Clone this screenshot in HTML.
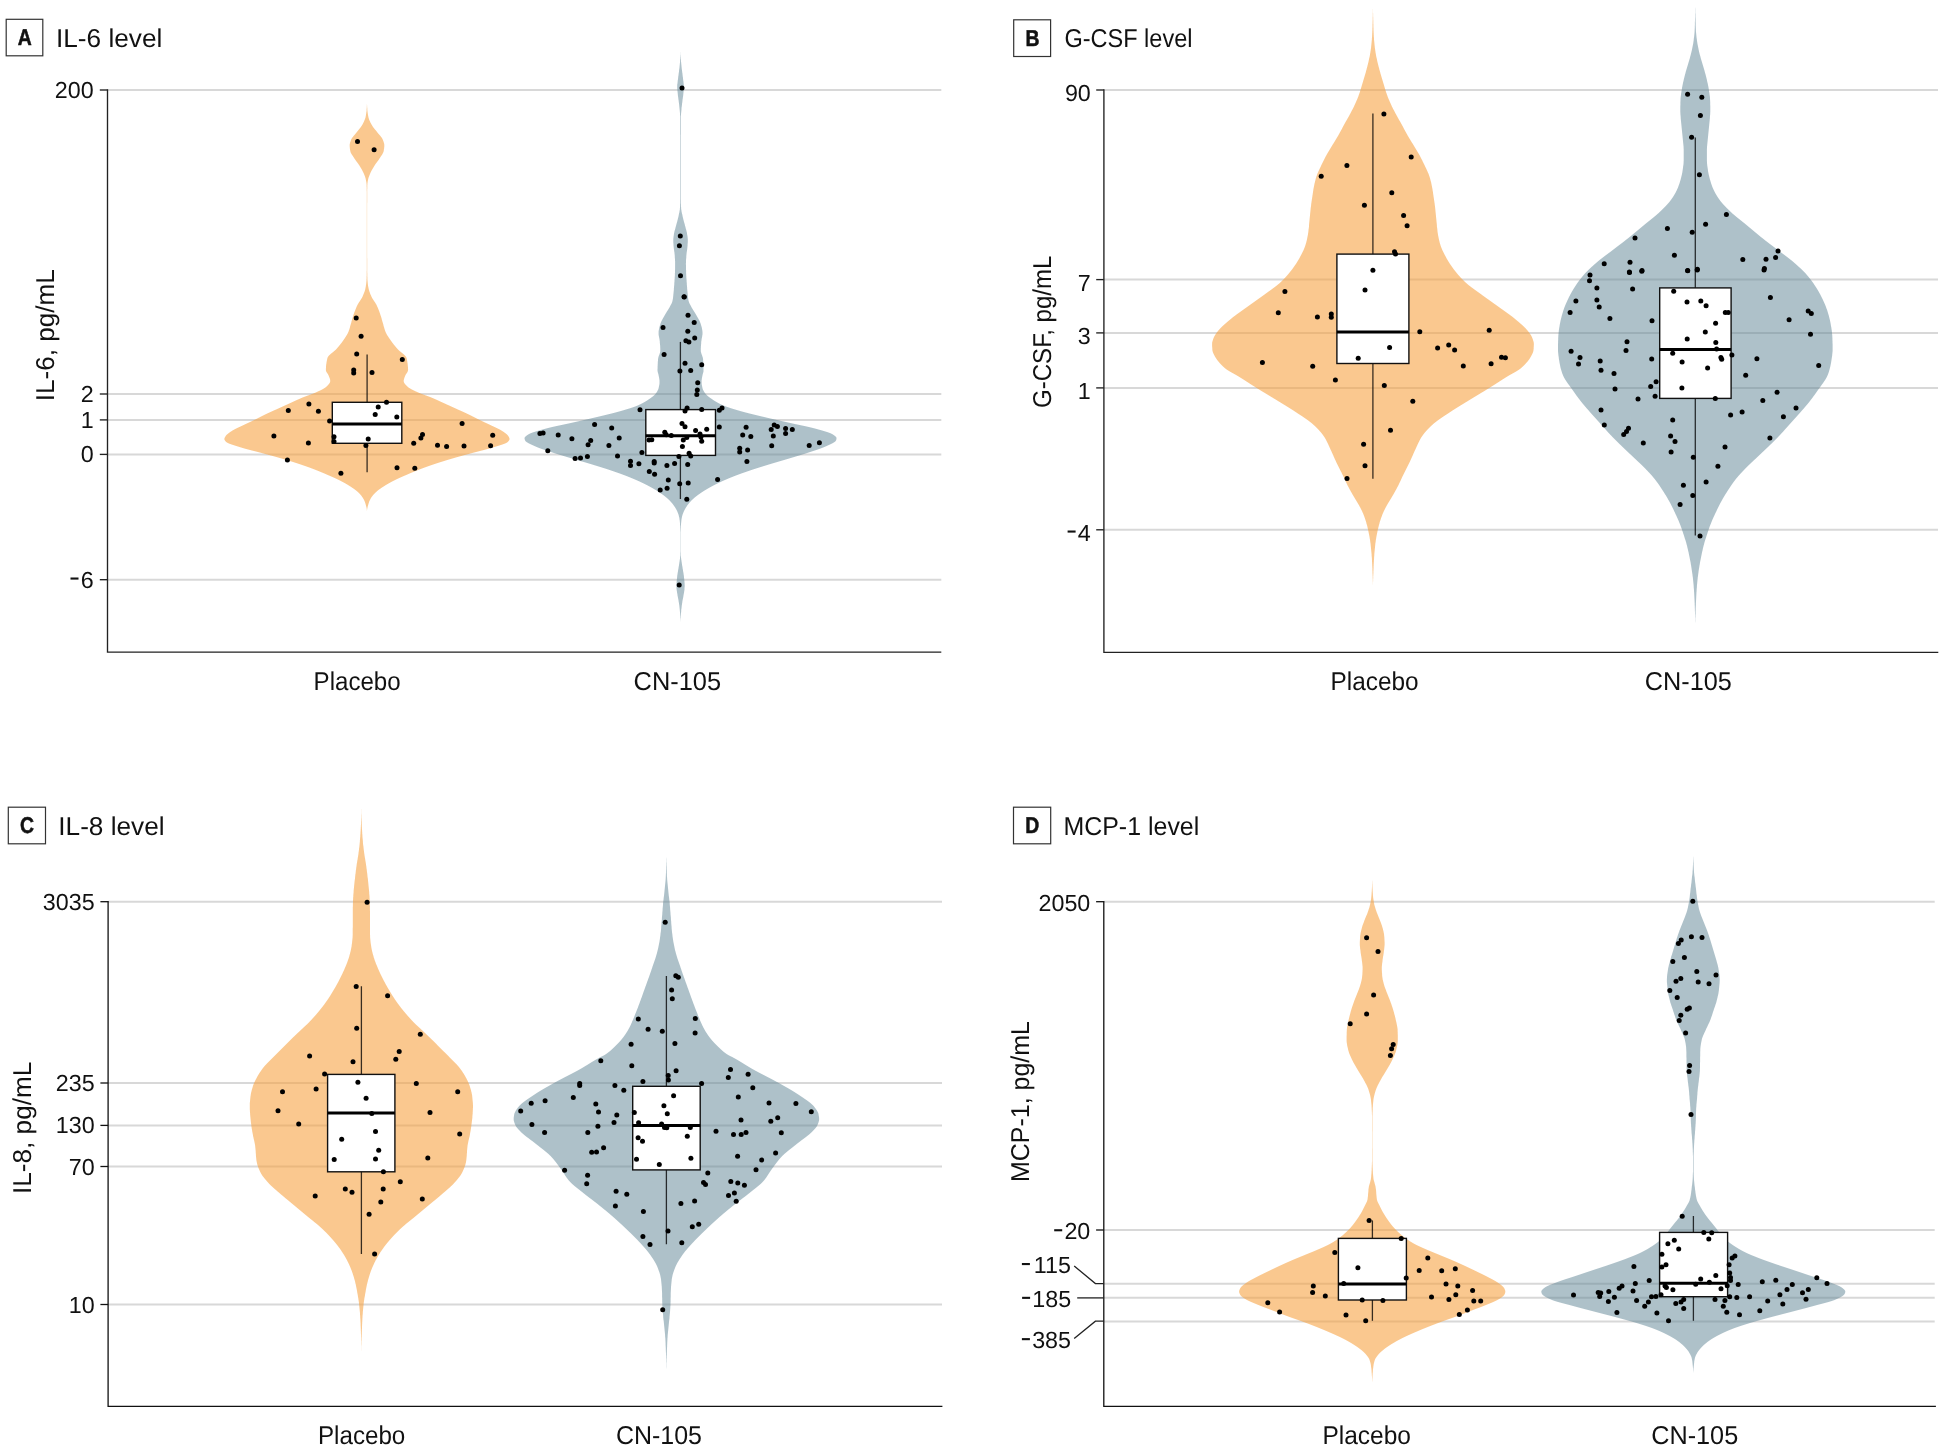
<!DOCTYPE html>
<html><head><meta charset="utf-8"><title>Figure</title>
<style>html,body{margin:0;padding:0;background:#fff}svg{display:block;will-change:transform}text{font-family:"Liberation Sans",sans-serif;fill:#111;text-rendering:geometricPrecision}</style></head><body>
<svg width="1944" height="1450" viewBox="0 0 1944 1450">
<rect width="1944" height="1450" fill="#fff"/>
<g id="panelA">
<line x1="107.5" y1="90" x2="941.3" y2="90" stroke="#d8d8d8" stroke-width="2"/>
<line x1="107.5" y1="394" x2="941.3" y2="394" stroke="#d8d8d8" stroke-width="2"/>
<line x1="107.5" y1="419.9" x2="941.3" y2="419.9" stroke="#d8d8d8" stroke-width="2"/>
<line x1="107.5" y1="454.4" x2="941.3" y2="454.4" stroke="#d8d8d8" stroke-width="2"/>
<line x1="107.5" y1="579.7" x2="941.3" y2="579.7" stroke="#d8d8d8" stroke-width="2"/>
<path d="M367.0,101.4 367.0,102.4 367.0,103.4 367.0,104.4 367.1,105.4 367.1,106.4 367.2,107.4 367.3,108.4 367.3,109.4 367.4,110.4 367.5,111.4 367.6,112.4 367.8,113.4 367.9,114.4 368.1,115.4 368.3,116.4 368.5,117.4 368.8,118.4 369.1,119.4 369.5,120.4 370.0,121.4 370.4,122.4 371.0,123.4 371.5,124.4 372.1,125.4 372.7,126.4 373.4,127.4 374.2,128.4 375.0,129.4 375.9,130.4 376.7,131.4 377.4,132.4 378.2,133.4 379.1,134.4 380.0,135.4 380.8,136.4 381.6,137.4 382.2,138.4 382.7,139.4 383.1,140.4 383.5,141.4 383.8,142.4 384.1,143.4 384.3,144.4 384.3,145.4 384.3,146.4 384.2,147.4 384.1,148.4 383.9,149.4 383.8,150.4 383.6,151.4 383.2,152.4 382.7,153.4 382.2,154.4 381.5,155.4 380.8,156.4 380.2,157.4 379.5,158.4 378.9,159.4 378.2,160.4 377.4,161.4 376.7,162.4 375.9,163.4 375.2,164.4 374.6,165.4 374.0,166.4 373.4,167.4 372.8,168.4 372.2,169.4 371.6,170.4 371.1,171.4 370.6,172.4 370.2,173.4 369.8,174.4 369.4,175.4 369.0,176.4 368.6,177.4 368.3,178.4 368.1,179.4 367.9,180.4 367.7,181.4 367.6,182.4 367.4,183.4 367.4,184.4 367.3,185.4 367.3,186.4 367.3,187.4 367.3,188.4 367.2,189.4 367.2,190.4 367.2,191.4 367.2,192.4 367.2,193.4 367.2,194.4 367.2,195.4 367.2,196.4 367.2,197.4 367.2,198.4 367.2,199.4 367.2,200.4 367.2,201.4 367.2,202.4 367.1,203.4 367.1,204.4 367.1,205.4 367.1,206.4 367.1,207.4 367.1,208.4 367.1,209.4 367.1,210.4 367.1,211.4 367.1,212.4 367.1,213.4 367.1,214.4 367.1,215.4 367.1,216.4 367.1,217.4 367.1,218.4 367.1,219.4 367.1,220.4 367.1,221.4 367.1,222.4 367.1,223.4 367.1,224.4 367.1,225.4 367.1,226.4 367.1,227.4 367.1,228.4 367.1,229.4 367.1,230.4 367.1,231.4 367.1,232.4 367.1,233.4 367.1,234.4 367.1,235.4 367.1,236.4 367.1,237.4 367.1,238.4 367.1,239.4 367.1,240.4 367.1,241.4 367.1,242.4 367.1,243.4 367.1,244.4 367.1,245.4 367.1,246.4 367.1,247.4 367.1,248.4 367.1,249.4 367.1,250.4 367.1,251.4 367.1,252.4 367.1,253.4 367.1,254.4 367.1,255.4 367.1,256.4 367.1,257.4 367.2,258.4 367.2,259.4 367.2,260.4 367.2,261.4 367.2,262.4 367.2,263.4 367.2,264.4 367.2,265.4 367.2,266.4 367.2,267.4 367.2,268.4 367.2,269.4 367.2,270.4 367.2,271.4 367.2,272.4 367.3,273.4 367.3,274.4 367.3,275.4 367.3,276.4 367.4,277.4 367.4,278.4 367.4,279.4 367.5,280.4 367.6,281.4 367.7,282.4 367.8,283.4 367.9,284.4 368.0,285.4 368.2,286.4 368.4,287.4 368.6,288.4 368.8,289.4 369.1,290.4 369.4,291.4 369.8,292.4 370.1,293.4 370.5,294.4 371.0,295.4 371.4,296.4 371.9,297.4 372.4,298.4 373.1,299.4 373.7,300.4 374.4,301.4 375.1,302.4 375.7,303.4 376.3,304.4 376.8,305.4 377.2,306.4 377.7,307.4 378.1,308.4 378.5,309.4 378.9,310.4 379.3,311.4 379.6,312.4 380.0,313.4 380.3,314.4 380.6,315.4 381.0,316.4 381.3,317.4 381.6,318.4 381.8,319.4 382.1,320.4 382.4,321.4 382.7,322.4 383.0,323.4 383.3,324.4 383.5,325.4 383.8,326.4 384.1,327.4 384.4,328.4 384.7,329.4 385.0,330.4 385.4,331.4 385.8,332.4 386.3,333.4 386.8,334.4 387.4,335.4 388.1,336.4 388.7,337.4 389.4,338.4 390.1,339.4 390.8,340.4 391.5,341.4 392.2,342.4 393.0,343.4 393.7,344.4 394.6,345.4 395.4,346.4 396.2,347.4 397.1,348.4 398.0,349.4 399.0,350.4 400.2,351.4 401.5,352.4 402.7,353.4 403.9,354.4 404.9,355.4 405.8,356.4 406.4,357.4 406.7,358.4 406.9,359.4 407.1,360.4 407.3,361.4 407.4,362.4 407.6,363.4 407.7,364.4 407.8,365.4 407.9,366.4 408.0,367.4 408.0,368.4 408.1,369.4 408.0,370.4 407.7,371.4 407.2,372.4 406.5,373.4 405.8,374.4 405.3,375.4 404.9,376.4 404.5,377.4 404.2,378.4 403.9,379.4 403.7,380.4 403.7,381.4 404.0,382.4 404.6,383.4 405.4,384.4 406.4,385.4 407.4,386.4 408.5,387.4 410.1,388.4 411.9,389.4 413.9,390.4 416.0,391.4 418.2,392.4 420.6,393.4 423.2,394.4 426.0,395.4 428.8,396.4 431.3,397.4 433.7,398.4 436.0,399.4 438.1,400.4 440.3,401.4 442.5,402.4 444.7,403.4 446.9,404.4 449.1,405.4 451.3,406.4 453.5,407.4 455.7,408.4 457.9,409.4 460.1,410.4 462.4,411.4 464.6,412.4 466.7,413.4 468.8,414.4 470.9,415.4 472.8,416.4 474.8,417.4 476.7,418.4 478.7,419.4 480.8,420.4 482.9,421.4 485.0,422.4 487.1,423.4 489.3,424.4 491.3,425.4 493.5,426.4 495.6,427.4 497.7,428.4 499.7,429.4 501.4,430.4 503.0,431.4 504.4,432.4 505.8,433.4 507.0,434.4 507.9,435.4 508.6,436.4 509.1,437.4 509.5,438.4 509.5,439.4 509.0,440.4 508.2,441.4 507.1,442.4 505.1,443.4 502.4,444.4 499.3,445.4 496.1,446.4 492.9,447.4 489.5,448.4 485.8,449.4 481.9,450.4 478.0,451.4 474.1,452.4 470.4,453.4 466.7,454.4 463.0,455.4 459.4,456.4 455.8,457.4 452.4,458.4 449.0,459.4 445.7,460.4 442.5,461.4 439.3,462.4 436.2,463.4 433.2,464.4 430.3,465.4 427.5,466.4 424.7,467.4 422.0,468.4 419.4,469.4 416.8,470.4 414.4,471.4 412.0,472.4 409.6,473.4 407.3,474.4 405.0,475.4 402.7,476.4 400.4,477.4 398.2,478.4 396.1,479.4 394.1,480.4 392.1,481.4 390.3,482.4 388.5,483.4 386.8,484.4 385.1,485.4 383.6,486.4 382.0,487.4 380.6,488.4 379.1,489.4 377.8,490.4 376.7,491.4 375.6,492.4 374.6,493.4 373.6,494.4 372.8,495.4 372.0,496.4 371.3,497.4 370.7,498.4 370.2,499.4 369.7,500.4 369.2,501.4 368.9,502.4 368.6,503.4 368.3,504.4 368.0,505.4 367.7,506.4 367.5,507.4 367.3,508.4 367.1,509.4 367.0,510.4 367.0,511.2 367.0,511.2 366.9,510.4 366.8,509.4 366.7,508.4 366.5,507.4 366.2,506.4 366.0,505.4 365.7,504.4 365.4,503.4 365.1,502.4 364.7,501.4 364.3,500.4 363.8,499.4 363.2,498.4 362.6,497.4 361.9,496.4 361.2,495.4 360.3,494.4 359.4,493.4 358.4,492.4 357.3,491.4 356.1,490.4 354.8,489.4 353.4,488.4 351.9,487.4 350.4,486.4 348.8,485.4 347.2,484.4 345.5,483.4 343.7,482.4 341.8,481.4 339.9,480.4 337.9,479.4 335.8,478.4 333.6,477.4 331.3,476.4 329.0,475.4 326.7,474.4 324.4,473.4 322.0,472.4 319.6,471.4 317.1,470.4 314.6,469.4 312.0,468.4 309.3,467.4 306.5,466.4 303.6,465.4 300.7,464.4 297.7,463.4 294.6,462.4 291.5,461.4 288.2,460.4 284.9,459.4 281.6,458.4 278.1,457.4 274.6,456.4 270.9,455.4 267.2,454.4 263.5,453.4 259.8,452.4 256.0,451.4 252.0,450.4 248.1,449.4 244.4,448.4 241.1,447.4 237.9,446.4 234.7,445.4 231.6,444.4 228.9,443.4 226.9,442.4 225.7,441.4 224.9,440.4 224.4,439.4 224.4,438.4 224.8,437.4 225.4,436.4 226.0,435.4 227.0,434.4 228.2,433.4 229.5,432.4 231.0,431.4 232.5,430.4 234.3,429.4 236.2,428.4 238.3,427.4 240.5,426.4 242.6,425.4 244.7,424.4 246.8,423.4 249.0,422.4 251.1,421.4 253.2,420.4 255.3,419.4 257.2,418.4 259.2,417.4 261.1,416.4 263.1,415.4 265.1,414.4 267.2,413.4 269.4,412.4 271.6,411.4 273.8,410.4 276.1,409.4 278.3,408.4 280.5,407.4 282.7,406.4 284.9,405.4 287.1,404.4 289.3,403.4 291.5,402.4 293.6,401.4 295.8,400.4 298.0,399.4 300.3,398.4 302.6,397.4 305.2,396.4 307.9,395.4 310.7,394.4 313.4,393.4 315.8,392.4 317.9,391.4 320.1,390.4 322.1,389.4 323.9,388.4 325.4,387.4 326.6,386.4 327.6,385.4 328.5,384.4 329.3,383.4 329.9,382.4 330.2,381.4 330.2,380.4 330.1,379.4 329.8,378.4 329.4,377.4 329.0,376.4 328.6,375.4 328.1,374.4 327.5,373.4 326.8,372.4 326.2,371.4 325.9,370.4 325.9,369.4 325.9,368.4 326.0,367.4 326.0,366.4 326.1,365.4 326.2,364.4 326.4,363.4 326.5,362.4 326.7,361.4 326.9,360.4 327.1,359.4 327.3,358.4 327.6,357.4 328.2,356.4 329.0,355.4 330.1,354.4 331.2,353.4 332.5,352.4 333.7,351.4 334.9,350.4 336.0,349.4 336.9,348.4 337.7,347.4 338.6,346.4 339.4,345.4 340.2,344.4 341.0,343.4 341.8,342.4 342.5,341.4 343.2,340.4 343.9,339.4 344.6,338.4 345.2,337.4 345.9,336.4 346.5,335.4 347.1,334.4 347.7,333.4 348.1,332.4 348.6,331.4 348.9,330.4 349.3,329.4 349.6,328.4 349.9,327.4 350.1,326.4 350.4,325.4 350.7,324.4 351.0,323.4 351.3,322.4 351.5,321.4 351.8,320.4 352.1,319.4 352.4,318.4 352.7,317.4 353.0,316.4 353.3,315.4 353.6,314.4 354.0,313.4 354.3,312.4 354.7,311.4 355.1,310.4 355.5,309.4 355.9,308.4 356.3,307.4 356.7,306.4 357.2,305.4 357.7,304.4 358.3,303.4 358.9,302.4 359.6,301.4 360.2,300.4 360.9,299.4 361.5,298.4 362.1,297.4 362.6,296.4 363.0,295.4 363.4,294.4 363.8,293.4 364.2,292.4 364.6,291.4 364.9,290.4 365.2,289.4 365.4,288.4 365.6,287.4 365.8,286.4 365.9,285.4 366.1,284.4 366.2,283.4 366.3,282.4 366.4,281.4 366.5,280.4 366.5,279.4 366.6,278.4 366.6,277.4 366.6,276.4 366.7,275.4 366.7,274.4 366.7,273.4 366.7,272.4 366.7,271.4 366.8,270.4 366.8,269.4 366.8,268.4 366.8,267.4 366.8,266.4 366.8,265.4 366.8,264.4 366.8,263.4 366.8,262.4 366.8,261.4 366.8,260.4 366.8,259.4 366.8,258.4 366.8,257.4 366.8,256.4 366.8,255.4 366.8,254.4 366.8,253.4 366.8,252.4 366.8,251.4 366.8,250.4 366.8,249.4 366.8,248.4 366.8,247.4 366.8,246.4 366.8,245.4 366.8,244.4 366.8,243.4 366.8,242.4 366.8,241.4 366.8,240.4 366.8,239.4 366.8,238.4 366.8,237.4 366.8,236.4 366.8,235.4 366.8,234.4 366.8,233.4 366.8,232.4 366.8,231.4 366.8,230.4 366.8,229.4 366.8,228.4 366.8,227.4 366.8,226.4 366.8,225.4 366.8,224.4 366.8,223.4 366.8,222.4 366.8,221.4 366.8,220.4 366.8,219.4 366.8,218.4 366.8,217.4 366.8,216.4 366.8,215.4 366.8,214.4 366.8,213.4 366.8,212.4 366.8,211.4 366.8,210.4 366.8,209.4 366.8,208.4 366.8,207.4 366.8,206.4 366.8,205.4 366.8,204.4 366.8,203.4 366.8,202.4 366.8,201.4 366.8,200.4 366.8,199.4 366.8,198.4 366.8,197.4 366.8,196.4 366.8,195.4 366.8,194.4 366.8,193.4 366.8,192.4 366.8,191.4 366.7,190.4 366.7,189.4 366.7,188.4 366.7,187.4 366.6,186.4 366.6,185.4 366.6,184.4 366.5,183.4 366.4,182.4 366.2,181.4 366.0,180.4 365.8,179.4 365.6,178.4 365.3,177.4 365.0,176.4 364.6,175.4 364.2,174.4 363.8,173.4 363.3,172.4 362.8,171.4 362.3,170.4 361.8,169.4 361.2,168.4 360.6,167.4 360.0,166.4 359.4,165.4 358.7,164.4 358.0,163.4 357.3,162.4 356.5,161.4 355.8,160.4 355.1,159.4 354.4,158.4 353.8,157.4 353.1,156.4 352.5,155.4 351.8,154.4 351.2,153.4 350.7,152.4 350.4,151.4 350.2,150.4 350.0,149.4 349.9,148.4 349.8,147.4 349.7,146.4 349.7,145.4 349.7,144.4 349.9,143.4 350.1,142.4 350.5,141.4 350.8,140.4 351.2,139.4 351.7,138.4 352.4,137.4 353.2,136.4 354.0,135.4 354.9,134.4 355.7,133.4 356.5,132.4 357.3,131.4 358.1,130.4 358.9,129.4 359.7,128.4 360.5,127.4 361.2,126.4 361.9,125.4 362.5,124.4 363.0,123.4 363.5,122.4 364.0,121.4 364.4,120.4 364.8,119.4 365.2,118.4 365.5,117.4 365.7,116.4 365.9,115.4 366.0,114.4 366.2,113.4 366.3,112.4 366.5,111.4 366.6,110.4 366.6,109.4 366.7,108.4 366.8,107.4 366.8,106.4 366.9,105.4 366.9,104.4 367.0,103.4 367.0,102.4 367.0,101.4Z" fill="#F6A03E" fill-opacity="0.58"/>
<path d="M680.5,51.2 680.6,52.2 680.6,53.2 680.6,54.2 680.7,55.2 680.7,56.2 680.8,57.2 680.8,58.2 680.9,59.2 681.0,60.2 681.0,61.2 681.1,62.2 681.2,63.2 681.3,64.2 681.4,65.2 681.5,66.2 681.6,67.2 681.7,68.2 681.8,69.2 682.0,70.2 682.1,71.2 682.2,72.2 682.4,73.2 682.5,74.2 682.6,75.2 682.7,76.2 682.9,77.2 683.0,78.2 683.1,79.2 683.2,80.2 683.4,81.2 683.5,82.2 683.6,83.2 683.7,84.2 683.8,85.2 683.9,86.2 683.9,87.2 683.8,88.2 683.8,89.2 683.7,90.2 683.6,91.2 683.5,92.2 683.4,93.2 683.3,94.2 683.2,95.2 683.1,96.2 682.9,97.2 682.8,98.2 682.6,99.2 682.5,100.2 682.4,101.2 682.3,102.2 682.1,103.2 682.0,104.2 681.9,105.2 681.8,106.2 681.6,107.2 681.5,108.2 681.5,109.2 681.4,110.2 681.3,111.2 681.2,112.2 681.1,113.2 681.0,114.2 681.0,115.2 680.9,116.2 680.9,117.2 680.9,118.2 680.9,119.2 680.9,120.2 680.9,121.2 680.9,122.2 680.9,123.2 680.9,124.2 680.9,125.2 680.9,126.2 680.9,127.2 680.9,128.2 680.9,129.2 680.9,130.2 680.9,131.2 680.9,132.2 680.9,133.2 680.9,134.2 680.8,135.2 680.8,136.2 680.8,137.2 680.8,138.2 680.8,139.2 680.8,140.2 680.8,141.2 680.8,142.2 680.8,143.2 680.8,144.2 680.8,145.2 680.8,146.2 680.8,147.2 680.8,148.2 680.8,149.2 680.8,150.2 680.8,151.2 680.8,152.2 680.8,153.2 680.8,154.2 680.8,155.2 680.8,156.2 680.8,157.2 680.8,158.2 680.8,159.2 680.8,160.2 680.8,161.2 680.8,162.2 680.8,163.2 680.8,164.2 680.8,165.2 680.8,166.2 680.8,167.2 680.8,168.2 680.8,169.2 680.8,170.2 680.8,171.2 680.8,172.2 680.8,173.2 680.8,174.2 680.8,175.2 680.8,176.2 680.8,177.2 680.8,178.2 680.8,179.2 680.8,180.2 680.8,181.2 680.8,182.2 680.8,183.2 680.8,184.2 680.8,185.2 680.8,186.2 680.8,187.2 680.8,188.2 680.8,189.2 680.8,190.2 680.8,191.2 680.8,192.2 680.8,193.2 680.8,194.2 680.8,195.2 680.8,196.2 680.8,197.2 680.8,198.2 680.8,199.2 680.9,200.2 680.9,201.2 680.9,202.2 680.9,203.2 681.0,204.2 681.0,205.2 681.0,206.2 681.1,207.2 681.1,208.2 681.2,209.2 681.4,210.2 681.5,211.2 681.7,212.2 681.9,213.2 682.2,214.2 682.4,215.2 682.6,216.2 682.8,217.2 683.1,218.2 683.3,219.2 683.6,220.2 683.8,221.2 684.1,222.2 684.4,223.2 684.7,224.2 684.9,225.2 685.2,226.2 685.5,227.2 685.7,228.2 686.0,229.2 686.3,230.2 686.5,231.2 686.8,232.2 687.0,233.2 687.1,234.2 687.3,235.2 687.5,236.2 687.6,237.2 687.7,238.2 687.8,239.2 687.8,240.2 687.8,241.2 687.8,242.2 687.7,243.2 687.6,244.2 687.6,245.2 687.5,246.2 687.4,247.2 687.3,248.2 687.2,249.2 687.0,250.2 686.9,251.2 686.7,252.2 686.6,253.2 686.5,254.2 686.4,255.2 686.3,256.2 686.3,257.2 686.2,258.2 686.1,259.2 686.0,260.2 686.0,261.2 686.0,262.2 685.9,263.2 685.9,264.2 686.0,265.2 686.0,266.2 686.0,267.2 686.0,268.2 686.0,269.2 686.1,270.2 686.1,271.2 686.1,272.2 686.1,273.2 686.2,274.2 686.2,275.2 686.3,276.2 686.3,277.2 686.4,278.2 686.5,279.2 686.6,280.2 686.6,281.2 686.7,282.2 686.8,283.2 686.8,284.2 686.9,285.2 687.0,286.2 687.1,287.2 687.1,288.2 687.2,289.2 687.3,290.2 687.4,291.2 687.5,292.2 687.6,293.2 687.7,294.2 687.8,295.2 687.9,296.2 688.0,297.2 688.1,298.2 688.3,299.2 688.4,300.2 688.7,301.2 689.0,302.2 689.4,303.2 689.9,304.2 690.5,305.2 691.0,306.2 691.5,307.2 692.1,308.2 692.7,309.2 693.3,310.2 693.9,311.2 694.6,312.2 695.2,313.2 695.8,314.2 696.4,315.2 696.9,316.2 697.5,317.2 698.1,318.2 698.6,319.2 699.2,320.2 699.7,321.2 700.1,322.2 700.5,323.2 700.8,324.2 701.1,325.2 701.4,326.2 701.7,327.2 701.9,328.2 702.1,329.2 702.3,330.2 702.4,331.2 702.5,332.2 702.5,333.2 702.5,334.2 702.3,335.2 702.2,336.2 702.0,337.2 701.8,338.2 701.6,339.2 701.5,340.2 701.3,341.2 701.2,342.2 701.2,343.2 701.1,344.2 701.0,345.2 700.9,346.2 700.9,347.2 700.8,348.2 700.8,349.2 700.8,350.2 700.8,351.2 701.0,352.2 701.3,353.2 701.6,354.2 702.0,355.2 702.3,356.2 702.7,357.2 702.9,358.2 703.1,359.2 703.1,360.2 703.2,361.2 703.3,362.2 703.3,363.2 703.4,364.2 703.4,365.2 703.5,366.2 703.5,367.2 703.5,368.2 703.5,369.2 703.5,370.2 703.5,371.2 703.3,372.2 703.0,373.2 702.7,374.2 702.5,375.2 702.3,376.2 702.1,377.2 701.9,378.2 701.8,379.2 701.6,380.2 701.6,381.2 701.6,382.2 701.6,383.2 701.7,384.2 701.9,385.2 702.1,386.2 702.3,387.2 702.5,388.2 702.8,389.2 703.3,390.2 703.8,391.2 704.4,392.2 705.1,393.2 705.9,394.2 706.9,395.2 708.0,396.2 709.3,397.2 710.7,398.2 712.2,399.2 713.6,400.2 715.2,401.2 716.9,402.2 718.7,403.2 720.6,404.2 722.8,405.2 725.2,406.2 728.0,407.2 731.0,408.2 734.2,409.2 737.6,410.2 741.0,411.2 744.7,412.2 748.5,413.2 752.6,414.2 756.7,415.2 760.9,416.2 765.1,417.2 769.3,418.2 773.7,419.2 778.1,420.2 782.5,421.2 787.0,422.2 791.4,423.2 796.0,424.2 800.8,425.2 805.5,426.2 809.9,427.2 814.0,428.2 817.6,429.2 821.2,430.2 824.6,431.2 827.8,432.2 830.5,433.2 832.5,434.2 834.0,435.2 835.3,436.2 836.3,437.2 836.5,438.2 836.4,439.2 836.1,440.2 835.5,441.2 834.2,442.2 832.5,443.2 830.5,444.2 828.3,445.2 826.1,446.2 823.8,447.2 821.2,448.2 818.4,449.2 815.5,450.2 812.4,451.2 809.4,452.2 806.4,453.2 803.2,454.2 799.9,455.2 796.6,456.2 793.3,457.2 789.9,458.2 786.6,459.2 783.2,460.2 779.8,461.2 776.4,462.2 773.0,463.2 769.7,464.2 766.4,465.2 763.2,466.2 760.0,467.2 756.8,468.2 753.7,469.2 750.7,470.2 747.8,471.2 744.9,472.2 742.0,473.2 739.3,474.2 736.6,475.2 734.0,476.2 731.5,477.2 729.0,478.2 726.7,479.2 724.4,480.2 722.1,481.2 720.0,482.2 717.9,483.2 715.9,484.2 713.9,485.2 712.0,486.2 710.2,487.2 708.4,488.2 706.7,489.2 705.0,490.2 703.4,491.2 701.9,492.2 700.4,493.2 699.0,494.2 697.6,495.2 696.3,496.2 695.0,497.2 693.9,498.2 692.8,499.2 691.7,500.2 690.8,501.2 689.8,502.2 689.0,503.2 688.2,504.2 687.4,505.2 686.8,506.2 686.1,507.2 685.5,508.2 684.9,509.2 684.4,510.2 683.9,511.2 683.5,512.2 683.1,513.2 682.7,514.2 682.4,515.2 682.1,516.2 681.9,517.2 681.7,518.2 681.5,519.2 681.4,520.2 681.3,521.2 681.2,522.2 681.1,523.2 681.0,524.2 681.0,525.2 680.9,526.2 680.9,527.2 680.8,528.2 680.8,529.2 680.8,530.2 680.7,531.2 680.7,532.2 680.7,533.2 680.7,534.2 680.7,535.2 680.7,536.2 680.7,537.2 680.7,538.2 680.7,539.2 680.7,540.2 680.7,541.2 680.7,542.2 680.7,543.2 680.7,544.2 680.7,545.2 680.7,546.2 680.7,547.2 680.7,548.2 680.7,549.2 680.7,550.2 680.7,551.2 680.7,552.2 680.8,553.2 680.8,554.2 680.8,555.2 680.9,556.2 681.0,557.2 681.1,558.2 681.2,559.2 681.4,560.2 681.5,561.2 681.7,562.2 681.8,563.2 682.0,564.2 682.1,565.2 682.3,566.2 682.5,567.2 682.6,568.2 682.8,569.2 683.0,570.2 683.1,571.2 683.3,572.2 683.5,573.2 683.6,574.2 683.8,575.2 683.9,576.2 684.0,577.2 684.1,578.2 684.2,579.2 684.3,580.2 684.4,581.2 684.5,582.2 684.6,583.2 684.6,584.2 684.7,585.2 684.7,586.2 684.6,587.2 684.5,588.2 684.5,589.2 684.4,590.2 684.2,591.2 684.1,592.2 683.9,593.2 683.7,594.2 683.5,595.2 683.4,596.2 683.2,597.2 683.0,598.2 682.8,599.2 682.6,600.2 682.4,601.2 682.3,602.2 682.1,603.2 682.0,604.2 681.8,605.2 681.7,606.2 681.6,607.2 681.5,608.2 681.3,609.2 681.2,610.2 681.2,611.2 681.1,612.2 681.0,613.2 680.9,614.2 680.9,615.2 680.8,616.2 680.8,617.2 680.7,618.2 680.6,619.2 680.6,620.2 680.6,621.2 680.5,621.4 680.5,621.4 680.5,621.2 680.5,620.2 680.4,619.2 680.4,618.2 680.3,617.2 680.3,616.2 680.2,615.2 680.1,614.2 680.1,613.2 680.0,612.2 679.9,611.2 679.8,610.2 679.7,609.2 679.6,608.2 679.5,607.2 679.4,606.2 679.3,605.2 679.1,604.2 679.0,603.2 678.8,602.2 678.6,601.2 678.5,600.2 678.3,599.2 678.1,598.2 677.9,597.2 677.7,596.2 677.5,595.2 677.4,594.2 677.2,593.2 677.0,592.2 676.9,591.2 676.7,590.2 676.6,589.2 676.5,588.2 676.5,587.2 676.4,586.2 676.4,585.2 676.5,584.2 676.5,583.2 676.6,582.2 676.7,581.2 676.8,580.2 676.9,579.2 677.0,578.2 677.1,577.2 677.2,576.2 677.3,575.2 677.5,574.2 677.6,573.2 677.8,572.2 678.0,571.2 678.1,570.2 678.3,569.2 678.5,568.2 678.6,567.2 678.8,566.2 679.0,565.2 679.1,564.2 679.3,563.2 679.4,562.2 679.6,561.2 679.7,560.2 679.9,559.2 680.0,558.2 680.1,557.2 680.2,556.2 680.3,555.2 680.3,554.2 680.3,553.2 680.3,552.2 680.4,551.2 680.4,550.2 680.4,549.2 680.4,548.2 680.4,547.2 680.4,546.2 680.4,545.2 680.4,544.2 680.4,543.2 680.4,542.2 680.4,541.2 680.4,540.2 680.4,539.2 680.4,538.2 680.4,537.2 680.4,536.2 680.4,535.2 680.4,534.2 680.4,533.2 680.4,532.2 680.3,531.2 680.3,530.2 680.3,529.2 680.2,528.2 680.2,527.2 680.2,526.2 680.1,525.2 680.0,524.2 680.0,523.2 679.9,522.2 679.8,521.2 679.7,520.2 679.5,519.2 679.4,518.2 679.2,517.2 678.9,516.2 678.7,515.2 678.4,514.2 678.0,513.2 677.6,512.2 677.2,511.2 676.7,510.2 676.2,509.2 675.6,508.2 675.0,507.2 674.3,506.2 673.6,505.2 672.9,504.2 672.1,503.2 671.2,502.2 670.3,501.2 669.4,500.2 668.3,499.2 667.2,498.2 666.0,497.2 664.8,496.2 663.5,495.2 662.1,494.2 660.6,493.2 659.2,492.2 657.6,491.2 656.1,490.2 654.4,489.2 652.7,488.2 650.9,487.2 649.1,486.2 647.2,485.2 645.2,484.2 643.2,483.2 641.1,482.2 639.0,481.2 636.7,480.2 634.4,479.2 632.0,478.2 629.6,477.2 627.1,476.2 624.5,475.2 621.8,474.2 619.1,473.2 616.2,472.2 613.3,471.2 610.4,470.2 607.4,469.2 604.3,468.2 601.1,467.2 597.9,466.2 594.6,465.2 591.4,464.2 588.1,463.2 584.7,462.2 581.3,461.2 577.9,460.2 574.5,459.2 571.2,458.2 567.8,457.2 564.5,456.2 561.2,455.2 557.9,454.2 554.7,453.2 551.7,452.2 548.6,451.2 545.6,450.2 542.7,449.2 539.8,448.2 537.3,447.2 535.0,446.2 532.8,445.2 530.6,444.2 528.6,443.2 526.9,442.2 525.6,441.2 525.0,440.2 524.7,439.2 524.5,438.2 524.8,437.2 525.8,436.2 527.1,435.2 528.6,434.2 530.6,433.2 533.3,432.2 536.5,431.2 539.9,430.2 543.5,429.2 547.1,428.2 551.2,427.2 555.6,426.2 560.3,425.2 565.0,424.2 569.7,423.2 574.1,422.2 578.6,421.2 583.0,420.2 587.4,419.2 591.7,418.2 596.0,417.2 600.2,416.2 604.4,415.2 608.5,414.2 612.6,413.2 616.4,412.2 620.0,411.2 623.5,410.2 626.8,409.2 630.1,408.2 633.1,407.2 635.9,406.2 638.3,405.2 640.4,404.2 642.4,403.2 644.2,402.2 645.9,401.2 647.5,400.2 648.9,399.2 650.4,398.2 651.7,397.2 653.1,396.2 654.2,395.2 655.2,394.2 656.0,393.2 656.7,392.2 657.3,391.2 657.8,390.2 658.3,389.2 658.6,388.2 658.8,387.2 659.0,386.2 659.2,385.2 659.4,384.2 659.5,383.2 659.5,382.2 659.5,381.2 659.5,380.2 659.3,379.2 659.2,378.2 659.0,377.2 658.8,376.2 658.6,375.2 658.4,374.2 658.1,373.2 657.8,372.2 657.6,371.2 657.5,370.2 657.5,369.2 657.6,368.2 657.6,367.2 657.6,366.2 657.7,365.2 657.7,364.2 657.8,363.2 657.8,362.2 657.9,361.2 658.0,360.2 658.0,359.2 658.2,358.2 658.4,357.2 658.7,356.2 659.1,355.2 659.5,354.2 659.8,353.2 660.1,352.2 660.3,351.2 660.3,350.2 660.3,349.2 660.3,348.2 660.2,347.2 660.2,346.2 660.1,345.2 660.0,344.2 659.9,343.2 659.8,342.2 659.8,341.2 659.6,340.2 659.5,339.2 659.3,338.2 659.1,337.2 658.9,336.2 658.7,335.2 658.6,334.2 658.6,333.2 658.6,332.2 658.6,331.2 658.8,330.2 659.0,329.2 659.2,328.2 659.4,327.2 659.7,326.2 660.0,325.2 660.3,324.2 660.6,323.2 661.0,322.2 661.4,321.2 661.9,320.2 662.5,319.2 663.0,318.2 663.6,317.2 664.2,316.2 664.7,315.2 665.3,314.2 665.9,313.2 666.5,312.2 667.1,311.2 667.8,310.2 668.4,309.2 669.0,308.2 669.6,307.2 670.1,306.2 670.6,305.2 671.2,304.2 671.7,303.2 672.1,302.2 672.4,301.2 672.6,300.2 672.8,299.2 673.0,298.2 673.1,297.2 673.2,296.2 673.3,295.2 673.4,294.2 673.5,293.2 673.6,292.2 673.7,291.2 673.8,290.2 673.9,289.2 673.9,288.2 674.0,287.2 674.1,286.2 674.2,285.2 674.3,284.2 674.3,283.2 674.4,282.2 674.5,281.2 674.5,280.2 674.6,279.2 674.7,278.2 674.7,277.2 674.8,276.2 674.9,275.2 674.9,274.2 674.9,273.2 675.0,272.2 675.0,271.2 675.0,270.2 675.1,269.2 675.1,268.2 675.1,267.2 675.1,266.2 675.1,265.2 675.1,264.2 675.1,263.2 675.1,262.2 675.1,261.2 675.0,260.2 675.0,259.2 674.9,258.2 674.8,257.2 674.8,256.2 674.7,255.2 674.6,254.2 674.5,253.2 674.4,252.2 674.2,251.2 674.1,250.2 673.9,249.2 673.8,248.2 673.7,247.2 673.6,246.2 673.5,245.2 673.5,244.2 673.4,243.2 673.3,242.2 673.3,241.2 673.3,240.2 673.3,239.2 673.4,238.2 673.5,237.2 673.6,236.2 673.8,235.2 673.9,234.2 674.1,233.2 674.3,232.2 674.5,231.2 674.8,230.2 675.1,229.2 675.4,228.2 675.6,227.2 675.9,226.2 676.2,225.2 676.4,224.2 676.7,223.2 677.0,222.2 677.3,221.2 677.5,220.2 677.8,219.2 678.0,218.2 678.3,217.2 678.5,216.2 678.7,215.2 678.9,214.2 679.1,213.2 679.4,212.2 679.5,211.2 679.7,210.2 679.9,209.2 679.9,208.2 680.0,207.2 680.1,206.2 680.1,205.2 680.1,204.2 680.2,203.2 680.2,202.2 680.2,201.2 680.2,200.2 680.2,199.2 680.2,198.2 680.2,197.2 680.2,196.2 680.2,195.2 680.2,194.2 680.2,193.2 680.2,192.2 680.2,191.2 680.2,190.2 680.2,189.2 680.2,188.2 680.2,187.2 680.2,186.2 680.2,185.2 680.2,184.2 680.2,183.2 680.2,182.2 680.2,181.2 680.2,180.2 680.2,179.2 680.2,178.2 680.2,177.2 680.2,176.2 680.2,175.2 680.2,174.2 680.2,173.2 680.2,172.2 680.2,171.2 680.2,170.2 680.2,169.2 680.2,168.2 680.2,167.2 680.2,166.2 680.2,165.2 680.2,164.2 680.2,163.2 680.2,162.2 680.2,161.2 680.2,160.2 680.2,159.2 680.2,158.2 680.2,157.2 680.2,156.2 680.2,155.2 680.2,154.2 680.2,153.2 680.2,152.2 680.2,151.2 680.2,150.2 680.2,149.2 680.2,148.2 680.2,147.2 680.2,146.2 680.2,145.2 680.2,144.2 680.2,143.2 680.2,142.2 680.2,141.2 680.2,140.2 680.2,139.2 680.2,138.2 680.2,137.2 680.2,136.2 680.2,135.2 680.2,134.2 680.2,133.2 680.2,132.2 680.2,131.2 680.2,130.2 680.2,129.2 680.2,128.2 680.2,127.2 680.2,126.2 680.2,125.2 680.2,124.2 680.2,123.2 680.2,122.2 680.2,121.2 680.2,120.2 680.2,119.2 680.2,118.2 680.2,117.2 680.2,116.2 680.1,115.2 680.0,114.2 680.0,113.2 679.9,112.2 679.8,111.2 679.7,110.2 679.6,109.2 679.5,108.2 679.4,107.2 679.3,106.2 679.2,105.2 679.1,104.2 679.0,103.2 678.8,102.2 678.7,101.2 678.6,100.2 678.4,99.2 678.3,98.2 678.2,97.2 678.0,96.2 677.9,95.2 677.8,94.2 677.7,93.2 677.6,92.2 677.5,91.2 677.4,90.2 677.3,89.2 677.2,88.2 677.2,87.2 677.2,86.2 677.2,85.2 677.3,84.2 677.5,83.2 677.6,82.2 677.7,81.2 677.8,80.2 678.0,79.2 678.1,78.2 678.2,77.2 678.3,76.2 678.5,75.2 678.6,74.2 678.7,73.2 678.9,72.2 679.0,71.2 679.1,70.2 679.2,69.2 679.4,68.2 679.5,67.2 679.6,66.2 679.7,65.2 679.8,64.2 679.9,63.2 680.0,62.2 680.1,61.2 680.1,60.2 680.2,59.2 680.3,58.2 680.3,57.2 680.4,56.2 680.4,55.2 680.5,54.2 680.5,53.2 680.5,52.2 680.5,51.2Z" fill="#5D8393" fill-opacity="0.5"/>
<line x1="367.1" y1="354.4" x2="367.1" y2="472.3" stroke="#000" stroke-opacity="0.78" stroke-width="1.3"/>
<rect x="332.3" y="402.3" width="69.5" height="41.0" fill="#fff" stroke="#111" stroke-width="1.4"/>
<line x1="332.3" y1="423.9" x2="401.8" y2="423.9" stroke="#000" stroke-width="3"/>
<line x1="680.4" y1="341.9" x2="680.4" y2="499" stroke="#000" stroke-opacity="0.78" stroke-width="1.3"/>
<rect x="645.8" y="409.6" width="69.7" height="45.8" fill="#fff" stroke="#111" stroke-width="1.4"/>
<line x1="645.8" y1="435.7" x2="715.5" y2="435.7" stroke="#000" stroke-width="3"/>
<g fill="#000"><circle cx="357.5" cy="141.5" r="2.5"/><circle cx="374.1" cy="149.8" r="2.5"/><circle cx="356.2" cy="318.0" r="2.5"/><circle cx="361.1" cy="336.3" r="2.5"/><circle cx="356.7" cy="354.1" r="2.5"/><circle cx="402.3" cy="359.5" r="2.5"/><circle cx="353.7" cy="369.9" r="2.5"/><circle cx="353.7" cy="373.1" r="2.5"/><circle cx="372.0" cy="372.4" r="2.5"/><circle cx="308.9" cy="404.0" r="2.5"/><circle cx="288.3" cy="410.5" r="2.5"/><circle cx="318.4" cy="411.2" r="2.5"/><circle cx="329.6" cy="420.9" r="2.5"/><circle cx="386.5" cy="402.3" r="2.5"/><circle cx="378.2" cy="407.0" r="2.5"/><circle cx="375.2" cy="414.4" r="2.5"/><circle cx="396.8" cy="416.9" r="2.5"/><circle cx="462.1" cy="423.6" r="2.5"/><circle cx="273.9" cy="435.9" r="2.5"/><circle cx="308.4" cy="443.1" r="2.5"/><circle cx="334.0" cy="436.8" r="2.5"/><circle cx="334.0" cy="441.5" r="2.5"/><circle cx="368.2" cy="438.9" r="2.5"/><circle cx="365.9" cy="445.4" r="2.5"/><circle cx="422.5" cy="434.5" r="2.5"/><circle cx="420.9" cy="438.0" r="2.5"/><circle cx="413.7" cy="443.3" r="2.5"/><circle cx="437.5" cy="445.2" r="2.5"/><circle cx="446.6" cy="446.6" r="2.5"/><circle cx="464.0" cy="445.9" r="2.5"/><circle cx="492.7" cy="435.3" r="2.5"/><circle cx="490.6" cy="445.7" r="2.5"/><circle cx="287.4" cy="460.0" r="2.5"/><circle cx="340.9" cy="473.3" r="2.5"/><circle cx="397.0" cy="467.7" r="2.5"/><circle cx="414.8" cy="468.2" r="2.5"/></g>
<g fill="#000"><circle cx="682.0" cy="88.0" r="2.5"/><circle cx="680.3" cy="235.9" r="2.5"/><circle cx="679.4" cy="245.8" r="2.5"/><circle cx="680.5" cy="275.8" r="2.5"/><circle cx="684.2" cy="297.0" r="2.5"/><circle cx="684.1" cy="296.7" r="2.5"/><circle cx="688.0" cy="315.2" r="2.5"/><circle cx="694.2" cy="322.6" r="2.5"/><circle cx="663.0" cy="327.5" r="2.5"/><circle cx="687.8" cy="331.2" r="2.5"/><circle cx="694.7" cy="338.0" r="2.5"/><circle cx="685.9" cy="340.7" r="2.5"/><circle cx="688.9" cy="342.1" r="2.5"/><circle cx="664.1" cy="354.6" r="2.5"/><circle cx="685.0" cy="363.2" r="2.5"/><circle cx="701.7" cy="364.8" r="2.5"/><circle cx="679.9" cy="370.9" r="2.5"/><circle cx="690.7" cy="370.6" r="2.5"/><circle cx="697.7" cy="382.7" r="2.5"/><circle cx="697.3" cy="389.9" r="2.5"/><circle cx="696.8" cy="394.5" r="2.5"/><circle cx="687.1" cy="407.9" r="2.5"/><circle cx="685.0" cy="411.0" r="2.5"/><circle cx="701.7" cy="409.6" r="2.5"/><circle cx="640.0" cy="409.8" r="2.5"/><circle cx="722.0" cy="408.1" r="2.5"/><circle cx="719.3" cy="410.2" r="2.5"/><circle cx="594.6" cy="424.6" r="2.5"/><circle cx="611.7" cy="427.9" r="2.5"/><circle cx="719.3" cy="427.1" r="2.5"/><circle cx="746.1" cy="427.2" r="2.5"/><circle cx="774.2" cy="424.9" r="2.5"/><circle cx="777.4" cy="426.4" r="2.5"/><circle cx="771.2" cy="429.5" r="2.5"/><circle cx="785.6" cy="428.6" r="2.5"/><circle cx="792.3" cy="429.5" r="2.5"/><circle cx="785.6" cy="433.4" r="2.5"/><circle cx="773.3" cy="436.0" r="2.5"/><circle cx="742.7" cy="435.0" r="2.5"/><circle cx="750.8" cy="436.6" r="2.5"/><circle cx="539.9" cy="433.6" r="2.5"/><circle cx="543.1" cy="433.0" r="2.5"/><circle cx="558.2" cy="435.0" r="2.5"/><circle cx="571.9" cy="438.8" r="2.5"/><circle cx="590.7" cy="440.4" r="2.5"/><circle cx="588.1" cy="444.8" r="2.5"/><circle cx="608.9" cy="445.5" r="2.5"/><circle cx="619.2" cy="438.0" r="2.5"/><circle cx="682.0" cy="423.5" r="2.5"/><circle cx="685.0" cy="426.7" r="2.5"/><circle cx="706.7" cy="429.2" r="2.5"/><circle cx="695.6" cy="430.4" r="2.5"/><circle cx="664.8" cy="432.2" r="2.5"/><circle cx="666.2" cy="434.8" r="2.5"/><circle cx="671.3" cy="435.5" r="2.5"/><circle cx="700.0" cy="433.9" r="2.5"/><circle cx="700.9" cy="437.1" r="2.5"/><circle cx="686.8" cy="437.4" r="2.5"/><circle cx="683.3" cy="440.1" r="2.5"/><circle cx="701.7" cy="441.3" r="2.5"/><circle cx="649.0" cy="440.1" r="2.5"/><circle cx="651.8" cy="439.7" r="2.5"/><circle cx="682.4" cy="446.6" r="2.5"/><circle cx="689.1" cy="453.3" r="2.5"/><circle cx="690.7" cy="455.9" r="2.5"/><circle cx="678.9" cy="456.4" r="2.5"/><circle cx="641.9" cy="452.4" r="2.5"/><circle cx="547.8" cy="450.8" r="2.5"/><circle cx="575.1" cy="458.5" r="2.5"/><circle cx="580.5" cy="458.0" r="2.5"/><circle cx="587.4" cy="456.4" r="2.5"/><circle cx="617.5" cy="456.1" r="2.5"/><circle cx="630.5" cy="461.2" r="2.5"/><circle cx="630.5" cy="465.6" r="2.5"/><circle cx="638.9" cy="463.8" r="2.5"/><circle cx="654.2" cy="461.5" r="2.5"/><circle cx="654.2" cy="462.9" r="2.5"/><circle cx="666.9" cy="465.4" r="2.5"/><circle cx="674.6" cy="463.5" r="2.5"/><circle cx="687.7" cy="464.5" r="2.5"/><circle cx="649.3" cy="471.6" r="2.5"/><circle cx="654.6" cy="474.2" r="2.5"/><circle cx="668.3" cy="480.0" r="2.5"/><circle cx="679.7" cy="483.7" r="2.5"/><circle cx="688.2" cy="483.0" r="2.5"/><circle cx="717.6" cy="479.5" r="2.5"/><circle cx="667.1" cy="488.3" r="2.5"/><circle cx="660.2" cy="489.9" r="2.5"/><circle cx="686.8" cy="499.3" r="2.5"/><circle cx="739.7" cy="448.3" r="2.5"/><circle cx="739.7" cy="451.9" r="2.5"/><circle cx="747.6" cy="450.1" r="2.5"/><circle cx="746.9" cy="461.4" r="2.5"/><circle cx="771.7" cy="445.7" r="2.5"/><circle cx="809.2" cy="445.5" r="2.5"/><circle cx="819.4" cy="442.7" r="2.5"/><circle cx="679.2" cy="585.0" r="2.5"/></g>
<path d="M107.5,89.3 V652.1 H941.3" fill="none" stroke="#222" stroke-width="1.35"/>
<line x1="99.8" y1="90" x2="107.5" y2="90" stroke="#222" stroke-width="1.35"/>
<text x="93.7" y="98.0" font-size="23.3" text-anchor="end" font-weight="normal" >200</text>
<line x1="99.8" y1="394" x2="107.5" y2="394" stroke="#222" stroke-width="1.35"/>
<text x="93.7" y="402.0" font-size="23.3" text-anchor="end" font-weight="normal" >2</text>
<line x1="99.8" y1="419.9" x2="107.5" y2="419.9" stroke="#222" stroke-width="1.35"/>
<text x="93.7" y="427.9" font-size="23.3" text-anchor="end" font-weight="normal" >1</text>
<line x1="99.8" y1="454.4" x2="107.5" y2="454.4" stroke="#222" stroke-width="1.35"/>
<text x="93.7" y="462.4" font-size="23.3" text-anchor="end" font-weight="normal" >0</text>
<line x1="99.8" y1="579.7" x2="107.5" y2="579.7" stroke="#222" stroke-width="1.35"/>
<text x="93.7" y="587.7" font-size="23.3" text-anchor="end" font-weight="normal" >6</text><rect x="70.5" y="577.5" width="8" height="2.1" fill="#111"/>
<rect x="6.2" y="19.3" width="36.6" height="36.5" fill="#fff" stroke="#333" stroke-width="1.2"/>
<text x="24.7" y="45.3" font-size="22.8" text-anchor="middle" font-weight="bold" textLength="14.0" lengthAdjust="spacingAndGlyphs" stroke="#111" stroke-width="0.55">A</text>
<text x="56.0" y="46.6" font-size="25.8" text-anchor="start" font-weight="normal" textLength="106.3" lengthAdjust="spacingAndGlyphs" >IL-6 level</text>
<text x="54.3" y="401.2" font-size="25.8" text-anchor="start" font-weight="normal" textLength="132" lengthAdjust="spacingAndGlyphs" transform="rotate(-90 54.3 401.2)" >IL-6, pg/mL</text>
<text x="313.6" y="690.1" font-size="25.8" text-anchor="start" font-weight="normal" textLength="87" lengthAdjust="spacingAndGlyphs" >Placebo</text>
<text x="633.6" y="690.1" font-size="25.8" text-anchor="start" font-weight="normal" textLength="87.5" lengthAdjust="spacingAndGlyphs" >CN-105</text>
</g>
<g id="panelB">
<line x1="1103.9" y1="90" x2="1938" y2="90" stroke="#d8d8d8" stroke-width="2"/>
<line x1="1103.9" y1="279.6" x2="1938" y2="279.6" stroke="#d8d8d8" stroke-width="2"/>
<line x1="1103.9" y1="332.9" x2="1938" y2="332.9" stroke="#d8d8d8" stroke-width="2"/>
<line x1="1103.9" y1="387.9" x2="1938" y2="387.9" stroke="#d8d8d8" stroke-width="2"/>
<line x1="1103.9" y1="529.8" x2="1938" y2="529.8" stroke="#d8d8d8" stroke-width="2"/>
<path d="M1373.0,8.3 1373.0,9.3 1373.0,10.3 1373.0,11.3 1373.0,12.3 1373.1,13.3 1373.1,14.3 1373.1,15.3 1373.1,16.3 1373.2,17.3 1373.2,18.3 1373.2,19.3 1373.3,20.3 1373.3,21.3 1373.3,22.3 1373.3,23.3 1373.4,24.3 1373.4,25.3 1373.4,26.3 1373.4,27.3 1373.5,28.3 1373.5,29.3 1373.5,30.3 1373.6,31.3 1373.6,32.3 1373.7,33.3 1373.7,34.3 1373.8,35.3 1373.8,36.3 1373.9,37.3 1374.0,38.3 1374.0,39.3 1374.1,40.3 1374.2,41.3 1374.3,42.3 1374.4,43.3 1374.5,44.3 1374.6,45.3 1374.7,46.3 1374.8,47.3 1374.9,48.3 1375.1,49.3 1375.2,50.3 1375.4,51.3 1375.5,52.3 1375.7,53.3 1375.9,54.3 1376.0,55.3 1376.2,56.3 1376.4,57.3 1376.7,58.3 1376.9,59.3 1377.1,60.3 1377.3,61.3 1377.5,62.3 1377.8,63.3 1378.0,64.3 1378.3,65.3 1378.5,66.3 1378.8,67.3 1379.1,68.3 1379.3,69.3 1379.6,70.3 1379.9,71.3 1380.2,72.3 1380.4,73.3 1380.7,74.3 1381.0,75.3 1381.3,76.3 1381.6,77.3 1381.9,78.3 1382.2,79.3 1382.5,80.3 1382.8,81.3 1383.1,82.3 1383.4,83.3 1383.7,84.3 1384.0,85.3 1384.3,86.3 1384.6,87.3 1384.9,88.3 1385.2,89.3 1385.5,90.3 1385.8,91.3 1386.1,92.3 1386.5,93.3 1386.8,94.3 1387.2,95.3 1387.5,96.3 1387.9,97.3 1388.3,98.3 1388.7,99.3 1389.2,100.3 1389.6,101.3 1390.0,102.3 1390.5,103.3 1390.9,104.3 1391.4,105.3 1391.8,106.3 1392.3,107.3 1392.8,108.3 1393.3,109.3 1393.9,110.3 1394.4,111.3 1394.9,112.3 1395.4,113.3 1396.0,114.3 1396.5,115.3 1397.1,116.3 1397.6,117.3 1398.2,118.3 1398.7,119.3 1399.3,120.3 1399.9,121.3 1400.5,122.3 1401.0,123.3 1401.6,124.3 1402.1,125.3 1402.7,126.3 1403.2,127.3 1403.7,128.3 1404.2,129.3 1404.8,130.3 1405.3,131.3 1405.9,132.3 1406.4,133.3 1407.0,134.3 1407.5,135.3 1408.1,136.3 1408.7,137.3 1409.3,138.3 1409.9,139.3 1410.5,140.3 1411.1,141.3 1411.7,142.3 1412.4,143.3 1413.0,144.3 1413.6,145.3 1414.2,146.3 1414.8,147.3 1415.4,148.3 1416.0,149.3 1416.6,150.3 1417.2,151.3 1417.8,152.3 1418.4,153.3 1419.0,154.3 1419.6,155.3 1420.1,156.3 1420.6,157.3 1421.1,158.3 1421.6,159.3 1422.2,160.3 1422.6,161.3 1423.1,162.3 1423.6,163.3 1424.1,164.3 1424.6,165.3 1425.0,166.3 1425.5,167.3 1426.0,168.3 1426.5,169.3 1426.9,170.3 1427.4,171.3 1427.8,172.3 1428.3,173.3 1428.7,174.3 1429.0,175.3 1429.4,176.3 1429.7,177.3 1430.0,178.3 1430.3,179.3 1430.5,180.3 1430.8,181.3 1431.1,182.3 1431.3,183.3 1431.5,184.3 1431.7,185.3 1431.9,186.3 1432.1,187.3 1432.3,188.3 1432.5,189.3 1432.6,190.3 1432.8,191.3 1433.0,192.3 1433.1,193.3 1433.2,194.3 1433.4,195.3 1433.5,196.3 1433.7,197.3 1433.8,198.3 1434.0,199.3 1434.1,200.3 1434.3,201.3 1434.4,202.3 1434.6,203.3 1434.7,204.3 1434.8,205.3 1435.0,206.3 1435.1,207.3 1435.2,208.3 1435.3,209.3 1435.4,210.3 1435.5,211.3 1435.6,212.3 1435.7,213.3 1435.8,214.3 1435.9,215.3 1436.0,216.3 1436.1,217.3 1436.2,218.3 1436.3,219.3 1436.4,220.3 1436.5,221.3 1436.6,222.3 1436.7,223.3 1436.8,224.3 1436.9,225.3 1436.9,226.3 1437.0,227.3 1437.2,228.3 1437.3,229.3 1437.4,230.3 1437.5,231.3 1437.6,232.3 1437.8,233.3 1437.9,234.3 1438.1,235.3 1438.3,236.3 1438.5,237.3 1438.7,238.3 1438.9,239.3 1439.1,240.3 1439.4,241.3 1439.6,242.3 1439.9,243.3 1440.2,244.3 1440.5,245.3 1440.8,246.3 1441.2,247.3 1441.6,248.3 1442.0,249.3 1442.4,250.3 1442.9,251.3 1443.4,252.3 1443.9,253.3 1444.4,254.3 1444.9,255.3 1445.5,256.3 1446.0,257.3 1446.5,258.3 1447.1,259.3 1447.7,260.3 1448.3,261.3 1448.9,262.3 1449.5,263.3 1450.2,264.3 1450.9,265.3 1451.6,266.3 1452.3,267.3 1453.0,268.3 1453.7,269.3 1454.5,270.3 1455.3,271.3 1456.1,272.3 1456.9,273.3 1457.7,274.3 1458.6,275.3 1459.5,276.3 1460.4,277.3 1461.3,278.3 1462.3,279.3 1463.3,280.3 1464.3,281.3 1465.3,282.3 1466.5,283.3 1467.6,284.3 1468.8,285.3 1470.1,286.3 1471.4,287.3 1472.8,288.3 1474.1,289.3 1475.5,290.3 1476.9,291.3 1478.3,292.3 1479.7,293.3 1481.1,294.3 1482.4,295.3 1483.8,296.3 1485.2,297.3 1486.6,298.3 1488.0,299.3 1489.4,300.3 1490.8,301.3 1492.2,302.3 1493.6,303.3 1495.0,304.3 1496.4,305.3 1497.8,306.3 1499.2,307.3 1500.6,308.3 1502.0,309.3 1503.4,310.3 1504.8,311.3 1506.2,312.3 1507.6,313.3 1509.0,314.3 1510.3,315.3 1511.7,316.3 1513.0,317.3 1514.2,318.3 1515.4,319.3 1516.6,320.3 1517.8,321.3 1519.0,322.3 1520.1,323.3 1521.3,324.3 1522.4,325.3 1523.5,326.3 1524.5,327.3 1525.5,328.3 1526.4,329.3 1527.3,330.3 1528.1,331.3 1528.9,332.3 1529.6,333.3 1530.3,334.3 1531.0,335.3 1531.5,336.3 1532.0,337.3 1532.4,338.3 1532.8,339.3 1533.1,340.3 1533.4,341.3 1533.7,342.3 1533.8,343.3 1533.9,344.3 1533.8,345.3 1533.8,346.3 1533.7,347.3 1533.7,348.3 1533.6,349.3 1533.5,350.3 1533.3,351.3 1533.0,352.3 1532.6,353.3 1532.1,354.3 1531.6,355.3 1531.1,356.3 1530.5,357.3 1529.9,358.3 1529.3,359.3 1528.5,360.3 1527.8,361.3 1526.9,362.3 1526.0,363.3 1525.1,364.3 1524.1,365.3 1523.1,366.3 1522.0,367.3 1520.9,368.3 1519.6,369.3 1518.1,370.3 1516.5,371.3 1514.8,372.3 1513.0,373.3 1511.2,374.3 1509.4,375.3 1507.7,376.3 1506.1,377.3 1504.5,378.3 1502.9,379.3 1501.4,380.3 1499.8,381.3 1498.3,382.3 1496.7,383.3 1495.2,384.3 1493.6,385.3 1492.0,386.3 1490.4,387.3 1488.8,388.3 1487.2,389.3 1485.6,390.3 1484.0,391.3 1482.3,392.3 1480.6,393.3 1479.0,394.3 1477.3,395.3 1475.7,396.3 1474.0,397.3 1472.4,398.3 1470.7,399.3 1469.1,400.3 1467.5,401.3 1465.8,402.3 1464.2,403.3 1462.6,404.3 1460.9,405.3 1459.3,406.3 1457.7,407.3 1456.1,408.3 1454.5,409.3 1452.9,410.3 1451.4,411.3 1449.9,412.3 1448.4,413.3 1446.9,414.3 1445.3,415.3 1443.8,416.3 1442.3,417.3 1440.9,418.3 1439.4,419.3 1438.0,420.3 1436.7,421.3 1435.4,422.3 1434.1,423.3 1433.0,424.3 1431.9,425.3 1430.8,426.3 1429.8,427.3 1428.8,428.3 1427.8,429.3 1426.9,430.3 1426.0,431.3 1425.1,432.3 1424.3,433.3 1423.5,434.3 1422.8,435.3 1422.1,436.3 1421.4,437.3 1420.8,438.3 1420.2,439.3 1419.7,440.3 1419.2,441.3 1418.7,442.3 1418.2,443.3 1417.7,444.3 1417.3,445.3 1416.8,446.3 1416.4,447.3 1415.9,448.3 1415.5,449.3 1415.0,450.3 1414.5,451.3 1414.1,452.3 1413.6,453.3 1413.2,454.3 1412.8,455.3 1412.3,456.3 1411.9,457.3 1411.4,458.3 1411.0,459.3 1410.5,460.3 1410.1,461.3 1409.6,462.3 1409.1,463.3 1408.6,464.3 1408.1,465.3 1407.6,466.3 1407.1,467.3 1406.6,468.3 1406.1,469.3 1405.6,470.3 1405.1,471.3 1404.6,472.3 1404.1,473.3 1403.6,474.3 1403.1,475.3 1402.6,476.3 1402.1,477.3 1401.7,478.3 1401.2,479.3 1400.8,480.3 1400.3,481.3 1399.8,482.3 1399.3,483.3 1398.9,484.3 1398.4,485.3 1397.9,486.3 1397.3,487.3 1396.8,488.3 1396.3,489.3 1395.7,490.3 1395.2,491.3 1394.6,492.3 1394.1,493.3 1393.5,494.3 1392.9,495.3 1392.3,496.3 1391.7,497.3 1391.2,498.3 1390.5,499.3 1389.9,500.3 1389.3,501.3 1388.7,502.3 1388.1,503.3 1387.5,504.3 1386.9,505.3 1386.4,506.3 1385.8,507.3 1385.3,508.3 1384.8,509.3 1384.3,510.3 1383.8,511.3 1383.4,512.3 1382.9,513.3 1382.5,514.3 1382.1,515.3 1381.8,516.3 1381.4,517.3 1381.0,518.3 1380.7,519.3 1380.4,520.3 1380.0,521.3 1379.7,522.3 1379.5,523.3 1379.2,524.3 1378.9,525.3 1378.7,526.3 1378.4,527.3 1378.2,528.3 1377.9,529.3 1377.7,530.3 1377.5,531.3 1377.3,532.3 1377.1,533.3 1376.9,534.3 1376.7,535.3 1376.5,536.3 1376.3,537.3 1376.2,538.3 1376.0,539.3 1375.8,540.3 1375.7,541.3 1375.6,542.3 1375.4,543.3 1375.3,544.3 1375.2,545.3 1375.1,546.3 1375.0,547.3 1374.9,548.3 1374.8,549.3 1374.7,550.3 1374.6,551.3 1374.5,552.3 1374.4,553.3 1374.3,554.3 1374.3,555.3 1374.2,556.3 1374.1,557.3 1374.1,558.3 1374.0,559.3 1373.9,560.3 1373.9,561.3 1373.8,562.3 1373.8,563.3 1373.7,564.3 1373.7,565.3 1373.6,566.3 1373.6,567.3 1373.6,568.3 1373.5,569.3 1373.5,570.3 1373.4,571.3 1373.4,572.3 1373.4,573.3 1373.3,574.3 1373.3,575.3 1373.2,576.3 1373.2,577.3 1373.2,578.3 1373.1,579.3 1373.1,580.3 1373.1,581.3 1373.0,582.3 1373.0,583.3 1373.0,584.3 1373.0,584.8 1373.0,584.8 1372.9,584.3 1372.9,583.3 1372.9,582.3 1372.8,581.3 1372.8,580.3 1372.8,579.3 1372.7,578.3 1372.7,577.3 1372.7,576.3 1372.6,575.3 1372.6,574.3 1372.5,573.3 1372.5,572.3 1372.5,571.3 1372.4,570.3 1372.4,569.3 1372.4,568.3 1372.3,567.3 1372.3,566.3 1372.2,565.3 1372.2,564.3 1372.1,563.3 1372.1,562.3 1372.0,561.3 1372.0,560.3 1371.9,559.3 1371.9,558.3 1371.8,557.3 1371.7,556.3 1371.6,555.3 1371.6,554.3 1371.5,553.3 1371.4,552.3 1371.3,551.3 1371.2,550.3 1371.1,549.3 1371.0,548.3 1370.9,547.3 1370.8,546.3 1370.7,545.3 1370.6,544.3 1370.5,543.3 1370.3,542.3 1370.2,541.3 1370.1,540.3 1369.9,539.3 1369.7,538.3 1369.6,537.3 1369.4,536.3 1369.2,535.3 1369.0,534.3 1368.8,533.3 1368.6,532.3 1368.4,531.3 1368.2,530.3 1368.0,529.3 1367.7,528.3 1367.5,527.3 1367.3,526.3 1367.0,525.3 1366.7,524.3 1366.4,523.3 1366.2,522.3 1365.9,521.3 1365.5,520.3 1365.2,519.3 1364.9,518.3 1364.5,517.3 1364.2,516.3 1363.8,515.3 1363.4,514.3 1363.0,513.3 1362.5,512.3 1362.1,511.3 1361.6,510.3 1361.1,509.3 1360.6,508.3 1360.1,507.3 1359.5,506.3 1359.0,505.3 1358.4,504.3 1357.8,503.3 1357.2,502.3 1356.6,501.3 1356.0,500.3 1355.4,499.3 1354.8,498.3 1354.2,497.3 1353.6,496.3 1353.0,495.3 1352.4,494.3 1351.9,493.3 1351.3,492.3 1350.7,491.3 1350.2,490.3 1349.6,489.3 1349.1,488.3 1348.6,487.3 1348.0,486.3 1347.5,485.3 1347.0,484.3 1346.6,483.3 1346.1,482.3 1345.6,481.3 1345.1,480.3 1344.7,479.3 1344.2,478.3 1343.8,477.3 1343.3,476.3 1342.8,475.3 1342.3,474.3 1341.8,473.3 1341.4,472.3 1340.8,471.3 1340.3,470.3 1339.8,469.3 1339.3,468.3 1338.8,467.3 1338.3,466.3 1337.8,465.3 1337.3,464.3 1336.8,463.3 1336.3,462.3 1335.9,461.3 1335.4,460.3 1334.9,459.3 1334.5,458.3 1334.0,457.3 1333.6,456.3 1333.2,455.3 1332.7,454.3 1332.3,453.3 1331.8,452.3 1331.4,451.3 1330.9,450.3 1330.4,449.3 1330.0,448.3 1329.5,447.3 1329.1,446.3 1328.6,445.3 1328.2,444.3 1327.7,443.3 1327.2,442.3 1326.7,441.3 1326.2,440.3 1325.7,439.3 1325.1,438.3 1324.5,437.3 1323.8,436.3 1323.1,435.3 1322.4,434.3 1321.6,433.3 1320.8,432.3 1319.9,431.3 1319.0,430.3 1318.1,429.3 1317.1,428.3 1316.1,427.3 1315.1,426.3 1314.0,425.3 1312.9,424.3 1311.8,423.3 1310.5,422.3 1309.2,421.3 1307.9,420.3 1306.5,419.3 1305.0,418.3 1303.6,417.3 1302.1,416.3 1300.6,415.3 1299.0,414.3 1297.5,413.3 1296.0,412.3 1294.5,411.3 1293.0,410.3 1291.4,409.3 1289.8,408.3 1288.2,407.3 1286.6,406.3 1285.0,405.3 1283.3,404.3 1281.7,403.3 1280.1,402.3 1278.4,401.3 1276.8,400.3 1275.2,399.3 1273.5,398.3 1271.9,397.3 1270.2,396.3 1268.6,395.3 1266.9,394.3 1265.3,393.3 1263.6,392.3 1261.9,391.3 1260.3,390.3 1258.7,389.3 1257.1,388.3 1255.5,387.3 1253.9,386.3 1252.3,385.3 1250.7,384.3 1249.2,383.3 1247.7,382.3 1246.1,381.3 1244.6,380.3 1243.0,379.3 1241.4,378.3 1239.8,377.3 1238.2,376.3 1236.5,375.3 1234.7,374.3 1232.9,373.3 1231.1,372.3 1229.4,371.3 1227.8,370.3 1226.3,369.3 1225.0,368.3 1223.9,367.3 1222.8,366.3 1221.8,365.3 1220.8,364.3 1219.9,363.3 1219.0,362.3 1218.2,361.3 1217.4,360.3 1216.7,359.3 1216.0,358.3 1215.4,357.3 1214.8,356.3 1214.3,355.3 1213.8,354.3 1213.3,353.3 1212.9,352.3 1212.6,351.3 1212.4,350.3 1212.3,349.3 1212.3,348.3 1212.2,347.3 1212.1,346.3 1212.1,345.3 1212.1,344.3 1212.1,343.3 1212.2,342.3 1212.5,341.3 1212.8,340.3 1213.1,339.3 1213.5,338.3 1213.9,337.3 1214.4,336.3 1215.0,335.3 1215.6,334.3 1216.3,333.3 1217.0,332.3 1217.8,331.3 1218.6,330.3 1219.5,329.3 1220.4,328.3 1221.4,327.3 1222.4,326.3 1223.5,325.3 1224.6,324.3 1225.8,323.3 1226.9,322.3 1228.1,321.3 1229.3,320.3 1230.5,319.3 1231.7,318.3 1232.9,317.3 1234.2,316.3 1235.6,315.3 1236.9,314.3 1238.3,313.3 1239.7,312.3 1241.1,311.3 1242.5,310.3 1243.9,309.3 1245.3,308.3 1246.7,307.3 1248.1,306.3 1249.5,305.3 1250.9,304.3 1252.3,303.3 1253.7,302.3 1255.1,301.3 1256.5,300.3 1257.9,299.3 1259.3,298.3 1260.7,297.3 1262.1,296.3 1263.5,295.3 1264.9,294.3 1266.2,293.3 1267.6,292.3 1269.0,291.3 1270.4,290.3 1271.8,289.3 1273.1,288.3 1274.5,287.3 1275.8,286.3 1277.1,285.3 1278.3,284.3 1279.5,283.3 1280.6,282.3 1281.6,281.3 1282.6,280.3 1283.6,279.3 1284.6,278.3 1285.5,277.3 1286.4,276.3 1287.3,275.3 1288.2,274.3 1289.0,273.3 1289.8,272.3 1290.6,271.3 1291.4,270.3 1292.2,269.3 1292.9,268.3 1293.6,267.3 1294.3,266.3 1295.0,265.3 1295.7,264.3 1296.4,263.3 1297.0,262.3 1297.6,261.3 1298.2,260.3 1298.8,259.3 1299.4,258.3 1299.9,257.3 1300.4,256.3 1301.0,255.3 1301.5,254.3 1302.0,253.3 1302.5,252.3 1303.0,251.3 1303.5,250.3 1303.9,249.3 1304.3,248.3 1304.7,247.3 1305.1,246.3 1305.4,245.3 1305.7,244.3 1306.0,243.3 1306.3,242.3 1306.5,241.3 1306.8,240.3 1307.0,239.3 1307.2,238.3 1307.4,237.3 1307.6,236.3 1307.8,235.3 1308.0,234.3 1308.1,233.3 1308.3,232.3 1308.4,231.3 1308.5,230.3 1308.6,229.3 1308.8,228.3 1308.9,227.3 1309.0,226.3 1309.0,225.3 1309.1,224.3 1309.2,223.3 1309.3,222.3 1309.4,221.3 1309.5,220.3 1309.6,219.3 1309.7,218.3 1309.8,217.3 1309.9,216.3 1310.0,215.3 1310.1,214.3 1310.2,213.3 1310.3,212.3 1310.4,211.3 1310.5,210.3 1310.6,209.3 1310.7,208.3 1310.8,207.3 1311.0,206.3 1311.1,205.3 1311.2,204.3 1311.3,203.3 1311.5,202.3 1311.6,201.3 1311.8,200.3 1311.9,199.3 1312.1,198.3 1312.2,197.3 1312.4,196.3 1312.5,195.3 1312.7,194.3 1312.8,193.3 1313.0,192.3 1313.1,191.3 1313.3,190.3 1313.4,189.3 1313.6,188.3 1313.8,187.3 1314.0,186.3 1314.2,185.3 1314.4,184.3 1314.6,183.3 1314.9,182.3 1315.1,181.3 1315.4,180.3 1315.6,179.3 1315.9,178.3 1316.2,177.3 1316.5,176.3 1316.9,175.3 1317.2,174.3 1317.6,173.3 1318.1,172.3 1318.5,171.3 1319.0,170.3 1319.4,169.3 1319.9,168.3 1320.4,167.3 1320.9,166.3 1321.3,165.3 1321.8,164.3 1322.3,163.3 1322.8,162.3 1323.3,161.3 1323.8,160.3 1324.3,159.3 1324.8,158.3 1325.3,157.3 1325.8,156.3 1326.4,155.3 1326.9,154.3 1327.5,153.3 1328.1,152.3 1328.7,151.3 1329.3,150.3 1329.9,149.3 1330.5,148.3 1331.1,147.3 1331.7,146.3 1332.3,145.3 1332.9,144.3 1333.6,143.3 1334.2,142.3 1334.8,141.3 1335.4,140.3 1336.0,139.3 1336.6,138.3 1337.2,137.3 1337.8,136.3 1338.4,135.3 1338.9,134.3 1339.5,133.3 1340.0,132.3 1340.6,131.3 1341.1,130.3 1341.7,129.3 1342.2,128.3 1342.7,127.3 1343.2,126.3 1343.8,125.3 1344.3,124.3 1344.9,123.3 1345.4,122.3 1346.0,121.3 1346.6,120.3 1347.2,119.3 1347.7,118.3 1348.3,117.3 1348.9,116.3 1349.4,115.3 1349.9,114.3 1350.5,113.3 1351.0,112.3 1351.5,111.3 1352.0,110.3 1352.6,109.3 1353.1,108.3 1353.6,107.3 1354.1,106.3 1354.5,105.3 1355.0,104.3 1355.4,103.3 1355.9,102.3 1356.3,101.3 1356.7,100.3 1357.2,99.3 1357.6,98.3 1358.0,97.3 1358.4,96.3 1358.7,95.3 1359.1,94.3 1359.4,93.3 1359.8,92.3 1360.1,91.3 1360.4,90.3 1360.7,89.3 1361.0,88.3 1361.3,87.3 1361.6,86.3 1361.9,85.3 1362.2,84.3 1362.5,83.3 1362.8,82.3 1363.1,81.3 1363.4,80.3 1363.7,79.3 1364.0,78.3 1364.3,77.3 1364.6,76.3 1364.9,75.3 1365.2,74.3 1365.5,73.3 1365.8,72.3 1366.0,71.3 1366.3,70.3 1366.6,69.3 1366.8,68.3 1367.1,67.3 1367.4,66.3 1367.6,65.3 1367.9,64.3 1368.1,63.3 1368.4,62.3 1368.6,61.3 1368.8,60.3 1369.0,59.3 1369.2,58.3 1369.5,57.3 1369.7,56.3 1369.9,55.3 1370.0,54.3 1370.2,53.3 1370.4,52.3 1370.5,51.3 1370.7,50.3 1370.8,49.3 1371.0,48.3 1371.1,47.3 1371.2,46.3 1371.3,45.3 1371.4,44.3 1371.5,43.3 1371.6,42.3 1371.7,41.3 1371.8,40.3 1371.9,39.3 1371.9,38.3 1372.0,37.3 1372.1,36.3 1372.1,35.3 1372.2,34.3 1372.2,33.3 1372.3,32.3 1372.3,31.3 1372.4,30.3 1372.4,29.3 1372.4,28.3 1372.5,27.3 1372.5,26.3 1372.5,25.3 1372.5,24.3 1372.6,23.3 1372.6,22.3 1372.6,21.3 1372.7,20.3 1372.7,19.3 1372.7,18.3 1372.7,17.3 1372.8,16.3 1372.8,15.3 1372.8,14.3 1372.8,13.3 1372.9,12.3 1372.9,11.3 1372.9,10.3 1372.9,9.3 1373.0,8.3Z" fill="#F6A03E" fill-opacity="0.58"/>
<path d="M1695.3,5.0 1695.3,6.0 1695.3,7.0 1695.3,8.0 1695.4,9.0 1695.4,10.0 1695.4,11.0 1695.4,12.0 1695.4,13.0 1695.5,14.0 1695.5,15.0 1695.5,16.0 1695.5,17.0 1695.5,18.0 1695.6,19.0 1695.6,20.0 1695.6,21.0 1695.6,22.0 1695.7,23.0 1695.7,24.0 1695.7,25.0 1695.7,26.0 1695.8,27.0 1695.8,28.0 1695.9,29.0 1695.9,30.0 1695.9,31.0 1696.0,32.0 1696.1,33.0 1696.2,34.0 1696.3,35.0 1696.4,36.0 1696.5,37.0 1696.6,38.0 1696.8,39.0 1696.9,40.0 1697.0,41.0 1697.2,42.0 1697.3,43.0 1697.5,44.0 1697.7,45.0 1697.9,46.0 1698.1,47.0 1698.3,48.0 1698.5,49.0 1698.7,50.0 1698.9,51.0 1699.1,52.0 1699.4,53.0 1699.6,54.0 1699.9,55.0 1700.2,56.0 1700.5,57.0 1700.7,58.0 1701.0,59.0 1701.3,60.0 1701.6,61.0 1701.9,62.0 1702.2,63.0 1702.5,64.0 1702.8,65.0 1703.1,66.0 1703.4,67.0 1703.7,68.0 1704.0,69.0 1704.3,70.0 1704.6,71.0 1704.8,72.0 1705.1,73.0 1705.4,74.0 1705.7,75.0 1705.9,76.0 1706.2,77.0 1706.4,78.0 1706.7,79.0 1706.9,80.0 1707.1,81.0 1707.3,82.0 1707.6,83.0 1707.8,84.0 1708.0,85.0 1708.2,86.0 1708.4,87.0 1708.6,88.0 1708.7,89.0 1708.9,90.0 1709.0,91.0 1709.2,92.0 1709.4,93.0 1709.5,94.0 1709.6,95.0 1709.8,96.0 1709.9,97.0 1710.0,98.0 1710.0,99.0 1710.1,100.0 1710.1,101.0 1710.2,102.0 1710.2,103.0 1710.2,104.0 1710.2,105.0 1710.3,106.0 1710.3,107.0 1710.3,108.0 1710.3,109.0 1710.3,110.0 1710.3,111.0 1710.3,112.0 1710.2,113.0 1710.2,114.0 1710.1,115.0 1710.0,116.0 1709.9,117.0 1709.9,118.0 1709.8,119.0 1709.7,120.0 1709.6,121.0 1709.5,122.0 1709.4,123.0 1709.3,124.0 1709.2,125.0 1709.1,126.0 1709.0,127.0 1708.9,128.0 1708.8,129.0 1708.7,130.0 1708.6,131.0 1708.5,132.0 1708.4,133.0 1708.3,134.0 1708.2,135.0 1708.1,136.0 1708.0,137.0 1707.9,138.0 1707.8,139.0 1707.7,140.0 1707.6,141.0 1707.5,142.0 1707.4,143.0 1707.3,144.0 1707.2,145.0 1707.1,146.0 1707.0,147.0 1707.0,148.0 1706.9,149.0 1706.9,150.0 1706.9,151.0 1706.9,152.0 1706.9,153.0 1706.9,154.0 1706.9,155.0 1706.9,156.0 1706.9,157.0 1706.9,158.0 1706.9,159.0 1706.9,160.0 1706.9,161.0 1707.0,162.0 1707.0,163.0 1707.1,164.0 1707.2,165.0 1707.3,166.0 1707.5,167.0 1707.6,168.0 1707.8,169.0 1707.9,170.0 1708.0,171.0 1708.2,172.0 1708.4,173.0 1708.6,174.0 1708.8,175.0 1709.1,176.0 1709.3,177.0 1709.6,178.0 1709.8,179.0 1710.1,180.0 1710.4,181.0 1710.7,182.0 1711.0,183.0 1711.3,184.0 1711.7,185.0 1712.0,186.0 1712.4,187.0 1712.8,188.0 1713.3,189.0 1713.7,190.0 1714.2,191.0 1714.7,192.0 1715.2,193.0 1715.8,194.0 1716.4,195.0 1717.0,196.0 1717.6,197.0 1718.3,198.0 1719.0,199.0 1719.7,200.0 1720.4,201.0 1721.2,202.0 1722.1,203.0 1722.9,204.0 1723.9,205.0 1724.8,206.0 1725.8,207.0 1726.7,208.0 1727.8,209.0 1728.8,210.0 1729.8,211.0 1730.9,212.0 1731.9,213.0 1733.0,214.0 1734.2,215.0 1735.4,216.0 1736.6,217.0 1737.8,218.0 1739.1,219.0 1740.3,220.0 1741.6,221.0 1742.8,222.0 1744.1,223.0 1745.3,224.0 1746.5,225.0 1747.7,226.0 1748.9,227.0 1750.1,228.0 1751.3,229.0 1752.5,230.0 1753.7,231.0 1754.9,232.0 1756.1,233.0 1757.3,234.0 1758.5,235.0 1759.7,236.0 1760.9,237.0 1762.2,238.0 1763.5,239.0 1764.7,240.0 1766.0,241.0 1767.3,242.0 1768.6,243.0 1769.9,244.0 1771.2,245.0 1772.6,246.0 1773.9,247.0 1775.2,248.0 1776.5,249.0 1777.8,250.0 1779.1,251.0 1780.4,252.0 1781.8,253.0 1783.1,254.0 1784.5,255.0 1785.8,256.0 1787.1,257.0 1788.4,258.0 1789.7,259.0 1791.0,260.0 1792.2,261.0 1793.4,262.0 1794.5,263.0 1795.7,264.0 1796.8,265.0 1797.9,266.0 1799.0,267.0 1800.1,268.0 1801.2,269.0 1802.2,270.0 1803.2,271.0 1804.2,272.0 1805.2,273.0 1806.1,274.0 1806.9,275.0 1807.8,276.0 1808.6,277.0 1809.4,278.0 1810.2,279.0 1811.0,280.0 1811.7,281.0 1812.5,282.0 1813.2,283.0 1813.9,284.0 1814.5,285.0 1815.2,286.0 1815.8,287.0 1816.5,288.0 1817.1,289.0 1817.7,290.0 1818.3,291.0 1818.9,292.0 1819.4,293.0 1820.0,294.0 1820.5,295.0 1821.0,296.0 1821.5,297.0 1822.0,298.0 1822.5,299.0 1823.0,300.0 1823.4,301.0 1823.9,302.0 1824.3,303.0 1824.8,304.0 1825.2,305.0 1825.6,306.0 1826.0,307.0 1826.3,308.0 1826.7,309.0 1827.1,310.0 1827.4,311.0 1827.7,312.0 1828.0,313.0 1828.3,314.0 1828.6,315.0 1828.9,316.0 1829.1,317.0 1829.4,318.0 1829.6,319.0 1829.9,320.0 1830.1,321.0 1830.3,322.0 1830.5,323.0 1830.7,324.0 1830.8,325.0 1831.0,326.0 1831.2,327.0 1831.4,328.0 1831.5,329.0 1831.7,330.0 1831.8,331.0 1831.9,332.0 1832.0,333.0 1832.1,334.0 1832.2,335.0 1832.3,336.0 1832.3,337.0 1832.4,338.0 1832.4,339.0 1832.4,340.0 1832.5,341.0 1832.5,342.0 1832.5,343.0 1832.6,344.0 1832.6,345.0 1832.6,346.0 1832.6,347.0 1832.6,348.0 1832.6,349.0 1832.6,350.0 1832.6,351.0 1832.5,352.0 1832.4,353.0 1832.3,354.0 1832.2,355.0 1832.1,356.0 1831.9,357.0 1831.8,358.0 1831.6,359.0 1831.5,360.0 1831.3,361.0 1831.2,362.0 1831.0,363.0 1830.8,364.0 1830.6,365.0 1830.4,366.0 1830.2,367.0 1829.9,368.0 1829.7,369.0 1829.4,370.0 1829.1,371.0 1828.8,372.0 1828.5,373.0 1828.1,374.0 1827.7,375.0 1827.3,376.0 1826.8,377.0 1826.3,378.0 1825.7,379.0 1825.1,380.0 1824.4,381.0 1823.7,382.0 1823.1,383.0 1822.3,384.0 1821.6,385.0 1820.9,386.0 1820.2,387.0 1819.4,388.0 1818.7,389.0 1818.0,390.0 1817.3,391.0 1816.6,392.0 1815.9,393.0 1815.2,394.0 1814.5,395.0 1813.7,396.0 1813.0,397.0 1812.3,398.0 1811.5,399.0 1810.7,400.0 1810.0,401.0 1809.2,402.0 1808.4,403.0 1807.6,404.0 1806.7,405.0 1805.9,406.0 1805.0,407.0 1804.2,408.0 1803.3,409.0 1802.4,410.0 1801.5,411.0 1800.7,412.0 1799.8,413.0 1798.9,414.0 1798.0,415.0 1797.1,416.0 1796.2,417.0 1795.3,418.0 1794.4,419.0 1793.5,420.0 1792.6,421.0 1791.7,422.0 1790.8,423.0 1789.9,424.0 1789.0,425.0 1788.1,426.0 1787.2,427.0 1786.3,428.0 1785.4,429.0 1784.5,430.0 1783.7,431.0 1782.8,432.0 1781.8,433.0 1780.9,434.0 1780.0,435.0 1779.0,436.0 1778.1,437.0 1777.1,438.0 1776.1,439.0 1775.1,440.0 1774.1,441.0 1773.1,442.0 1772.1,443.0 1771.1,444.0 1770.0,445.0 1769.0,446.0 1768.0,447.0 1766.9,448.0 1765.9,449.0 1764.8,450.0 1763.8,451.0 1762.7,452.0 1761.6,453.0 1760.6,454.0 1759.5,455.0 1758.5,456.0 1757.4,457.0 1756.4,458.0 1755.3,459.0 1754.2,460.0 1753.1,461.0 1752.1,462.0 1751.0,463.0 1750.0,464.0 1748.9,465.0 1747.9,466.0 1746.9,467.0 1745.9,468.0 1744.9,469.0 1744.0,470.0 1743.0,471.0 1742.1,472.0 1741.1,473.0 1740.2,474.0 1739.3,475.0 1738.4,476.0 1737.6,477.0 1736.7,478.0 1735.9,479.0 1735.1,480.0 1734.4,481.0 1733.6,482.0 1732.9,483.0 1732.2,484.0 1731.5,485.0 1730.8,486.0 1730.2,487.0 1729.5,488.0 1728.8,489.0 1728.2,490.0 1727.5,491.0 1726.9,492.0 1726.3,493.0 1725.6,494.0 1725.0,495.0 1724.4,496.0 1723.8,497.0 1723.2,498.0 1722.6,499.0 1722.1,500.0 1721.5,501.0 1721.0,502.0 1720.4,503.0 1719.9,504.0 1719.4,505.0 1718.9,506.0 1718.4,507.0 1717.9,508.0 1717.4,509.0 1716.9,510.0 1716.5,511.0 1716.0,512.0 1715.5,513.0 1715.0,514.0 1714.6,515.0 1714.1,516.0 1713.6,517.0 1713.2,518.0 1712.7,519.0 1712.3,520.0 1711.9,521.0 1711.5,522.0 1711.1,523.0 1710.7,524.0 1710.3,525.0 1709.9,526.0 1709.5,527.0 1709.2,528.0 1708.8,529.0 1708.5,530.0 1708.2,531.0 1707.8,532.0 1707.5,533.0 1707.2,534.0 1706.8,535.0 1706.5,536.0 1706.2,537.0 1705.9,538.0 1705.5,539.0 1705.2,540.0 1704.9,541.0 1704.6,542.0 1704.3,543.0 1704.1,544.0 1703.8,545.0 1703.5,546.0 1703.3,547.0 1703.0,548.0 1702.8,549.0 1702.6,550.0 1702.4,551.0 1702.1,552.0 1701.9,553.0 1701.7,554.0 1701.5,555.0 1701.3,556.0 1701.1,557.0 1700.9,558.0 1700.7,559.0 1700.5,560.0 1700.3,561.0 1700.1,562.0 1699.9,563.0 1699.8,564.0 1699.6,565.0 1699.4,566.0 1699.3,567.0 1699.1,568.0 1698.9,569.0 1698.8,570.0 1698.6,571.0 1698.5,572.0 1698.4,573.0 1698.2,574.0 1698.1,575.0 1698.0,576.0 1697.8,577.0 1697.7,578.0 1697.6,579.0 1697.5,580.0 1697.4,581.0 1697.3,582.0 1697.2,583.0 1697.1,584.0 1697.0,585.0 1696.9,586.0 1696.9,587.0 1696.8,588.0 1696.7,589.0 1696.6,590.0 1696.6,591.0 1696.5,592.0 1696.4,593.0 1696.4,594.0 1696.3,595.0 1696.3,596.0 1696.2,597.0 1696.2,598.0 1696.1,599.0 1696.1,600.0 1696.0,601.0 1696.0,602.0 1695.9,603.0 1695.9,604.0 1695.9,605.0 1695.8,606.0 1695.8,607.0 1695.7,608.0 1695.7,609.0 1695.7,610.0 1695.6,611.0 1695.6,612.0 1695.6,613.0 1695.6,614.0 1695.5,615.0 1695.5,616.0 1695.5,617.0 1695.4,618.0 1695.4,619.0 1695.4,620.0 1695.4,621.0 1695.3,622.0 1695.3,623.0 1695.3,624.0 1695.3,624.8 1695.3,624.8 1695.3,624.0 1695.3,623.0 1695.2,622.0 1695.2,621.0 1695.2,620.0 1695.2,619.0 1695.2,618.0 1695.1,617.0 1695.1,616.0 1695.1,615.0 1695.0,614.0 1695.0,613.0 1695.0,612.0 1694.9,611.0 1694.9,610.0 1694.9,609.0 1694.8,608.0 1694.8,607.0 1694.8,606.0 1694.7,605.0 1694.7,604.0 1694.7,603.0 1694.6,602.0 1694.6,601.0 1694.5,600.0 1694.5,599.0 1694.4,598.0 1694.4,597.0 1694.3,596.0 1694.3,595.0 1694.2,594.0 1694.2,593.0 1694.1,592.0 1694.0,591.0 1694.0,590.0 1693.9,589.0 1693.8,588.0 1693.7,587.0 1693.7,586.0 1693.6,585.0 1693.5,584.0 1693.4,583.0 1693.3,582.0 1693.2,581.0 1693.1,580.0 1693.0,579.0 1692.9,578.0 1692.8,577.0 1692.6,576.0 1692.5,575.0 1692.4,574.0 1692.2,573.0 1692.1,572.0 1691.9,571.0 1691.8,570.0 1691.6,569.0 1691.5,568.0 1691.3,567.0 1691.2,566.0 1691.0,565.0 1690.8,564.0 1690.7,563.0 1690.5,562.0 1690.3,561.0 1690.1,560.0 1689.9,559.0 1689.7,558.0 1689.5,557.0 1689.3,556.0 1689.1,555.0 1688.9,554.0 1688.7,553.0 1688.5,552.0 1688.2,551.0 1688.0,550.0 1687.8,549.0 1687.5,548.0 1687.3,547.0 1687.1,546.0 1686.8,545.0 1686.5,544.0 1686.3,543.0 1686.0,542.0 1685.7,541.0 1685.4,540.0 1685.0,539.0 1684.7,538.0 1684.4,537.0 1684.1,536.0 1683.8,535.0 1683.4,534.0 1683.1,533.0 1682.8,532.0 1682.4,531.0 1682.1,530.0 1681.8,529.0 1681.4,528.0 1681.0,527.0 1680.7,526.0 1680.3,525.0 1679.9,524.0 1679.5,523.0 1679.1,522.0 1678.7,521.0 1678.3,520.0 1677.8,519.0 1677.4,518.0 1676.9,517.0 1676.5,516.0 1676.0,515.0 1675.5,514.0 1675.1,513.0 1674.6,512.0 1674.1,511.0 1673.7,510.0 1673.2,509.0 1672.7,508.0 1672.2,507.0 1671.7,506.0 1671.2,505.0 1670.7,504.0 1670.2,503.0 1669.6,502.0 1669.1,501.0 1668.5,500.0 1667.9,499.0 1667.4,498.0 1666.8,497.0 1666.2,496.0 1665.6,495.0 1664.9,494.0 1664.3,493.0 1663.7,492.0 1663.0,491.0 1662.4,490.0 1661.7,489.0 1661.1,488.0 1660.4,487.0 1659.8,486.0 1659.1,485.0 1658.4,484.0 1657.7,483.0 1656.9,482.0 1656.2,481.0 1655.4,480.0 1654.7,479.0 1653.8,478.0 1653.0,477.0 1652.2,476.0 1651.3,475.0 1650.4,474.0 1649.5,473.0 1648.5,472.0 1647.6,471.0 1646.6,470.0 1645.7,469.0 1644.7,468.0 1643.7,467.0 1642.7,466.0 1641.7,465.0 1640.6,464.0 1639.6,463.0 1638.5,462.0 1637.4,461.0 1636.4,460.0 1635.3,459.0 1634.2,458.0 1633.2,457.0 1632.1,456.0 1631.1,455.0 1630.0,454.0 1628.9,453.0 1627.9,452.0 1626.8,451.0 1625.8,450.0 1624.7,449.0 1623.7,448.0 1622.6,447.0 1621.6,446.0 1620.6,445.0 1619.5,444.0 1618.5,443.0 1617.5,442.0 1616.5,441.0 1615.5,440.0 1614.5,439.0 1613.5,438.0 1612.5,437.0 1611.6,436.0 1610.6,435.0 1609.7,434.0 1608.7,433.0 1607.8,432.0 1606.9,431.0 1606.0,430.0 1605.2,429.0 1604.3,428.0 1603.4,427.0 1602.5,426.0 1601.6,425.0 1600.7,424.0 1599.8,423.0 1598.9,422.0 1598.0,421.0 1597.1,420.0 1596.2,419.0 1595.3,418.0 1594.4,417.0 1593.5,416.0 1592.6,415.0 1591.7,414.0 1590.8,413.0 1589.9,412.0 1589.1,411.0 1588.2,410.0 1587.3,409.0 1586.4,408.0 1585.6,407.0 1584.7,406.0 1583.9,405.0 1583.0,404.0 1582.2,403.0 1581.4,402.0 1580.6,401.0 1579.9,400.0 1579.1,399.0 1578.3,398.0 1577.6,397.0 1576.8,396.0 1576.1,395.0 1575.4,394.0 1574.7,393.0 1574.0,392.0 1573.3,391.0 1572.6,390.0 1571.9,389.0 1571.2,388.0 1570.4,387.0 1569.7,386.0 1569.0,385.0 1568.2,384.0 1567.5,383.0 1566.8,382.0 1566.2,381.0 1565.5,380.0 1564.9,379.0 1564.3,378.0 1563.8,377.0 1563.3,376.0 1562.9,375.0 1562.5,374.0 1562.1,373.0 1561.8,372.0 1561.5,371.0 1561.2,370.0 1560.9,369.0 1560.6,368.0 1560.4,367.0 1560.2,366.0 1560.0,365.0 1559.8,364.0 1559.6,363.0 1559.4,362.0 1559.3,361.0 1559.1,360.0 1558.9,359.0 1558.8,358.0 1558.7,357.0 1558.5,356.0 1558.4,355.0 1558.3,354.0 1558.2,353.0 1558.1,352.0 1558.0,351.0 1558.0,350.0 1558.0,349.0 1558.0,348.0 1558.0,347.0 1558.0,346.0 1558.0,345.0 1558.0,344.0 1558.1,343.0 1558.1,342.0 1558.1,341.0 1558.2,340.0 1558.2,339.0 1558.2,338.0 1558.3,337.0 1558.3,336.0 1558.4,335.0 1558.5,334.0 1558.6,333.0 1558.7,332.0 1558.8,331.0 1558.9,330.0 1559.1,329.0 1559.2,328.0 1559.4,327.0 1559.6,326.0 1559.7,325.0 1559.9,324.0 1560.1,323.0 1560.3,322.0 1560.5,321.0 1560.7,320.0 1561.0,319.0 1561.2,318.0 1561.5,317.0 1561.7,316.0 1562.0,315.0 1562.3,314.0 1562.6,313.0 1562.9,312.0 1563.2,311.0 1563.5,310.0 1563.9,309.0 1564.2,308.0 1564.6,307.0 1565.0,306.0 1565.4,305.0 1565.8,304.0 1566.3,303.0 1566.7,302.0 1567.2,301.0 1567.6,300.0 1568.1,299.0 1568.6,298.0 1569.0,297.0 1569.6,296.0 1570.1,295.0 1570.6,294.0 1571.2,293.0 1571.7,292.0 1572.3,291.0 1572.9,290.0 1573.5,289.0 1574.1,288.0 1574.8,287.0 1575.4,286.0 1576.1,285.0 1576.7,284.0 1577.4,283.0 1578.1,282.0 1578.9,281.0 1579.6,280.0 1580.4,279.0 1581.2,278.0 1582.0,277.0 1582.8,276.0 1583.7,275.0 1584.5,274.0 1585.4,273.0 1586.4,272.0 1587.4,271.0 1588.4,270.0 1589.4,269.0 1590.5,268.0 1591.5,267.0 1592.7,266.0 1593.8,265.0 1594.9,264.0 1596.1,263.0 1597.2,262.0 1598.4,261.0 1599.6,260.0 1600.9,259.0 1602.2,258.0 1603.5,257.0 1604.8,256.0 1606.1,255.0 1607.5,254.0 1608.8,253.0 1610.2,252.0 1611.5,251.0 1612.8,250.0 1614.1,249.0 1615.4,248.0 1616.7,247.0 1618.0,246.0 1619.3,245.0 1620.7,244.0 1622.0,243.0 1623.3,242.0 1624.6,241.0 1625.8,240.0 1627.1,239.0 1628.4,238.0 1629.6,237.0 1630.9,236.0 1632.1,235.0 1633.3,234.0 1634.5,233.0 1635.7,232.0 1636.9,231.0 1638.1,230.0 1639.3,229.0 1640.5,228.0 1641.7,227.0 1642.9,226.0 1644.1,225.0 1645.3,224.0 1646.5,223.0 1647.8,222.0 1649.0,221.0 1650.3,220.0 1651.5,219.0 1652.8,218.0 1654.0,217.0 1655.2,216.0 1656.4,215.0 1657.5,214.0 1658.7,213.0 1659.7,212.0 1660.8,211.0 1661.8,210.0 1662.8,209.0 1663.8,208.0 1664.8,207.0 1665.8,206.0 1666.7,205.0 1667.6,204.0 1668.5,203.0 1669.4,202.0 1670.1,201.0 1670.9,200.0 1671.6,199.0 1672.3,198.0 1673.0,197.0 1673.6,196.0 1674.2,195.0 1674.8,194.0 1675.4,193.0 1675.9,192.0 1676.4,191.0 1676.9,190.0 1677.3,189.0 1677.8,188.0 1678.2,187.0 1678.5,186.0 1678.9,185.0 1679.3,184.0 1679.6,183.0 1679.9,182.0 1680.2,181.0 1680.5,180.0 1680.8,179.0 1681.0,178.0 1681.3,177.0 1681.5,176.0 1681.8,175.0 1682.0,174.0 1682.2,173.0 1682.4,172.0 1682.5,171.0 1682.7,170.0 1682.8,169.0 1683.0,168.0 1683.1,167.0 1683.2,166.0 1683.4,165.0 1683.5,164.0 1683.6,163.0 1683.6,162.0 1683.7,161.0 1683.7,160.0 1683.7,159.0 1683.7,158.0 1683.7,157.0 1683.7,156.0 1683.7,155.0 1683.7,154.0 1683.7,153.0 1683.7,152.0 1683.7,151.0 1683.7,150.0 1683.7,149.0 1683.6,148.0 1683.6,147.0 1683.5,146.0 1683.4,145.0 1683.3,144.0 1683.2,143.0 1683.1,142.0 1683.0,141.0 1682.9,140.0 1682.8,139.0 1682.7,138.0 1682.6,137.0 1682.5,136.0 1682.4,135.0 1682.3,134.0 1682.2,133.0 1682.1,132.0 1682.0,131.0 1681.9,130.0 1681.8,129.0 1681.7,128.0 1681.6,127.0 1681.5,126.0 1681.4,125.0 1681.3,124.0 1681.2,123.0 1681.1,122.0 1681.0,121.0 1680.9,120.0 1680.8,119.0 1680.7,118.0 1680.7,117.0 1680.6,116.0 1680.5,115.0 1680.4,114.0 1680.4,113.0 1680.3,112.0 1680.3,111.0 1680.3,110.0 1680.3,109.0 1680.3,108.0 1680.3,107.0 1680.3,106.0 1680.4,105.0 1680.4,104.0 1680.4,103.0 1680.4,102.0 1680.5,101.0 1680.5,100.0 1680.5,99.0 1680.6,98.0 1680.7,97.0 1680.8,96.0 1681.0,95.0 1681.1,94.0 1681.2,93.0 1681.4,92.0 1681.5,91.0 1681.7,90.0 1681.9,89.0 1682.0,88.0 1682.2,87.0 1682.4,86.0 1682.6,85.0 1682.8,84.0 1683.0,83.0 1683.2,82.0 1683.5,81.0 1683.7,80.0 1683.9,79.0 1684.2,78.0 1684.4,77.0 1684.7,76.0 1684.9,75.0 1685.2,74.0 1685.5,73.0 1685.7,72.0 1686.0,71.0 1686.3,70.0 1686.6,69.0 1686.9,68.0 1687.2,67.0 1687.5,66.0 1687.8,65.0 1688.1,64.0 1688.4,63.0 1688.7,62.0 1689.0,61.0 1689.3,60.0 1689.6,59.0 1689.9,58.0 1690.1,57.0 1690.4,56.0 1690.7,55.0 1690.9,54.0 1691.2,53.0 1691.4,52.0 1691.7,51.0 1691.9,50.0 1692.1,49.0 1692.3,48.0 1692.5,47.0 1692.7,46.0 1692.9,45.0 1693.1,44.0 1693.3,43.0 1693.4,42.0 1693.6,41.0 1693.7,40.0 1693.8,39.0 1693.9,38.0 1694.1,37.0 1694.2,36.0 1694.3,35.0 1694.4,34.0 1694.5,33.0 1694.6,32.0 1694.6,31.0 1694.7,30.0 1694.7,29.0 1694.8,28.0 1694.8,27.0 1694.8,26.0 1694.9,25.0 1694.9,24.0 1694.9,23.0 1694.9,22.0 1695.0,21.0 1695.0,20.0 1695.0,19.0 1695.0,18.0 1695.1,17.0 1695.1,16.0 1695.1,15.0 1695.1,14.0 1695.2,13.0 1695.2,12.0 1695.2,11.0 1695.2,10.0 1695.2,9.0 1695.2,8.0 1695.3,7.0 1695.3,6.0 1695.3,5.0Z" fill="#5D8393" fill-opacity="0.5"/>
<line x1="1372.9" y1="113.4" x2="1372.9" y2="478.7" stroke="#000" stroke-opacity="0.78" stroke-width="1.3"/>
<rect x="1336.9" y="254.1" width="72.0" height="109.4" fill="#fff" stroke="#111" stroke-width="1.4"/>
<line x1="1336.9" y1="331.9" x2="1408.9" y2="331.9" stroke="#000" stroke-width="3"/>
<line x1="1695.3" y1="137.6" x2="1695.3" y2="535.4" stroke="#000" stroke-opacity="0.78" stroke-width="1.3"/>
<rect x="1659.7" y="287.9" width="71.4" height="110.5" fill="#fff" stroke="#111" stroke-width="1.4"/>
<line x1="1659.7" y1="349.6" x2="1731.1" y2="349.6" stroke="#000" stroke-width="3"/>
<g fill="#000"><circle cx="1383.9" cy="114.0" r="2.5"/><circle cx="1411.2" cy="156.9" r="2.5"/><circle cx="1346.9" cy="165.5" r="2.5"/><circle cx="1321.2" cy="176.3" r="2.5"/><circle cx="1391.8" cy="192.7" r="2.5"/><circle cx="1364.4" cy="205.3" r="2.5"/><circle cx="1403.6" cy="215.6" r="2.5"/><circle cx="1407.1" cy="225.8" r="2.5"/><circle cx="1394.5" cy="251.8" r="2.5"/><circle cx="1395.5" cy="254.1" r="2.5"/><circle cx="1372.9" cy="270.3" r="2.5"/><circle cx="1365.0" cy="290.0" r="2.5"/><circle cx="1284.9" cy="291.6" r="2.5"/><circle cx="1278.3" cy="312.8" r="2.5"/><circle cx="1317.4" cy="317.1" r="2.5"/><circle cx="1331.3" cy="313.9" r="2.5"/><circle cx="1331.3" cy="317.3" r="2.5"/><circle cx="1419.8" cy="331.7" r="2.5"/><circle cx="1489.2" cy="330.3" r="2.5"/><circle cx="1389.6" cy="347.4" r="2.5"/><circle cx="1358.2" cy="358.3" r="2.5"/><circle cx="1437.6" cy="348.1" r="2.5"/><circle cx="1448.7" cy="344.9" r="2.5"/><circle cx="1454.6" cy="349.9" r="2.5"/><circle cx="1262.4" cy="362.4" r="2.5"/><circle cx="1312.7" cy="366.3" r="2.5"/><circle cx="1463.3" cy="366.0" r="2.5"/><circle cx="1491.1" cy="363.8" r="2.5"/><circle cx="1501.5" cy="357.2" r="2.5"/><circle cx="1505.4" cy="357.8" r="2.5"/><circle cx="1335.4" cy="380.1" r="2.5"/><circle cx="1384.3" cy="385.4" r="2.5"/><circle cx="1412.8" cy="401.3" r="2.5"/><circle cx="1390.5" cy="430.2" r="2.5"/><circle cx="1363.6" cy="444.3" r="2.5"/><circle cx="1365.0" cy="465.7" r="2.5"/><circle cx="1347.0" cy="478.4" r="2.5"/></g>
<g fill="#000"><circle cx="1687.6" cy="94.2" r="2.5"/><circle cx="1701.8" cy="97.2" r="2.5"/><circle cx="1700.4" cy="115.6" r="2.5"/><circle cx="1691.6" cy="137.2" r="2.5"/><circle cx="1699.4" cy="174.8" r="2.5"/><circle cx="1726.4" cy="214.6" r="2.5"/><circle cx="1705.6" cy="224.2" r="2.5"/><circle cx="1667.4" cy="228.6" r="2.5"/><circle cx="1692.2" cy="232.2" r="2.5"/><circle cx="1635.0" cy="238.0" r="2.5"/><circle cx="1778.0" cy="251.0" r="2.5"/><circle cx="1674.4" cy="255.2" r="2.5"/><circle cx="1775.6" cy="257.4" r="2.5"/><circle cx="1766.0" cy="259.2" r="2.5"/><circle cx="1742.8" cy="259.4" r="2.5"/><circle cx="1630.0" cy="262.2" r="2.5"/><circle cx="1604.2" cy="263.8" r="2.5"/><circle cx="1764.4" cy="268.4" r="2.5"/><circle cx="1697.4" cy="269.2" r="2.5"/><circle cx="1687.6" cy="270.6" r="2.5"/><circle cx="1642.0" cy="270.6" r="2.5"/><circle cx="1629.4" cy="272.0" r="2.5"/><circle cx="1590.0" cy="275.1" r="2.5"/><circle cx="1629.5" cy="272.6" r="2.5"/><circle cx="1641.8" cy="271.3" r="2.5"/><circle cx="1687.7" cy="270.8" r="2.5"/><circle cx="1697.2" cy="270.0" r="2.5"/><circle cx="1764.0" cy="270.0" r="2.5"/><circle cx="1589.5" cy="280.7" r="2.5"/><circle cx="1596.9" cy="287.9" r="2.5"/><circle cx="1632.6" cy="288.9" r="2.5"/><circle cx="1673.7" cy="291.2" r="2.5"/><circle cx="1770.4" cy="297.6" r="2.5"/><circle cx="1575.9" cy="301.1" r="2.5"/><circle cx="1596.9" cy="299.9" r="2.5"/><circle cx="1599.2" cy="307.0" r="2.5"/><circle cx="1687.0" cy="301.9" r="2.5"/><circle cx="1700.8" cy="301.1" r="2.5"/><circle cx="1706.1" cy="305.7" r="2.5"/><circle cx="1570.1" cy="312.4" r="2.5"/><circle cx="1725.3" cy="312.4" r="2.5"/><circle cx="1728.3" cy="312.4" r="2.5"/><circle cx="1808.2" cy="311.1" r="2.5"/><circle cx="1811.3" cy="313.4" r="2.5"/><circle cx="1609.9" cy="318.5" r="2.5"/><circle cx="1652.0" cy="320.8" r="2.5"/><circle cx="1789.1" cy="319.8" r="2.5"/><circle cx="1715.6" cy="323.3" r="2.5"/><circle cx="1705.3" cy="332.0" r="2.5"/><circle cx="1810.5" cy="334.3" r="2.5"/><circle cx="1687.2" cy="338.9" r="2.5"/><circle cx="1715.8" cy="342.5" r="2.5"/><circle cx="1627.0" cy="341.7" r="2.5"/><circle cx="1626.0" cy="350.4" r="2.5"/><circle cx="1716.6" cy="348.9" r="2.5"/><circle cx="1571.1" cy="351.2" r="2.5"/><circle cx="1672.7" cy="353.2" r="2.5"/><circle cx="1731.9" cy="355.0" r="2.5"/><circle cx="1580.0" cy="357.5" r="2.5"/><circle cx="1720.9" cy="357.5" r="2.5"/><circle cx="1721.7" cy="359.3" r="2.5"/><circle cx="1651.7" cy="359.1" r="2.5"/><circle cx="1756.9" cy="358.8" r="2.5"/><circle cx="1600.2" cy="360.9" r="2.5"/><circle cx="1682.1" cy="361.9" r="2.5"/><circle cx="1578.5" cy="363.9" r="2.5"/><circle cx="1818.7" cy="365.5" r="2.5"/><circle cx="1707.6" cy="368.0" r="2.5"/><circle cx="1601.0" cy="370.3" r="2.5"/><circle cx="1614.0" cy="373.4" r="2.5"/><circle cx="1745.7" cy="375.2" r="2.5"/><circle cx="1656.1" cy="381.8" r="2.5"/><circle cx="1650.7" cy="386.6" r="2.5"/><circle cx="1681.9" cy="387.9" r="2.5"/><circle cx="1615.0" cy="388.9" r="2.5"/><circle cx="1777.1" cy="392.3" r="2.5"/><circle cx="1655.1" cy="396.3" r="2.5"/><circle cx="1638.0" cy="398.9" r="2.5"/><circle cx="1715.3" cy="398.4" r="2.5"/><circle cx="1762.8" cy="400.4" r="2.5"/><circle cx="1796.0" cy="408.1" r="2.5"/><circle cx="1601.0" cy="409.9" r="2.5"/><circle cx="1742.1" cy="411.9" r="2.5"/><circle cx="1730.6" cy="415.0" r="2.5"/><circle cx="1783.4" cy="416.8" r="2.5"/><circle cx="1672.7" cy="420.1" r="2.5"/><circle cx="1604.3" cy="424.9" r="2.5"/><circle cx="1628.5" cy="428.2" r="2.5"/><circle cx="1626.5" cy="431.6" r="2.5"/><circle cx="1623.7" cy="434.6" r="2.5"/><circle cx="1670.6" cy="435.9" r="2.5"/><circle cx="1769.9" cy="437.9" r="2.5"/><circle cx="1675.0" cy="441.5" r="2.5"/><circle cx="1643.3" cy="443.0" r="2.5"/><circle cx="1725.0" cy="447.1" r="2.5"/><circle cx="1671.1" cy="452.0" r="2.5"/><circle cx="1693.3" cy="457.3" r="2.5"/><circle cx="1717.9" cy="466.3" r="2.5"/><circle cx="1706.1" cy="482.1" r="2.5"/><circle cx="1683.4" cy="485.2" r="2.5"/><circle cx="1692.8" cy="495.6" r="2.5"/><circle cx="1680.1" cy="504.6" r="2.5"/><circle cx="1700.0" cy="536.0" r="2.5"/></g>
<path d="M1103.9,89.3 V652.3 H1938.3" fill="none" stroke="#222" stroke-width="1.35"/>
<line x1="1096.2" y1="90" x2="1103.9" y2="90" stroke="#222" stroke-width="1.35"/>
<text x="1090.8" y="100.9" font-size="23.3" text-anchor="end" font-weight="normal" >90</text>
<line x1="1096.2" y1="279.6" x2="1103.9" y2="279.6" stroke="#222" stroke-width="1.35"/>
<text x="1090.8" y="290.5" font-size="23.3" text-anchor="end" font-weight="normal" >7</text>
<line x1="1096.2" y1="332.9" x2="1103.9" y2="332.9" stroke="#222" stroke-width="1.35"/>
<text x="1090.8" y="343.8" font-size="23.3" text-anchor="end" font-weight="normal" >3</text>
<line x1="1096.2" y1="387.9" x2="1103.9" y2="387.9" stroke="#222" stroke-width="1.35"/>
<text x="1090.8" y="398.8" font-size="23.3" text-anchor="end" font-weight="normal" >1</text>
<line x1="1096.2" y1="529.8" x2="1103.9" y2="529.8" stroke="#222" stroke-width="1.35"/>
<text x="1090.8" y="540.7" font-size="23.3" text-anchor="end" font-weight="normal" >4</text><rect x="1067.6" y="530.5" width="8" height="2.1" fill="#111"/>
<rect x="1013.7" y="19.8" width="36.9" height="36.7" fill="#fff" stroke="#333" stroke-width="1.2"/>
<text x="1032.4" y="45.8" font-size="22.8" text-anchor="middle" font-weight="bold" textLength="14.0" lengthAdjust="spacingAndGlyphs" stroke="#111" stroke-width="0.55">B</text>
<text x="1064.4" y="47.0" font-size="25.8" text-anchor="start" font-weight="normal" textLength="128.1" lengthAdjust="spacingAndGlyphs" >G-CSF level</text>
<text x="1051.4" y="408" font-size="25.8" text-anchor="start" font-weight="normal" textLength="152.5" lengthAdjust="spacingAndGlyphs" transform="rotate(-90 1051.4 408)" >G-CSF, pg/mL</text>
<text x="1330.6" y="690.1" font-size="25.8" text-anchor="start" font-weight="normal" textLength="88" lengthAdjust="spacingAndGlyphs" >Placebo</text>
<text x="1644.8" y="690.1" font-size="25.8" text-anchor="start" font-weight="normal" textLength="87" lengthAdjust="spacingAndGlyphs" >CN-105</text>
</g>
<g id="panelC">
<line x1="108.1" y1="901.7" x2="942" y2="901.7" stroke="#d8d8d8" stroke-width="2"/>
<line x1="108.1" y1="1083" x2="942" y2="1083" stroke="#d8d8d8" stroke-width="2"/>
<line x1="108.1" y1="1125.4" x2="942" y2="1125.4" stroke="#d8d8d8" stroke-width="2"/>
<line x1="108.1" y1="1166.5" x2="942" y2="1166.5" stroke="#d8d8d8" stroke-width="2"/>
<line x1="108.1" y1="1304.5" x2="942" y2="1304.5" stroke="#d8d8d8" stroke-width="2"/>
<path d="M361.4,808.2 361.4,809.2 361.4,810.2 361.4,811.2 361.4,812.2 361.4,813.2 361.5,814.2 361.5,815.2 361.5,816.2 361.5,817.2 361.6,818.2 361.6,819.2 361.6,820.2 361.7,821.2 361.7,822.2 361.7,823.2 361.8,824.2 361.8,825.2 361.8,826.2 361.9,827.2 361.9,828.2 362.0,829.2 362.1,830.2 362.1,831.2 362.2,832.2 362.2,833.2 362.3,834.2 362.4,835.2 362.4,836.2 362.5,837.2 362.6,838.2 362.7,839.2 362.8,840.2 362.9,841.2 362.9,842.2 363.0,843.2 363.1,844.2 363.2,845.2 363.4,846.2 363.5,847.2 363.6,848.2 363.7,849.2 363.8,850.2 364.0,851.2 364.1,852.2 364.2,853.2 364.4,854.2 364.5,855.2 364.7,856.2 364.8,857.2 365.0,858.2 365.2,859.2 365.3,860.2 365.5,861.2 365.7,862.2 365.8,863.2 366.0,864.2 366.1,865.2 366.3,866.2 366.4,867.2 366.5,868.2 366.7,869.2 366.8,870.2 366.9,871.2 367.0,872.2 367.2,873.2 367.3,874.2 367.4,875.2 367.5,876.2 367.6,877.2 367.8,878.2 367.9,879.2 368.0,880.2 368.1,881.2 368.2,882.2 368.3,883.2 368.4,884.2 368.5,885.2 368.6,886.2 368.7,887.2 368.8,888.2 368.9,889.2 369.0,890.2 369.1,891.2 369.2,892.2 369.2,893.2 369.3,894.2 369.4,895.2 369.5,896.2 369.5,897.2 369.6,898.2 369.6,899.2 369.7,900.2 369.7,901.2 369.8,902.2 369.8,903.2 369.8,904.2 369.8,905.2 369.9,906.2 369.9,907.2 369.9,908.2 369.9,909.2 369.9,910.2 370.0,911.2 370.0,912.2 370.0,913.2 370.0,914.2 370.0,915.2 370.0,916.2 370.0,917.2 370.0,918.2 370.0,919.2 370.0,920.2 370.0,921.2 370.0,922.2 370.0,923.2 370.0,924.2 370.0,925.2 370.0,926.2 370.0,927.2 370.0,928.2 370.0,929.2 370.0,930.2 370.0,931.2 370.0,932.2 370.0,933.2 370.0,934.2 370.1,935.2 370.1,936.2 370.1,937.2 370.2,938.2 370.3,939.2 370.4,940.2 370.5,941.2 370.6,942.2 370.7,943.2 370.9,944.2 371.0,945.2 371.2,946.2 371.3,947.2 371.5,948.2 371.7,949.2 371.9,950.2 372.1,951.2 372.4,952.2 372.6,953.2 372.9,954.2 373.2,955.2 373.5,956.2 373.7,957.2 374.1,958.2 374.4,959.2 374.7,960.2 375.1,961.2 375.5,962.2 375.8,963.2 376.2,964.2 376.7,965.2 377.1,966.2 377.5,967.2 377.9,968.2 378.3,969.2 378.8,970.2 379.2,971.2 379.7,972.2 380.1,973.2 380.6,974.2 381.1,975.2 381.6,976.2 382.1,977.2 382.6,978.2 383.1,979.2 383.6,980.2 384.1,981.2 384.7,982.2 385.2,983.2 385.7,984.2 386.3,985.2 386.9,986.2 387.4,987.2 388.0,988.2 388.6,989.2 389.2,990.2 389.8,991.2 390.4,992.2 391.0,993.2 391.6,994.2 392.2,995.2 392.9,996.2 393.5,997.2 394.2,998.2 394.8,999.2 395.5,1000.2 396.2,1001.2 396.9,1002.2 397.6,1003.2 398.4,1004.2 399.1,1005.2 399.9,1006.2 400.6,1007.2 401.4,1008.2 402.2,1009.2 403.0,1010.2 403.8,1011.2 404.7,1012.2 405.5,1013.2 406.4,1014.2 407.2,1015.2 408.1,1016.2 409.0,1017.2 409.9,1018.2 410.8,1019.2 411.7,1020.2 412.7,1021.2 413.6,1022.2 414.6,1023.2 415.6,1024.2 416.7,1025.2 417.8,1026.2 418.9,1027.2 420.0,1028.2 421.0,1029.2 422.1,1030.2 423.2,1031.2 424.2,1032.2 425.3,1033.2 426.3,1034.2 427.4,1035.2 428.4,1036.2 429.5,1037.2 430.5,1038.2 431.5,1039.2 432.6,1040.2 433.6,1041.2 434.6,1042.2 435.6,1043.2 436.6,1044.2 437.5,1045.2 438.5,1046.2 439.5,1047.2 440.5,1048.2 441.5,1049.2 442.5,1050.2 443.5,1051.2 444.6,1052.2 445.6,1053.2 446.6,1054.2 447.6,1055.2 448.6,1056.2 449.5,1057.2 450.5,1058.2 451.5,1059.2 452.5,1060.2 453.5,1061.2 454.5,1062.2 455.5,1063.2 456.5,1064.2 457.4,1065.2 458.3,1066.2 459.1,1067.2 459.9,1068.2 460.6,1069.2 461.4,1070.2 462.1,1071.2 462.7,1072.2 463.4,1073.2 464.0,1074.2 464.6,1075.2 465.2,1076.2 465.7,1077.2 466.3,1078.2 466.8,1079.2 467.3,1080.2 467.8,1081.2 468.2,1082.2 468.7,1083.2 469.1,1084.2 469.5,1085.2 469.8,1086.2 470.1,1087.2 470.4,1088.2 470.7,1089.2 471.0,1090.2 471.2,1091.2 471.5,1092.2 471.7,1093.2 471.9,1094.2 472.1,1095.2 472.2,1096.2 472.3,1097.2 472.4,1098.2 472.5,1099.2 472.6,1100.2 472.7,1101.2 472.8,1102.2 472.9,1103.2 472.9,1104.2 473.0,1105.2 473.0,1106.2 473.0,1107.2 472.9,1108.2 472.9,1109.2 472.8,1110.2 472.8,1111.2 472.7,1112.2 472.7,1113.2 472.6,1114.2 472.5,1115.2 472.4,1116.2 472.4,1117.2 472.3,1118.2 472.2,1119.2 472.0,1120.2 471.9,1121.2 471.8,1122.2 471.7,1123.2 471.5,1124.2 471.4,1125.2 471.3,1126.2 471.1,1127.2 471.0,1128.2 470.8,1129.2 470.7,1130.2 470.5,1131.2 470.3,1132.2 470.1,1133.2 470.0,1134.2 469.8,1135.2 469.6,1136.2 469.4,1137.2 469.1,1138.2 468.9,1139.2 468.6,1140.2 468.4,1141.2 468.2,1142.2 468.0,1143.2 467.8,1144.2 467.6,1145.2 467.5,1146.2 467.4,1147.2 467.3,1148.2 467.2,1149.2 467.1,1150.2 467.0,1151.2 467.0,1152.2 466.9,1153.2 466.8,1154.2 466.8,1155.2 466.7,1156.2 466.6,1157.2 466.5,1158.2 466.4,1159.2 466.3,1160.2 466.1,1161.2 466.0,1162.2 465.7,1163.2 465.5,1164.2 465.2,1165.2 464.8,1166.2 464.5,1167.2 464.1,1168.2 463.7,1169.2 463.2,1170.2 462.8,1171.2 462.3,1172.2 461.8,1173.2 461.2,1174.2 460.6,1175.2 459.9,1176.2 459.1,1177.2 458.3,1178.2 457.5,1179.2 456.7,1180.2 455.8,1181.2 454.9,1182.2 454.0,1183.2 453.1,1184.2 452.1,1185.2 451.0,1186.2 450.0,1187.2 448.8,1188.2 447.7,1189.2 446.5,1190.2 445.4,1191.2 444.2,1192.2 443.0,1193.2 441.9,1194.2 440.7,1195.2 439.6,1196.2 438.4,1197.2 437.2,1198.2 436.0,1199.2 434.8,1200.2 433.5,1201.2 432.3,1202.2 431.1,1203.2 429.9,1204.2 428.7,1205.2 427.5,1206.2 426.3,1207.2 425.1,1208.2 423.9,1209.2 422.7,1210.2 421.5,1211.2 420.3,1212.2 419.1,1213.2 417.9,1214.2 416.7,1215.2 415.5,1216.2 414.3,1217.2 413.1,1218.2 411.8,1219.2 410.6,1220.2 409.3,1221.2 408.1,1222.2 406.8,1223.2 405.6,1224.2 404.5,1225.2 403.3,1226.2 402.2,1227.2 401.1,1228.2 400.0,1229.2 399.0,1230.2 398.0,1231.2 397.0,1232.2 396.0,1233.2 395.0,1234.2 394.0,1235.2 393.1,1236.2 392.2,1237.2 391.3,1238.2 390.4,1239.2 389.5,1240.2 388.7,1241.2 387.8,1242.2 387.0,1243.2 386.2,1244.2 385.4,1245.2 384.6,1246.2 383.9,1247.2 383.2,1248.2 382.5,1249.2 381.8,1250.2 381.1,1251.2 380.4,1252.2 379.8,1253.2 379.2,1254.2 378.5,1255.2 377.9,1256.2 377.4,1257.2 376.8,1258.2 376.3,1259.2 375.7,1260.2 375.2,1261.2 374.7,1262.2 374.2,1263.2 373.8,1264.2 373.3,1265.2 372.9,1266.2 372.4,1267.2 372.0,1268.2 371.6,1269.2 371.2,1270.2 370.8,1271.2 370.5,1272.2 370.1,1273.2 369.8,1274.2 369.5,1275.2 369.2,1276.2 368.9,1277.2 368.6,1278.2 368.3,1279.2 368.0,1280.2 367.8,1281.2 367.5,1282.2 367.3,1283.2 367.0,1284.2 366.8,1285.2 366.6,1286.2 366.4,1287.2 366.2,1288.2 366.0,1289.2 365.8,1290.2 365.7,1291.2 365.5,1292.2 365.3,1293.2 365.1,1294.2 365.0,1295.2 364.8,1296.2 364.6,1297.2 364.4,1298.2 364.3,1299.2 364.1,1300.2 364.0,1301.2 363.8,1302.2 363.7,1303.2 363.6,1304.2 363.5,1305.2 363.4,1306.2 363.3,1307.2 363.2,1308.2 363.1,1309.2 363.0,1310.2 362.9,1311.2 362.8,1312.2 362.8,1313.2 362.7,1314.2 362.6,1315.2 362.5,1316.2 362.5,1317.2 362.4,1318.2 362.4,1319.2 362.3,1320.2 362.3,1321.2 362.2,1322.2 362.2,1323.2 362.1,1324.2 362.1,1325.2 362.0,1326.2 362.0,1327.2 362.0,1328.2 361.9,1329.2 361.9,1330.2 361.9,1331.2 361.8,1332.2 361.8,1333.2 361.8,1334.2 361.7,1335.2 361.7,1336.2 361.7,1337.2 361.6,1338.2 361.6,1339.2 361.6,1340.2 361.5,1341.2 361.5,1342.2 361.5,1343.2 361.5,1344.2 361.5,1345.2 361.4,1346.2 361.4,1347.2 361.4,1348.2 361.4,1349.2 361.4,1350.2 361.4,1351.2 361.4,1351.7 361.4,1351.7 361.4,1351.2 361.3,1350.2 361.3,1349.2 361.3,1348.2 361.3,1347.2 361.3,1346.2 361.3,1345.2 361.2,1344.2 361.2,1343.2 361.2,1342.2 361.2,1341.2 361.1,1340.2 361.1,1339.2 361.1,1338.2 361.1,1337.2 361.0,1336.2 361.0,1335.2 361.0,1334.2 360.9,1333.2 360.9,1332.2 360.9,1331.2 360.8,1330.2 360.8,1329.2 360.8,1328.2 360.7,1327.2 360.7,1326.2 360.6,1325.2 360.6,1324.2 360.6,1323.2 360.5,1322.2 360.5,1321.2 360.4,1320.2 360.4,1319.2 360.3,1318.2 360.2,1317.2 360.2,1316.2 360.1,1315.2 360.0,1314.2 360.0,1313.2 359.9,1312.2 359.8,1311.2 359.7,1310.2 359.6,1309.2 359.5,1308.2 359.4,1307.2 359.3,1306.2 359.2,1305.2 359.1,1304.2 359.0,1303.2 358.9,1302.2 358.7,1301.2 358.6,1300.2 358.4,1299.2 358.3,1298.2 358.1,1297.2 357.9,1296.2 357.8,1295.2 357.6,1294.2 357.4,1293.2 357.2,1292.2 357.1,1291.2 356.9,1290.2 356.7,1289.2 356.5,1288.2 356.3,1287.2 356.1,1286.2 355.9,1285.2 355.7,1284.2 355.4,1283.2 355.2,1282.2 355.0,1281.2 354.7,1280.2 354.4,1279.2 354.1,1278.2 353.9,1277.2 353.5,1276.2 353.2,1275.2 352.9,1274.2 352.6,1273.2 352.2,1272.2 351.9,1271.2 351.5,1270.2 351.1,1269.2 350.7,1268.2 350.3,1267.2 349.9,1266.2 349.4,1265.2 349.0,1264.2 348.5,1263.2 348.0,1262.2 347.5,1261.2 347.0,1260.2 346.5,1259.2 345.9,1258.2 345.4,1257.2 344.8,1256.2 344.2,1255.2 343.6,1254.2 342.9,1253.2 342.3,1252.2 341.6,1251.2 341.0,1250.2 340.3,1249.2 339.6,1248.2 338.8,1247.2 338.1,1246.2 337.3,1245.2 336.5,1244.2 335.7,1243.2 334.9,1242.2 334.0,1241.2 333.2,1240.2 332.3,1239.2 331.4,1238.2 330.5,1237.2 329.6,1236.2 328.7,1235.2 327.7,1234.2 326.8,1233.2 325.8,1232.2 324.7,1231.2 323.7,1230.2 322.7,1229.2 321.6,1228.2 320.5,1227.2 319.4,1226.2 318.3,1225.2 317.1,1224.2 315.9,1223.2 314.6,1222.2 313.4,1221.2 312.2,1220.2 310.9,1219.2 309.7,1218.2 308.4,1217.2 307.2,1216.2 306.0,1215.2 304.8,1214.2 303.6,1213.2 302.4,1212.2 301.2,1211.2 300.0,1210.2 298.8,1209.2 297.6,1208.2 296.4,1207.2 295.2,1206.2 294.0,1205.2 292.8,1204.2 291.6,1203.2 290.4,1202.2 289.2,1201.2 288.0,1200.2 286.8,1199.2 285.5,1198.2 284.4,1197.2 283.2,1196.2 282.0,1195.2 280.8,1194.2 279.7,1193.2 278.5,1192.2 277.3,1191.2 276.2,1190.2 275.0,1189.2 273.9,1188.2 272.8,1187.2 271.7,1186.2 270.6,1185.2 269.6,1184.2 268.7,1183.2 267.8,1182.2 266.9,1181.2 266.1,1180.2 265.2,1179.2 264.4,1178.2 263.6,1177.2 262.8,1176.2 262.1,1175.2 261.5,1174.2 260.9,1173.2 260.4,1172.2 259.9,1171.2 259.5,1170.2 259.0,1169.2 258.6,1168.2 258.2,1167.2 257.9,1166.2 257.5,1165.2 257.2,1164.2 257.0,1163.2 256.8,1162.2 256.6,1161.2 256.4,1160.2 256.3,1159.2 256.2,1158.2 256.1,1157.2 256.0,1156.2 255.9,1155.2 255.9,1154.2 255.8,1153.2 255.7,1152.2 255.7,1151.2 255.6,1150.2 255.5,1149.2 255.4,1148.2 255.3,1147.2 255.2,1146.2 255.1,1145.2 254.9,1144.2 254.7,1143.2 254.5,1142.2 254.3,1141.2 254.1,1140.2 253.8,1139.2 253.6,1138.2 253.4,1137.2 253.1,1136.2 253.0,1135.2 252.8,1134.2 252.6,1133.2 252.4,1132.2 252.2,1131.2 252.1,1130.2 251.9,1129.2 251.7,1128.2 251.6,1127.2 251.4,1126.2 251.3,1125.2 251.2,1124.2 251.0,1123.2 250.9,1122.2 250.8,1121.2 250.7,1120.2 250.6,1119.2 250.5,1118.2 250.4,1117.2 250.3,1116.2 250.2,1115.2 250.1,1114.2 250.1,1113.2 250.0,1112.2 249.9,1111.2 249.9,1110.2 249.8,1109.2 249.8,1108.2 249.8,1107.2 249.8,1106.2 249.8,1105.2 249.8,1104.2 249.8,1103.2 249.9,1102.2 250.0,1101.2 250.1,1100.2 250.2,1099.2 250.3,1098.2 250.4,1097.2 250.5,1096.2 250.7,1095.2 250.8,1094.2 251.0,1093.2 251.2,1092.2 251.5,1091.2 251.7,1090.2 252.0,1089.2 252.3,1088.2 252.6,1087.2 252.9,1086.2 253.2,1085.2 253.6,1084.2 254.0,1083.2 254.5,1082.2 254.9,1081.2 255.4,1080.2 255.9,1079.2 256.5,1078.2 257.0,1077.2 257.5,1076.2 258.1,1075.2 258.7,1074.2 259.3,1073.2 260.0,1072.2 260.7,1071.2 261.4,1070.2 262.1,1069.2 262.8,1068.2 263.6,1067.2 264.4,1066.2 265.3,1065.2 266.3,1064.2 267.2,1063.2 268.2,1062.2 269.2,1061.2 270.2,1060.2 271.2,1059.2 272.2,1058.2 273.2,1057.2 274.2,1056.2 275.2,1055.2 276.2,1054.2 277.2,1053.2 278.2,1052.2 279.2,1051.2 280.2,1050.2 281.2,1049.2 282.2,1048.2 283.2,1047.2 284.2,1046.2 285.2,1045.2 286.2,1044.2 287.2,1043.2 288.2,1042.2 289.2,1041.2 290.2,1040.2 291.2,1039.2 292.2,1038.2 293.2,1037.2 294.3,1036.2 295.3,1035.2 296.4,1034.2 297.4,1033.2 298.5,1032.2 299.6,1031.2 300.6,1030.2 301.7,1029.2 302.8,1028.2 303.8,1027.2 304.9,1026.2 306.0,1025.2 307.1,1024.2 308.1,1023.2 309.1,1022.2 310.0,1021.2 311.0,1020.2 311.9,1019.2 312.8,1018.2 313.7,1017.2 314.6,1016.2 315.5,1015.2 316.4,1014.2 317.2,1013.2 318.1,1012.2 318.9,1011.2 319.7,1010.2 320.5,1009.2 321.3,1008.2 322.1,1007.2 322.9,1006.2 323.6,1005.2 324.4,1004.2 325.1,1003.2 325.8,1002.2 326.5,1001.2 327.2,1000.2 327.9,999.2 328.6,998.2 329.2,997.2 329.9,996.2 330.5,995.2 331.1,994.2 331.7,993.2 332.3,992.2 332.9,991.2 333.5,990.2 334.1,989.2 334.7,988.2 335.3,987.2 335.9,986.2 336.4,985.2 337.0,984.2 337.5,983.2 338.1,982.2 338.6,981.2 339.1,980.2 339.6,979.2 340.1,978.2 340.6,977.2 341.1,976.2 341.6,975.2 342.1,974.2 342.6,973.2 343.0,972.2 343.5,971.2 344.0,970.2 344.4,969.2 344.8,968.2 345.2,967.2 345.7,966.2 346.1,965.2 346.5,964.2 346.9,963.2 347.3,962.2 347.6,961.2 348.0,960.2 348.3,959.2 348.7,958.2 349.0,957.2 349.3,956.2 349.5,955.2 349.8,954.2 350.1,953.2 350.3,952.2 350.6,951.2 350.8,950.2 351.0,949.2 351.2,948.2 351.4,947.2 351.6,946.2 351.7,945.2 351.8,944.2 352.0,943.2 352.1,942.2 352.2,941.2 352.3,940.2 352.4,939.2 352.5,938.2 352.6,937.2 352.6,936.2 352.7,935.2 352.7,934.2 352.7,933.2 352.7,932.2 352.7,931.2 352.7,930.2 352.7,929.2 352.7,928.2 352.8,927.2 352.8,926.2 352.8,925.2 352.8,924.2 352.8,923.2 352.8,922.2 352.8,921.2 352.8,920.2 352.8,919.2 352.8,918.2 352.8,917.2 352.8,916.2 352.8,915.2 352.8,914.2 352.8,913.2 352.8,912.2 352.8,911.2 352.8,910.2 352.8,909.2 352.8,908.2 352.8,907.2 352.9,906.2 352.9,905.2 352.9,904.2 352.9,903.2 353.0,902.2 353.0,901.2 353.0,900.2 353.1,899.2 353.1,898.2 353.2,897.2 353.3,896.2 353.3,895.2 353.4,894.2 353.5,893.2 353.6,892.2 353.6,891.2 353.7,890.2 353.8,889.2 353.9,888.2 354.0,887.2 354.1,886.2 354.2,885.2 354.3,884.2 354.4,883.2 354.5,882.2 354.6,881.2 354.7,880.2 354.9,879.2 355.0,878.2 355.1,877.2 355.2,876.2 355.3,875.2 355.4,874.2 355.6,873.2 355.7,872.2 355.8,871.2 355.9,870.2 356.1,869.2 356.2,868.2 356.3,867.2 356.5,866.2 356.6,865.2 356.7,864.2 356.9,863.2 357.1,862.2 357.2,861.2 357.4,860.2 357.6,859.2 357.7,858.2 357.9,857.2 358.1,856.2 358.2,855.2 358.4,854.2 358.5,853.2 358.6,852.2 358.8,851.2 358.9,850.2 359.0,849.2 359.1,848.2 359.3,847.2 359.4,846.2 359.5,845.2 359.6,844.2 359.7,843.2 359.8,842.2 359.9,841.2 359.9,840.2 360.0,839.2 360.1,838.2 360.2,837.2 360.3,836.2 360.3,835.2 360.4,834.2 360.5,833.2 360.5,832.2 360.6,831.2 360.7,830.2 360.7,829.2 360.8,828.2 360.8,827.2 360.9,826.2 360.9,825.2 361.0,824.2 361.0,823.2 361.0,822.2 361.1,821.2 361.1,820.2 361.1,819.2 361.2,818.2 361.2,817.2 361.2,816.2 361.2,815.2 361.3,814.2 361.3,813.2 361.3,812.2 361.3,811.2 361.3,810.2 361.3,809.2 361.4,808.2Z" fill="#F6A03E" fill-opacity="0.58"/>
<path d="M666.4,856.1 666.4,857.1 666.4,858.1 666.5,859.1 666.5,860.1 666.5,861.1 666.5,862.1 666.6,863.1 666.6,864.1 666.6,865.1 666.6,866.1 666.7,867.1 666.7,868.1 666.7,869.1 666.7,870.1 666.8,871.1 666.8,872.1 666.8,873.1 666.9,874.1 666.9,875.1 666.9,876.1 667.0,877.1 667.1,878.1 667.1,879.1 667.2,880.1 667.3,881.1 667.4,882.1 667.5,883.1 667.6,884.1 667.7,885.1 667.8,886.1 667.9,887.1 668.0,888.1 668.1,889.1 668.2,890.1 668.3,891.1 668.4,892.1 668.5,893.1 668.6,894.1 668.7,895.1 668.8,896.1 669.0,897.1 669.1,898.1 669.2,899.1 669.3,900.1 669.5,901.1 669.6,902.1 669.7,903.1 669.7,904.1 669.8,905.1 669.9,906.1 670.0,907.1 670.1,908.1 670.1,909.1 670.2,910.1 670.3,911.1 670.4,912.1 670.5,913.1 670.5,914.1 670.6,915.1 670.7,916.1 670.8,917.1 670.9,918.1 670.9,919.1 671.0,920.1 671.1,921.1 671.2,922.1 671.2,923.1 671.3,924.1 671.4,925.1 671.5,926.1 671.6,927.1 671.6,928.1 671.7,929.1 671.8,930.1 671.9,931.1 672.0,932.1 672.1,933.1 672.3,934.1 672.4,935.1 672.5,936.1 672.6,937.1 672.8,938.1 672.9,939.1 673.1,940.1 673.2,941.1 673.4,942.1 673.6,943.1 673.8,944.1 674.0,945.1 674.2,946.1 674.4,947.1 674.6,948.1 674.8,949.1 675.0,950.1 675.3,951.1 675.6,952.1 675.8,953.1 676.1,954.1 676.4,955.1 676.7,956.1 677.0,957.1 677.3,958.1 677.6,959.1 678.0,960.1 678.3,961.1 678.7,962.1 679.0,963.1 679.4,964.1 679.7,965.1 680.1,966.1 680.4,967.1 680.7,968.1 681.1,969.1 681.4,970.1 681.7,971.1 682.1,972.1 682.4,973.1 682.8,974.1 683.1,975.1 683.5,976.1 683.8,977.1 684.2,978.1 684.6,979.1 684.9,980.1 685.3,981.1 685.6,982.1 686.0,983.1 686.4,984.1 686.7,985.1 687.1,986.1 687.4,987.1 687.8,988.1 688.2,989.1 688.5,990.1 688.9,991.1 689.2,992.1 689.6,993.1 690.0,994.1 690.3,995.1 690.7,996.1 691.0,997.1 691.4,998.1 691.8,999.1 692.1,1000.1 692.5,1001.1 692.9,1002.1 693.2,1003.1 693.6,1004.1 694.0,1005.1 694.4,1006.1 694.7,1007.1 695.1,1008.1 695.5,1009.1 695.9,1010.1 696.3,1011.1 696.7,1012.1 697.1,1013.1 697.5,1014.1 697.8,1015.1 698.2,1016.1 698.7,1017.1 699.1,1018.1 699.5,1019.1 699.9,1020.1 700.3,1021.1 700.8,1022.1 701.2,1023.1 701.7,1024.1 702.1,1025.1 702.6,1026.1 703.1,1027.1 703.6,1028.1 704.2,1029.1 704.7,1030.1 705.3,1031.1 705.9,1032.1 706.6,1033.1 707.2,1034.1 707.9,1035.1 708.6,1036.1 709.3,1037.1 710.1,1038.1 710.9,1039.1 711.7,1040.1 712.6,1041.1 713.5,1042.1 714.4,1043.1 715.4,1044.1 716.4,1045.1 717.4,1046.1 718.4,1047.1 719.5,1048.1 720.5,1049.1 721.6,1050.1 722.7,1051.1 723.9,1052.1 725.2,1053.1 726.6,1054.1 728.2,1055.1 730.1,1056.1 732.2,1057.1 734.0,1058.1 735.8,1059.1 737.6,1060.1 739.2,1061.1 740.9,1062.1 742.5,1063.1 744.1,1064.1 745.7,1065.1 747.4,1066.1 749.0,1067.1 750.7,1068.1 752.4,1069.1 754.2,1070.1 756.0,1071.1 757.9,1072.1 759.8,1073.1 761.7,1074.1 763.7,1075.1 765.6,1076.1 767.5,1077.1 769.5,1078.1 771.4,1079.1 773.3,1080.1 775.1,1081.1 777.0,1082.1 778.8,1083.1 780.6,1084.1 782.4,1085.1 784.1,1086.1 785.9,1087.1 787.7,1088.1 789.4,1089.1 791.1,1090.1 792.7,1091.1 794.4,1092.1 795.9,1093.1 797.5,1094.1 799.0,1095.1 800.5,1096.1 802.0,1097.1 803.5,1098.1 804.9,1099.1 806.4,1100.1 807.8,1101.1 809.1,1102.1 810.4,1103.1 811.5,1104.1 812.6,1105.1 813.6,1106.1 814.4,1107.1 815.1,1108.1 815.9,1109.1 816.6,1110.1 817.2,1111.1 817.7,1112.1 818.2,1113.1 818.5,1114.1 818.6,1115.1 818.8,1116.1 819.0,1117.1 819.1,1118.1 819.1,1119.1 819.1,1120.1 818.9,1121.1 818.6,1122.1 818.3,1123.1 817.9,1124.1 817.5,1125.1 817.0,1126.1 816.4,1127.1 815.6,1128.1 814.7,1129.1 813.8,1130.1 812.8,1131.1 811.9,1132.1 810.8,1133.1 809.7,1134.1 808.5,1135.1 807.2,1136.1 806.0,1137.1 804.6,1138.1 803.3,1139.1 801.9,1140.1 800.6,1141.1 799.3,1142.1 798.0,1143.1 796.7,1144.1 795.5,1145.1 794.2,1146.1 793.0,1147.1 791.7,1148.1 790.4,1149.1 789.1,1150.1 787.9,1151.1 786.7,1152.1 785.5,1153.1 784.3,1154.1 783.3,1155.1 782.2,1156.1 781.3,1157.1 780.4,1158.1 779.5,1159.1 778.7,1160.1 777.9,1161.1 777.1,1162.1 776.3,1163.1 775.6,1164.1 774.8,1165.1 774.1,1166.1 773.4,1167.1 772.6,1168.1 771.9,1169.1 771.2,1170.1 770.5,1171.1 769.8,1172.1 769.2,1173.1 768.5,1174.1 767.9,1175.1 767.2,1176.1 766.6,1177.1 765.9,1178.1 765.1,1179.1 764.4,1180.1 763.5,1181.1 762.6,1182.1 761.6,1183.1 760.6,1184.1 759.4,1185.1 758.2,1186.1 757.0,1187.1 755.8,1188.1 754.5,1189.1 753.2,1190.1 752.0,1191.1 750.7,1192.1 749.5,1193.1 748.2,1194.1 747.0,1195.1 745.7,1196.1 744.4,1197.1 743.0,1198.1 741.7,1199.1 740.4,1200.1 739.1,1201.1 737.8,1202.1 736.5,1203.1 735.2,1204.1 734.0,1205.1 732.7,1206.1 731.5,1207.1 730.3,1208.1 729.0,1209.1 727.8,1210.1 726.6,1211.1 725.4,1212.1 724.2,1213.1 723.0,1214.1 721.9,1215.1 720.7,1216.1 719.5,1217.1 718.4,1218.1 717.3,1219.1 716.2,1220.1 715.1,1221.1 714.0,1222.1 712.9,1223.1 711.8,1224.1 710.7,1225.1 709.7,1226.1 708.6,1227.1 707.5,1228.1 706.5,1229.1 705.5,1230.1 704.4,1231.1 703.4,1232.1 702.3,1233.1 701.3,1234.1 700.3,1235.1 699.3,1236.1 698.3,1237.1 697.3,1238.1 696.3,1239.1 695.3,1240.1 694.4,1241.1 693.5,1242.1 692.5,1243.1 691.6,1244.1 690.7,1245.1 689.8,1246.1 688.9,1247.1 688.0,1248.1 687.1,1249.1 686.3,1250.1 685.4,1251.1 684.6,1252.1 683.9,1253.1 683.1,1254.1 682.4,1255.1 681.7,1256.1 681.1,1257.1 680.4,1258.1 679.7,1259.1 679.1,1260.1 678.5,1261.1 677.9,1262.1 677.3,1263.1 676.8,1264.1 676.3,1265.1 675.8,1266.1 675.4,1267.1 675.0,1268.1 674.6,1269.1 674.2,1270.1 673.9,1271.1 673.5,1272.1 673.2,1273.1 672.9,1274.1 672.6,1275.1 672.4,1276.1 672.2,1277.1 672.0,1278.1 671.8,1279.1 671.7,1280.1 671.6,1281.1 671.5,1282.1 671.4,1283.1 671.3,1284.1 671.2,1285.1 671.1,1286.1 671.0,1287.1 671.0,1288.1 670.9,1289.1 670.9,1290.1 670.8,1291.1 670.8,1292.1 670.7,1293.1 670.7,1294.1 670.7,1295.1 670.7,1296.1 670.7,1297.1 670.6,1298.1 670.6,1299.1 670.6,1300.1 670.6,1301.1 670.6,1302.1 670.5,1303.1 670.5,1304.1 670.5,1305.1 670.4,1306.1 670.3,1307.1 670.3,1308.1 670.2,1309.1 670.1,1310.1 670.1,1311.1 670.0,1312.1 669.9,1313.1 669.8,1314.1 669.7,1315.1 669.6,1316.1 669.5,1317.1 669.5,1318.1 669.4,1319.1 669.2,1320.1 669.1,1321.1 669.0,1322.1 668.9,1323.1 668.8,1324.1 668.7,1325.1 668.6,1326.1 668.5,1327.1 668.4,1328.1 668.3,1329.1 668.2,1330.1 668.1,1331.1 668.0,1332.1 667.9,1333.1 667.8,1334.1 667.7,1335.1 667.6,1336.1 667.6,1337.1 667.5,1338.1 667.4,1339.1 667.4,1340.1 667.3,1341.1 667.3,1342.1 667.2,1343.1 667.2,1344.1 667.1,1345.1 667.1,1346.1 667.1,1347.1 667.0,1348.1 667.0,1349.1 666.9,1350.1 666.9,1351.1 666.9,1352.1 666.8,1353.1 666.8,1354.1 666.8,1355.1 666.7,1356.1 666.7,1357.1 666.7,1358.1 666.6,1359.1 666.6,1360.1 666.6,1361.1 666.6,1362.1 666.5,1363.1 666.5,1364.1 666.5,1365.1 666.5,1366.1 666.5,1367.1 666.4,1368.1 666.4,1369.1 666.4,1370.1 666.4,1371.1 666.4,1372.1 666.4,1373.1 666.4,1374.1 666.4,1375.0 666.4,1375.0 666.4,1374.1 666.4,1373.1 666.4,1372.1 666.4,1371.1 666.4,1370.1 666.4,1369.1 666.3,1368.1 666.3,1367.1 666.3,1366.1 666.3,1365.1 666.3,1364.1 666.3,1363.1 666.2,1362.1 666.2,1361.1 666.2,1360.1 666.2,1359.1 666.1,1358.1 666.1,1357.1 666.1,1356.1 666.0,1355.1 666.0,1354.1 666.0,1353.1 665.9,1352.1 665.9,1351.1 665.8,1350.1 665.8,1349.1 665.8,1348.1 665.7,1347.1 665.7,1346.1 665.6,1345.1 665.6,1344.1 665.6,1343.1 665.5,1342.1 665.5,1341.1 665.4,1340.1 665.4,1339.1 665.3,1338.1 665.2,1337.1 665.1,1336.1 665.1,1335.1 665.0,1334.1 664.9,1333.1 664.8,1332.1 664.7,1331.1 664.6,1330.1 664.5,1329.1 664.4,1328.1 664.3,1327.1 664.2,1326.1 664.1,1325.1 664.0,1324.1 663.9,1323.1 663.8,1322.1 663.7,1321.1 663.5,1320.1 663.4,1319.1 663.3,1318.1 663.2,1317.1 663.2,1316.1 663.1,1315.1 663.0,1314.1 662.9,1313.1 662.8,1312.1 662.7,1311.1 662.7,1310.1 662.6,1309.1 662.5,1308.1 662.4,1307.1 662.4,1306.1 662.3,1305.1 662.3,1304.1 662.3,1303.1 662.2,1302.1 662.2,1301.1 662.2,1300.1 662.2,1299.1 662.2,1298.1 662.1,1297.1 662.1,1296.1 662.1,1295.1 662.1,1294.1 662.1,1293.1 662.0,1292.1 662.0,1291.1 661.9,1290.1 661.9,1289.1 661.8,1288.1 661.8,1287.1 661.7,1286.1 661.6,1285.1 661.5,1284.1 661.4,1283.1 661.3,1282.1 661.2,1281.1 661.1,1280.1 661.0,1279.1 660.8,1278.1 660.6,1277.1 660.4,1276.1 660.2,1275.1 659.9,1274.1 659.6,1273.1 659.3,1272.1 658.9,1271.1 658.5,1270.1 658.2,1269.1 657.8,1268.1 657.4,1267.1 657.0,1266.1 656.5,1265.1 656.0,1264.1 655.5,1263.1 654.9,1262.1 654.3,1261.1 653.7,1260.1 653.1,1259.1 652.4,1258.1 651.7,1257.1 651.0,1256.1 650.4,1255.1 649.6,1254.1 648.9,1253.1 648.1,1252.1 647.3,1251.1 646.5,1250.1 645.7,1249.1 644.8,1248.1 643.9,1247.1 643.0,1246.1 642.1,1245.1 641.2,1244.1 640.3,1243.1 639.3,1242.1 638.4,1241.1 637.5,1240.1 636.5,1239.1 635.5,1238.1 634.5,1237.1 633.5,1236.1 632.5,1235.1 631.5,1234.1 630.5,1233.1 629.4,1232.1 628.4,1231.1 627.3,1230.1 626.3,1229.1 625.2,1228.1 624.2,1227.1 623.1,1226.1 622.1,1225.1 621.0,1224.1 619.9,1223.1 618.8,1222.1 617.7,1221.1 616.6,1220.1 615.5,1219.1 614.4,1218.1 613.2,1217.1 612.1,1216.1 610.9,1215.1 609.8,1214.1 608.6,1213.1 607.4,1212.1 606.2,1211.1 605.0,1210.1 603.7,1209.1 602.5,1208.1 601.3,1207.1 600.0,1206.1 598.8,1205.1 597.6,1204.1 596.3,1203.1 595.0,1202.1 593.7,1201.1 592.4,1200.1 591.1,1199.1 589.7,1198.1 588.4,1197.1 587.1,1196.1 585.8,1195.1 584.6,1194.1 583.3,1193.1 582.1,1192.1 580.8,1191.1 579.6,1190.1 578.3,1189.1 577.0,1188.1 575.8,1187.1 574.5,1186.1 573.4,1185.1 572.2,1184.1 571.2,1183.1 570.2,1182.1 569.3,1181.1 568.4,1180.1 567.7,1179.1 566.9,1178.1 566.2,1177.1 565.5,1176.1 564.9,1175.1 564.3,1174.1 563.6,1173.1 563.0,1172.1 562.3,1171.1 561.6,1170.1 560.9,1169.1 560.2,1168.1 559.4,1167.1 558.7,1166.1 558.0,1165.1 557.2,1164.1 556.5,1163.1 555.7,1162.1 554.9,1161.1 554.1,1160.1 553.3,1159.1 552.4,1158.1 551.5,1157.1 550.6,1156.1 549.5,1155.1 548.5,1154.1 547.3,1153.1 546.1,1152.1 544.9,1151.1 543.7,1150.1 542.4,1149.1 541.1,1148.1 539.8,1147.1 538.6,1146.1 537.3,1145.1 536.0,1144.1 534.8,1143.1 533.5,1142.1 532.2,1141.1 530.8,1140.1 529.5,1139.1 528.2,1138.1 526.8,1137.1 525.5,1136.1 524.3,1135.1 523.1,1134.1 522.0,1133.1 520.9,1132.1 520.0,1131.1 519.0,1130.1 518.1,1129.1 517.2,1128.1 516.4,1127.1 515.8,1126.1 515.3,1125.1 514.9,1124.1 514.5,1123.1 514.2,1122.1 513.9,1121.1 513.7,1120.1 513.7,1119.1 513.7,1118.1 513.8,1117.1 514.0,1116.1 514.1,1115.1 514.3,1114.1 514.6,1113.1 515.1,1112.1 515.6,1111.1 516.2,1110.1 516.9,1109.1 517.6,1108.1 518.4,1107.1 519.2,1106.1 520.2,1105.1 521.2,1104.1 522.4,1103.1 523.7,1102.1 525.0,1101.1 526.4,1100.1 527.8,1099.1 529.3,1098.1 530.8,1097.1 532.3,1096.1 533.8,1095.1 535.3,1094.1 536.8,1093.1 538.4,1092.1 540.0,1091.1 541.7,1090.1 543.4,1089.1 545.1,1088.1 546.9,1087.1 548.7,1086.1 550.4,1085.1 552.2,1084.1 554.0,1083.1 555.8,1082.1 557.6,1081.1 559.5,1080.1 561.4,1079.1 563.3,1078.1 565.2,1077.1 567.2,1076.1 569.1,1075.1 571.1,1074.1 573.0,1073.1 574.9,1072.1 576.8,1071.1 578.6,1070.1 580.4,1069.1 582.1,1068.1 583.8,1067.1 585.4,1066.1 587.1,1065.1 588.7,1064.1 590.3,1063.1 591.9,1062.1 593.6,1061.1 595.2,1060.1 597.0,1059.1 598.8,1058.1 600.6,1057.1 602.7,1056.1 604.6,1055.1 606.1,1054.1 607.5,1053.1 608.8,1052.1 610.1,1051.1 611.2,1050.1 612.3,1049.1 613.3,1048.1 614.4,1047.1 615.4,1046.1 616.4,1045.1 617.4,1044.1 618.4,1043.1 619.3,1042.1 620.2,1041.1 621.1,1040.1 621.9,1039.1 622.7,1038.1 623.5,1037.1 624.2,1036.1 624.9,1035.1 625.6,1034.1 626.2,1033.1 626.9,1032.1 627.5,1031.1 628.1,1030.1 628.6,1029.1 629.2,1028.1 629.7,1027.1 630.2,1026.1 630.7,1025.1 631.1,1024.1 631.6,1023.1 632.0,1022.1 632.4,1021.1 632.9,1020.1 633.3,1019.1 633.7,1018.1 634.1,1017.1 634.5,1016.1 634.9,1015.1 635.3,1014.1 635.7,1013.1 636.1,1012.1 636.5,1011.1 636.9,1010.1 637.3,1009.1 637.7,1008.1 638.1,1007.1 638.4,1006.1 638.8,1005.1 639.2,1004.1 639.6,1003.1 639.9,1002.1 640.3,1001.1 640.7,1000.1 641.0,999.1 641.4,998.1 641.8,997.1 642.1,996.1 642.5,995.1 642.8,994.1 643.2,993.1 643.5,992.1 643.9,991.1 644.3,990.1 644.6,989.1 645.0,988.1 645.3,987.1 645.7,986.1 646.1,985.1 646.4,984.1 646.8,983.1 647.1,982.1 647.5,981.1 647.9,980.1 648.2,979.1 648.6,978.1 649.0,977.1 649.3,976.1 649.7,975.1 650.0,974.1 650.4,973.1 650.7,972.1 651.1,971.1 651.4,970.1 651.7,969.1 652.1,968.1 652.4,967.1 652.7,966.1 653.1,965.1 653.4,964.1 653.8,963.1 654.1,962.1 654.5,961.1 654.8,960.1 655.2,959.1 655.5,958.1 655.8,957.1 656.1,956.1 656.4,955.1 656.7,954.1 657.0,953.1 657.2,952.1 657.5,951.1 657.7,950.1 658.0,949.1 658.2,948.1 658.4,947.1 658.6,946.1 658.8,945.1 659.0,944.1 659.2,943.1 659.4,942.1 659.6,941.1 659.7,940.1 659.9,939.1 660.0,938.1 660.1,937.1 660.3,936.1 660.4,935.1 660.5,934.1 660.6,933.1 660.8,932.1 660.9,931.1 661.0,930.1 661.1,929.1 661.2,928.1 661.2,927.1 661.3,926.1 661.4,925.1 661.5,924.1 661.5,923.1 661.6,922.1 661.7,921.1 661.8,920.1 661.9,919.1 661.9,918.1 662.0,917.1 662.1,916.1 662.2,915.1 662.3,914.1 662.3,913.1 662.4,912.1 662.5,911.1 662.6,910.1 662.6,909.1 662.7,908.1 662.8,907.1 662.9,906.1 663.0,905.1 663.0,904.1 663.1,903.1 663.2,902.1 663.3,901.1 663.5,900.1 663.6,899.1 663.7,898.1 663.8,897.1 664.0,896.1 664.1,895.1 664.2,894.1 664.3,893.1 664.4,892.1 664.5,891.1 664.6,890.1 664.7,889.1 664.8,888.1 664.9,887.1 665.0,886.1 665.1,885.1 665.2,884.1 665.3,883.1 665.4,882.1 665.5,881.1 665.6,880.1 665.7,879.1 665.7,878.1 665.8,877.1 665.8,876.1 665.9,875.1 665.9,874.1 666.0,873.1 666.0,872.1 666.0,871.1 666.0,870.1 666.1,869.1 666.1,868.1 666.1,867.1 666.1,866.1 666.2,865.1 666.2,864.1 666.2,863.1 666.3,862.1 666.3,861.1 666.3,860.1 666.3,859.1 666.3,858.1 666.4,857.1 666.4,856.1Z" fill="#5D8393" fill-opacity="0.5"/>
<line x1="361.4" y1="986.2" x2="361.4" y2="1254.1" stroke="#000" stroke-opacity="0.78" stroke-width="1.3"/>
<rect x="327.6" y="1074.4" width="67.3" height="97.4" fill="#fff" stroke="#111" stroke-width="1.4"/>
<line x1="327.6" y1="1113" x2="394.9" y2="1113" stroke="#000" stroke-width="3"/>
<line x1="666.4" y1="975.9" x2="666.4" y2="1244.3" stroke="#000" stroke-opacity="0.78" stroke-width="1.3"/>
<rect x="632.7" y="1086.3" width="67.5" height="83.6" fill="#fff" stroke="#111" stroke-width="1.4"/>
<line x1="632.7" y1="1125.5" x2="700.2" y2="1125.5" stroke="#000" stroke-width="3"/>
<g fill="#000"><circle cx="367.1" cy="902.2" r="2.5"/><circle cx="356.2" cy="986.4" r="2.5"/><circle cx="387.6" cy="995.8" r="2.5"/><circle cx="356.7" cy="1028.3" r="2.5"/><circle cx="420.3" cy="1034.3" r="2.5"/><circle cx="399.2" cy="1051.4" r="2.5"/><circle cx="309.6" cy="1056.1" r="2.5"/><circle cx="395.8" cy="1059.3" r="2.5"/><circle cx="353.0" cy="1061.7" r="2.5"/><circle cx="324.6" cy="1074.1" r="2.5"/><circle cx="357.9" cy="1082.2" r="2.5"/><circle cx="416.3" cy="1083.5" r="2.5"/><circle cx="316.1" cy="1088.9" r="2.5"/><circle cx="282.5" cy="1091.8" r="2.5"/><circle cx="457.7" cy="1091.8" r="2.5"/><circle cx="366.1" cy="1098.3" r="2.5"/><circle cx="278.0" cy="1110.7" r="2.5"/><circle cx="430.0" cy="1112.4" r="2.5"/><circle cx="371.8" cy="1113.6" r="2.5"/><circle cx="298.7" cy="1124.1" r="2.5"/><circle cx="375.5" cy="1131.6" r="2.5"/><circle cx="459.7" cy="1133.9" r="2.5"/><circle cx="341.7" cy="1139.3" r="2.5"/><circle cx="378.7" cy="1150.2" r="2.5"/><circle cx="427.8" cy="1158.1" r="2.5"/><circle cx="334.2" cy="1159.4" r="2.5"/><circle cx="375.5" cy="1159.0" r="2.5"/><circle cx="383.4" cy="1171.8" r="2.5"/><circle cx="400.3" cy="1181.8" r="2.5"/><circle cx="345.3" cy="1189.1" r="2.5"/><circle cx="383.2" cy="1189.1" r="2.5"/><circle cx="352.0" cy="1192.3" r="2.5"/><circle cx="315.2" cy="1195.9" r="2.5"/><circle cx="422.3" cy="1198.9" r="2.5"/><circle cx="380.8" cy="1202.1" r="2.5"/><circle cx="369.1" cy="1214.3" r="2.5"/><circle cx="374.6" cy="1254.1" r="2.5"/></g>
<g fill="#000"><circle cx="665.2" cy="922.3" r="2.5"/><circle cx="675.8" cy="975.8" r="2.5"/><circle cx="678.3" cy="977.2" r="2.5"/><circle cx="671.6" cy="989.9" r="2.5"/><circle cx="672.3" cy="998.7" r="2.5"/><circle cx="638.3" cy="1019.0" r="2.5"/><circle cx="695.3" cy="1018.6" r="2.5"/><circle cx="648.1" cy="1029.2" r="2.5"/><circle cx="662.3" cy="1031.2" r="2.5"/><circle cx="695.1" cy="1033.0" r="2.5"/><circle cx="631.1" cy="1044.3" r="2.5"/><circle cx="674.9" cy="1043.4" r="2.5"/><circle cx="600.8" cy="1060.7" r="2.5"/><circle cx="631.8" cy="1065.7" r="2.5"/><circle cx="676.1" cy="1070.7" r="2.5"/><circle cx="730.5" cy="1069.6" r="2.5"/><circle cx="748.1" cy="1074.3" r="2.5"/><circle cx="668.2" cy="1075.5" r="2.5"/><circle cx="668.4" cy="1080.0" r="2.5"/><circle cx="728.3" cy="1077.5" r="2.5"/><circle cx="642.9" cy="1081.4" r="2.5"/><circle cx="701.6" cy="1083.4" r="2.5"/><circle cx="579.7" cy="1083.4" r="2.5"/><circle cx="579.7" cy="1085.5" r="2.5"/><circle cx="614.9" cy="1085.5" r="2.5"/><circle cx="752.8" cy="1087.8" r="2.5"/><circle cx="623.8" cy="1090.3" r="2.5"/><circle cx="673.6" cy="1095.7" r="2.5"/><circle cx="573.3" cy="1097.6" r="2.5"/><circle cx="738.3" cy="1097.1" r="2.5"/><circle cx="545.1" cy="1100.7" r="2.5"/><circle cx="531.2" cy="1103.2" r="2.5"/><circle cx="595.8" cy="1103.9" r="2.5"/><circle cx="769.0" cy="1103.0" r="2.5"/><circle cx="795.9" cy="1103.5" r="2.5"/><circle cx="663.9" cy="1105.7" r="2.5"/><circle cx="520.7" cy="1111.0" r="2.5"/><circle cx="598.5" cy="1111.9" r="2.5"/><circle cx="634.3" cy="1112.6" r="2.5"/><circle cx="811.3" cy="1111.7" r="2.5"/><circle cx="667.3" cy="1113.7" r="2.5"/><circle cx="616.8" cy="1115.1" r="2.5"/><circle cx="777.7" cy="1117.8" r="2.5"/><circle cx="741.0" cy="1120.1" r="2.5"/><circle cx="770.8" cy="1121.2" r="2.5"/><circle cx="614.0" cy="1122.6" r="2.5"/><circle cx="638.6" cy="1122.8" r="2.5"/><circle cx="661.6" cy="1124.0" r="2.5"/><circle cx="531.9" cy="1124.6" r="2.5"/><circle cx="597.9" cy="1126.2" r="2.5"/><circle cx="664.5" cy="1127.4" r="2.5"/><circle cx="666.8" cy="1127.8" r="2.5"/><circle cx="690.3" cy="1127.4" r="2.5"/><circle cx="716.0" cy="1131.2" r="2.5"/><circle cx="544.6" cy="1132.6" r="2.5"/><circle cx="587.8" cy="1132.4" r="2.5"/><circle cx="746.0" cy="1132.4" r="2.5"/><circle cx="733.5" cy="1134.4" r="2.5"/><circle cx="741.2" cy="1134.6" r="2.5"/><circle cx="781.3" cy="1132.8" r="2.5"/><circle cx="687.3" cy="1136.2" r="2.5"/><circle cx="638.1" cy="1137.8" r="2.5"/><circle cx="642.5" cy="1141.2" r="2.5"/><circle cx="603.6" cy="1147.8" r="2.5"/><circle cx="591.7" cy="1152.2" r="2.5"/><circle cx="596.5" cy="1151.9" r="2.5"/><circle cx="775.6" cy="1152.9" r="2.5"/><circle cx="737.6" cy="1156.3" r="2.5"/><circle cx="690.9" cy="1158.3" r="2.5"/><circle cx="636.5" cy="1159.2" r="2.5"/><circle cx="761.7" cy="1160.1" r="2.5"/><circle cx="659.3" cy="1164.5" r="2.5"/><circle cx="564.6" cy="1170.2" r="2.5"/><circle cx="756.0" cy="1169.7" r="2.5"/><circle cx="707.8" cy="1173.1" r="2.5"/><circle cx="587.6" cy="1175.2" r="2.5"/><circle cx="730.8" cy="1181.5" r="2.5"/><circle cx="737.8" cy="1182.9" r="2.5"/><circle cx="703.5" cy="1182.4" r="2.5"/><circle cx="705.5" cy="1184.5" r="2.5"/><circle cx="586.7" cy="1183.8" r="2.5"/><circle cx="744.4" cy="1185.2" r="2.5"/><circle cx="616.1" cy="1191.3" r="2.5"/><circle cx="626.8" cy="1194.3" r="2.5"/><circle cx="734.4" cy="1192.9" r="2.5"/><circle cx="728.5" cy="1195.4" r="2.5"/><circle cx="736.2" cy="1201.3" r="2.5"/><circle cx="694.6" cy="1200.9" r="2.5"/><circle cx="680.9" cy="1203.4" r="2.5"/><circle cx="615.4" cy="1205.9" r="2.5"/><circle cx="643.4" cy="1211.6" r="2.5"/><circle cx="698.7" cy="1224.3" r="2.5"/><circle cx="692.3" cy="1226.8" r="2.5"/><circle cx="668.0" cy="1230.9" r="2.5"/><circle cx="642.9" cy="1236.4" r="2.5"/><circle cx="681.8" cy="1242.7" r="2.5"/><circle cx="650.0" cy="1244.6" r="2.5"/><circle cx="662.7" cy="1309.7" r="2.5"/></g>
<path d="M108.1,901.0 V1406.4 H942.4" fill="none" stroke="#111" stroke-width="1.3"/>
<line x1="100.39999999999999" y1="901.7" x2="108.1" y2="901.7" stroke="#111" stroke-width="1.3"/>
<text x="94.7" y="909.7" font-size="23.3" text-anchor="end" font-weight="normal" >3035</text>
<line x1="100.39999999999999" y1="1083" x2="108.1" y2="1083" stroke="#111" stroke-width="1.3"/>
<text x="94.7" y="1091.0" font-size="23.3" text-anchor="end" font-weight="normal" >235</text>
<line x1="100.39999999999999" y1="1125.4" x2="108.1" y2="1125.4" stroke="#111" stroke-width="1.3"/>
<text x="94.7" y="1133.4" font-size="23.3" text-anchor="end" font-weight="normal" >130</text>
<line x1="100.39999999999999" y1="1166.5" x2="108.1" y2="1166.5" stroke="#111" stroke-width="1.3"/>
<text x="94.7" y="1174.5" font-size="23.3" text-anchor="end" font-weight="normal" >70</text>
<line x1="100.39999999999999" y1="1304.5" x2="108.1" y2="1304.5" stroke="#111" stroke-width="1.3"/>
<text x="94.7" y="1312.5" font-size="23.3" text-anchor="end" font-weight="normal" >10</text>
<rect x="8.3" y="807.2" width="37.2" height="36.6" fill="#fff" stroke="#333" stroke-width="1.2"/>
<text x="27.1" y="833.2" font-size="22.8" text-anchor="middle" font-weight="bold" textLength="14.0" lengthAdjust="spacingAndGlyphs" stroke="#111" stroke-width="0.55">C</text>
<text x="58.3" y="834.5" font-size="25.8" text-anchor="start" font-weight="normal" textLength="106.3" lengthAdjust="spacingAndGlyphs" >IL-8 level</text>
<text x="31.3" y="1194" font-size="25.8" text-anchor="start" font-weight="normal" textLength="132.3" lengthAdjust="spacingAndGlyphs" transform="rotate(-90 31.3 1194)" >IL-8, pg/mL</text>
<text x="318" y="1444.3" font-size="25.8" text-anchor="start" font-weight="normal" textLength="87.3" lengthAdjust="spacingAndGlyphs" >Placebo</text>
<text x="616" y="1444.3" font-size="25.8" text-anchor="start" font-weight="normal" textLength="86" lengthAdjust="spacingAndGlyphs" >CN-105</text>
</g>
<g id="panelD">
<line x1="1103.8" y1="901.7" x2="1934.7" y2="901.7" stroke="#d8d8d8" stroke-width="2"/>
<line x1="1103.8" y1="1230" x2="1934.7" y2="1230" stroke="#d8d8d8" stroke-width="2"/>
<line x1="1103.8" y1="1283.7" x2="1934.7" y2="1283.7" stroke="#d8d8d8" stroke-width="2"/>
<line x1="1103.8" y1="1297.8" x2="1934.7" y2="1297.8" stroke="#d8d8d8" stroke-width="2"/>
<line x1="1103.8" y1="1321.6" x2="1934.7" y2="1321.6" stroke="#d8d8d8" stroke-width="2"/>
<path d="M1372.2,879.0 1372.2,880.0 1372.3,881.0 1372.3,882.0 1372.3,883.0 1372.4,884.0 1372.4,885.0 1372.4,886.0 1372.5,887.0 1372.5,888.0 1372.6,889.0 1372.6,890.0 1372.7,891.0 1372.7,892.0 1372.8,893.0 1372.9,894.0 1372.9,895.0 1373.0,896.0 1373.1,897.0 1373.2,898.0 1373.4,899.0 1373.5,900.0 1373.7,901.0 1373.8,902.0 1374.0,903.0 1374.2,904.0 1374.4,905.0 1374.7,906.0 1375.0,907.0 1375.3,908.0 1375.6,909.0 1375.9,910.0 1376.3,911.0 1376.6,912.0 1377.0,913.0 1377.4,914.0 1377.8,915.0 1378.2,916.0 1378.6,917.0 1379.0,918.0 1379.4,919.0 1379.8,920.0 1380.2,921.0 1380.6,922.0 1381.0,923.0 1381.3,924.0 1381.7,925.0 1382.0,926.0 1382.3,927.0 1382.6,928.0 1382.9,929.0 1383.1,930.0 1383.4,931.0 1383.6,932.0 1383.8,933.0 1384.0,934.0 1384.1,935.0 1384.2,936.0 1384.3,937.0 1384.4,938.0 1384.4,939.0 1384.5,940.0 1384.5,941.0 1384.6,942.0 1384.6,943.0 1384.6,944.0 1384.6,945.0 1384.5,946.0 1384.4,947.0 1384.3,948.0 1384.2,949.0 1384.1,950.0 1383.9,951.0 1383.8,952.0 1383.7,953.0 1383.5,954.0 1383.4,955.0 1383.2,956.0 1383.0,957.0 1382.9,958.0 1382.7,959.0 1382.6,960.0 1382.5,961.0 1382.4,962.0 1382.2,963.0 1382.1,964.0 1382.0,965.0 1381.9,966.0 1381.8,967.0 1381.8,968.0 1381.8,969.0 1381.8,970.0 1381.9,971.0 1381.9,972.0 1382.0,973.0 1382.1,974.0 1382.1,975.0 1382.2,976.0 1382.3,977.0 1382.5,978.0 1382.6,979.0 1382.8,980.0 1383.1,981.0 1383.3,982.0 1383.6,983.0 1383.8,984.0 1384.1,985.0 1384.4,986.0 1384.7,987.0 1385.1,988.0 1385.5,989.0 1385.9,990.0 1386.2,991.0 1386.6,992.0 1387.0,993.0 1387.4,994.0 1387.8,995.0 1388.2,996.0 1388.6,997.0 1389.0,998.0 1389.4,999.0 1389.8,1000.0 1390.2,1001.0 1390.5,1002.0 1390.9,1003.0 1391.3,1004.0 1391.6,1005.0 1391.9,1006.0 1392.3,1007.0 1392.6,1008.0 1392.9,1009.0 1393.2,1010.0 1393.5,1011.0 1393.8,1012.0 1394.1,1013.0 1394.3,1014.0 1394.6,1015.0 1394.9,1016.0 1395.1,1017.0 1395.4,1018.0 1395.6,1019.0 1395.8,1020.0 1396.0,1021.0 1396.3,1022.0 1396.5,1023.0 1396.7,1024.0 1396.9,1025.0 1397.1,1026.0 1397.3,1027.0 1397.4,1028.0 1397.6,1029.0 1397.6,1030.0 1397.6,1031.0 1397.7,1032.0 1397.7,1033.0 1397.7,1034.0 1397.8,1035.0 1397.8,1036.0 1397.8,1037.0 1397.8,1038.0 1397.8,1039.0 1397.8,1040.0 1397.8,1041.0 1397.7,1042.0 1397.6,1043.0 1397.5,1044.0 1397.3,1045.0 1397.1,1046.0 1396.9,1047.0 1396.7,1048.0 1396.4,1049.0 1396.2,1050.0 1396.0,1051.0 1395.7,1052.0 1395.3,1053.0 1394.9,1054.0 1394.5,1055.0 1394.1,1056.0 1393.6,1057.0 1393.2,1058.0 1392.7,1059.0 1392.2,1060.0 1391.7,1061.0 1391.2,1062.0 1390.7,1063.0 1390.1,1064.0 1389.6,1065.0 1389.0,1066.0 1388.4,1067.0 1387.8,1068.0 1387.2,1069.0 1386.6,1070.0 1386.0,1071.0 1385.4,1072.0 1384.8,1073.0 1384.2,1074.0 1383.6,1075.0 1382.9,1076.0 1382.3,1077.0 1381.7,1078.0 1381.2,1079.0 1380.6,1080.0 1380.1,1081.0 1379.5,1082.0 1379.0,1083.0 1378.5,1084.0 1377.9,1085.0 1377.5,1086.0 1377.0,1087.0 1376.6,1088.0 1376.2,1089.0 1375.8,1090.0 1375.5,1091.0 1375.2,1092.0 1374.9,1093.0 1374.6,1094.0 1374.4,1095.0 1374.1,1096.0 1373.9,1097.0 1373.7,1098.0 1373.5,1099.0 1373.4,1100.0 1373.3,1101.0 1373.2,1102.0 1373.1,1103.0 1373.0,1104.0 1372.9,1105.0 1372.9,1106.0 1372.8,1107.0 1372.7,1108.0 1372.7,1109.0 1372.7,1110.0 1372.6,1111.0 1372.6,1112.0 1372.5,1113.0 1372.5,1114.0 1372.5,1115.0 1372.4,1116.0 1372.4,1117.0 1372.4,1118.0 1372.4,1119.0 1372.4,1120.0 1372.4,1121.0 1372.4,1122.0 1372.4,1123.0 1372.4,1124.0 1372.4,1125.0 1372.4,1126.0 1372.4,1127.0 1372.4,1128.0 1372.4,1129.0 1372.4,1130.0 1372.4,1131.0 1372.4,1132.0 1372.4,1133.0 1372.4,1134.0 1372.4,1135.0 1372.4,1136.0 1372.4,1137.0 1372.4,1138.0 1372.4,1139.0 1372.4,1140.0 1372.4,1141.0 1372.4,1142.0 1372.4,1143.0 1372.4,1144.0 1372.4,1145.0 1372.4,1146.0 1372.4,1147.0 1372.4,1148.0 1372.4,1149.0 1372.4,1150.0 1372.4,1151.0 1372.4,1152.0 1372.4,1153.0 1372.4,1154.0 1372.4,1155.0 1372.4,1156.0 1372.4,1157.0 1372.4,1158.0 1372.4,1159.0 1372.4,1160.0 1372.4,1161.0 1372.5,1162.0 1372.5,1163.0 1372.5,1164.0 1372.6,1165.0 1372.6,1166.0 1372.6,1167.0 1372.7,1168.0 1372.7,1169.0 1372.8,1170.0 1372.8,1171.0 1372.9,1172.0 1372.9,1173.0 1373.0,1174.0 1373.1,1175.0 1373.2,1176.0 1373.3,1177.0 1373.4,1178.0 1373.5,1179.0 1373.7,1180.0 1374.0,1181.0 1374.3,1182.0 1374.6,1183.0 1374.8,1184.0 1375.1,1185.0 1375.4,1186.0 1375.6,1187.0 1375.7,1188.0 1375.9,1189.0 1376.0,1190.0 1376.1,1191.0 1376.2,1192.0 1376.2,1193.0 1376.3,1194.0 1376.4,1195.0 1376.5,1196.0 1376.6,1197.0 1376.7,1198.0 1376.8,1199.0 1377.0,1200.0 1377.3,1201.0 1377.7,1202.0 1378.2,1203.0 1378.7,1204.0 1379.3,1205.0 1379.7,1206.0 1380.2,1207.0 1380.7,1208.0 1381.2,1209.0 1381.7,1210.0 1382.2,1211.0 1382.8,1212.0 1383.4,1213.0 1384.0,1214.0 1384.6,1215.0 1385.2,1216.0 1385.9,1217.0 1386.5,1218.0 1387.2,1219.0 1387.9,1220.0 1388.6,1221.0 1389.3,1222.0 1390.1,1223.0 1390.8,1224.0 1391.6,1225.0 1392.4,1226.0 1393.3,1227.0 1394.2,1228.0 1395.1,1229.0 1396.1,1230.0 1397.1,1231.0 1398.1,1232.0 1399.2,1233.0 1400.3,1234.0 1401.5,1235.0 1402.6,1236.0 1403.9,1237.0 1405.2,1238.0 1406.6,1239.0 1408.0,1240.0 1409.5,1241.0 1411.2,1242.0 1412.8,1243.0 1414.6,1244.0 1416.5,1245.0 1418.6,1246.0 1420.8,1247.0 1423.0,1248.0 1425.3,1249.0 1427.6,1250.0 1430.0,1251.0 1432.4,1252.0 1434.8,1253.0 1437.3,1254.0 1439.7,1255.0 1442.1,1256.0 1444.6,1257.0 1447.0,1258.0 1449.4,1259.0 1451.8,1260.0 1454.1,1261.0 1456.4,1262.0 1458.6,1263.0 1460.8,1264.0 1463.0,1265.0 1465.2,1266.0 1467.3,1267.0 1469.4,1268.0 1471.5,1269.0 1473.6,1270.0 1475.7,1271.0 1477.7,1272.0 1479.8,1273.0 1481.9,1274.0 1483.9,1275.0 1485.9,1276.0 1487.8,1277.0 1489.7,1278.0 1491.7,1279.0 1493.5,1280.0 1495.3,1281.0 1496.9,1282.0 1498.4,1283.0 1499.8,1284.0 1501.1,1285.0 1502.3,1286.0 1503.3,1287.0 1504.1,1288.0 1504.6,1289.0 1505.0,1290.0 1505.3,1291.0 1505.3,1292.0 1505.1,1293.0 1504.7,1294.0 1504.2,1295.0 1503.3,1296.0 1502.1,1297.0 1500.7,1298.0 1499.1,1299.0 1497.4,1300.0 1495.4,1301.0 1493.2,1302.0 1490.9,1303.0 1488.4,1304.0 1486.0,1305.0 1483.5,1306.0 1481.0,1307.0 1478.3,1308.0 1475.6,1309.0 1473.0,1310.0 1470.4,1311.0 1467.9,1312.0 1465.3,1313.0 1462.8,1314.0 1460.2,1315.0 1457.5,1316.0 1454.8,1317.0 1452.0,1318.0 1449.1,1319.0 1446.3,1320.0 1443.5,1321.0 1440.8,1322.0 1438.1,1323.0 1435.5,1324.0 1432.9,1325.0 1430.3,1326.0 1427.8,1327.0 1425.3,1328.0 1422.8,1329.0 1420.4,1330.0 1418.1,1331.0 1415.7,1332.0 1413.4,1333.0 1411.1,1334.0 1408.9,1335.0 1406.7,1336.0 1404.6,1337.0 1402.5,1338.0 1400.6,1339.0 1398.7,1340.0 1396.8,1341.0 1395.1,1342.0 1393.4,1343.0 1391.7,1344.0 1390.1,1345.0 1388.6,1346.0 1387.1,1347.0 1385.7,1348.0 1384.4,1349.0 1383.2,1350.0 1382.0,1351.0 1380.8,1352.0 1379.8,1353.0 1378.8,1354.0 1378.0,1355.0 1377.2,1356.0 1376.5,1357.0 1375.8,1358.0 1375.2,1359.0 1374.8,1360.0 1374.5,1361.0 1374.2,1362.0 1374.0,1363.0 1373.7,1364.0 1373.6,1365.0 1373.4,1366.0 1373.3,1367.0 1373.2,1368.0 1373.0,1369.0 1372.9,1370.0 1372.9,1371.0 1372.8,1372.0 1372.7,1373.0 1372.6,1374.0 1372.6,1375.0 1372.5,1376.0 1372.5,1377.0 1372.4,1378.0 1372.4,1379.0 1372.3,1380.0 1372.3,1381.0 1372.2,1382.0 1372.2,1383.0 1372.2,1383.6 1372.2,1383.6 1372.2,1383.0 1372.2,1382.0 1372.1,1381.0 1372.1,1380.0 1372.1,1379.0 1372.0,1378.0 1372.0,1377.0 1371.9,1376.0 1371.8,1375.0 1371.8,1374.0 1371.7,1373.0 1371.6,1372.0 1371.6,1371.0 1371.5,1370.0 1371.4,1369.0 1371.3,1368.0 1371.1,1367.0 1371.0,1366.0 1370.9,1365.0 1370.7,1364.0 1370.5,1363.0 1370.2,1362.0 1369.9,1361.0 1369.6,1360.0 1369.2,1359.0 1368.6,1358.0 1368.0,1357.0 1367.2,1356.0 1366.4,1355.0 1365.6,1354.0 1364.6,1353.0 1363.6,1352.0 1362.5,1351.0 1361.3,1350.0 1360.0,1349.0 1358.7,1348.0 1357.3,1347.0 1355.8,1346.0 1354.3,1345.0 1352.7,1344.0 1351.1,1343.0 1349.4,1342.0 1347.6,1341.0 1345.8,1340.0 1343.9,1339.0 1341.9,1338.0 1339.9,1337.0 1337.7,1336.0 1335.5,1335.0 1333.3,1334.0 1331.0,1333.0 1328.7,1332.0 1326.4,1331.0 1324.0,1330.0 1321.6,1329.0 1319.1,1328.0 1316.7,1327.0 1314.1,1326.0 1311.6,1325.0 1309.0,1324.0 1306.3,1323.0 1303.6,1322.0 1300.9,1321.0 1298.1,1320.0 1295.3,1319.0 1292.4,1318.0 1289.6,1317.0 1286.9,1316.0 1284.2,1315.0 1281.6,1314.0 1279.1,1313.0 1276.6,1312.0 1274.0,1311.0 1271.4,1310.0 1268.8,1309.0 1266.1,1308.0 1263.5,1307.0 1260.9,1306.0 1258.4,1305.0 1256.0,1304.0 1253.6,1303.0 1251.2,1302.0 1249.0,1301.0 1247.0,1300.0 1245.3,1299.0 1243.7,1298.0 1242.3,1297.0 1241.1,1296.0 1240.3,1295.0 1239.8,1294.0 1239.4,1293.0 1239.1,1292.0 1239.2,1291.0 1239.4,1290.0 1239.9,1289.0 1240.4,1288.0 1241.1,1287.0 1242.1,1286.0 1243.3,1285.0 1244.7,1284.0 1246.0,1283.0 1247.5,1282.0 1249.1,1281.0 1250.9,1280.0 1252.8,1279.0 1254.7,1278.0 1256.6,1277.0 1258.5,1276.0 1260.5,1275.0 1262.6,1274.0 1264.6,1273.0 1266.7,1272.0 1268.8,1271.0 1270.8,1270.0 1272.9,1269.0 1275.0,1268.0 1277.1,1267.0 1279.2,1266.0 1281.4,1265.0 1283.6,1264.0 1285.8,1263.0 1288.0,1262.0 1290.3,1261.0 1292.6,1260.0 1295.0,1259.0 1297.4,1258.0 1299.8,1257.0 1302.3,1256.0 1304.7,1255.0 1307.1,1254.0 1309.6,1253.0 1312.1,1252.0 1314.5,1251.0 1316.8,1250.0 1319.1,1249.0 1321.4,1248.0 1323.7,1247.0 1325.8,1246.0 1327.9,1245.0 1329.8,1244.0 1331.6,1243.0 1333.3,1242.0 1334.9,1241.0 1336.4,1240.0 1337.9,1239.0 1339.2,1238.0 1340.5,1237.0 1341.8,1236.0 1343.0,1235.0 1344.1,1234.0 1345.2,1233.0 1346.3,1232.0 1347.3,1231.0 1348.4,1230.0 1349.3,1229.0 1350.3,1228.0 1351.1,1227.0 1352.0,1226.0 1352.8,1225.0 1353.6,1224.0 1354.3,1223.0 1355.1,1222.0 1355.8,1221.0 1356.5,1220.0 1357.2,1219.0 1357.9,1218.0 1358.6,1217.0 1359.2,1216.0 1359.8,1215.0 1360.5,1214.0 1361.1,1213.0 1361.7,1212.0 1362.2,1211.0 1362.7,1210.0 1363.2,1209.0 1363.7,1208.0 1364.2,1207.0 1364.7,1206.0 1365.2,1205.0 1365.7,1204.0 1366.2,1203.0 1366.7,1202.0 1367.1,1201.0 1367.4,1200.0 1367.6,1199.0 1367.7,1198.0 1367.8,1197.0 1368.0,1196.0 1368.0,1195.0 1368.1,1194.0 1368.2,1193.0 1368.3,1192.0 1368.4,1191.0 1368.4,1190.0 1368.5,1189.0 1368.7,1188.0 1368.8,1187.0 1369.0,1186.0 1369.3,1185.0 1369.6,1184.0 1369.9,1183.0 1370.2,1182.0 1370.4,1181.0 1370.7,1180.0 1370.9,1179.0 1371.0,1178.0 1371.2,1177.0 1371.2,1176.0 1371.3,1175.0 1371.4,1174.0 1371.5,1173.0 1371.5,1172.0 1371.6,1171.0 1371.7,1170.0 1371.7,1169.0 1371.7,1168.0 1371.8,1167.0 1371.8,1166.0 1371.9,1165.0 1371.9,1164.0 1371.9,1163.0 1372.0,1162.0 1372.0,1161.0 1372.0,1160.0 1372.0,1159.0 1372.0,1158.0 1372.0,1157.0 1372.0,1156.0 1372.0,1155.0 1372.0,1154.0 1372.0,1153.0 1372.0,1152.0 1372.0,1151.0 1372.0,1150.0 1372.0,1149.0 1372.1,1148.0 1372.1,1147.0 1372.1,1146.0 1372.1,1145.0 1372.1,1144.0 1372.1,1143.0 1372.1,1142.0 1372.1,1141.0 1372.1,1140.0 1372.1,1139.0 1372.1,1138.0 1372.1,1137.0 1372.1,1136.0 1372.1,1135.0 1372.1,1134.0 1372.1,1133.0 1372.1,1132.0 1372.0,1131.0 1372.0,1130.0 1372.0,1129.0 1372.0,1128.0 1372.0,1127.0 1372.0,1126.0 1372.0,1125.0 1372.0,1124.0 1372.0,1123.0 1372.0,1122.0 1372.0,1121.0 1372.0,1120.0 1372.0,1119.0 1372.0,1118.0 1372.0,1117.0 1372.0,1116.0 1372.0,1115.0 1371.9,1114.0 1371.9,1113.0 1371.9,1112.0 1371.8,1111.0 1371.8,1110.0 1371.7,1109.0 1371.7,1108.0 1371.6,1107.0 1371.6,1106.0 1371.5,1105.0 1371.4,1104.0 1371.3,1103.0 1371.2,1102.0 1371.1,1101.0 1371.0,1100.0 1370.9,1099.0 1370.7,1098.0 1370.5,1097.0 1370.3,1096.0 1370.1,1095.0 1369.8,1094.0 1369.5,1093.0 1369.2,1092.0 1368.9,1091.0 1368.6,1090.0 1368.3,1089.0 1367.9,1088.0 1367.4,1087.0 1367.0,1086.0 1366.5,1085.0 1366.0,1084.0 1365.4,1083.0 1364.9,1082.0 1364.4,1081.0 1363.8,1080.0 1363.3,1079.0 1362.7,1078.0 1362.1,1077.0 1361.5,1076.0 1360.9,1075.0 1360.2,1074.0 1359.6,1073.0 1359.0,1072.0 1358.4,1071.0 1357.8,1070.0 1357.2,1069.0 1356.6,1068.0 1356.0,1067.0 1355.5,1066.0 1354.9,1065.0 1354.3,1064.0 1353.7,1063.0 1353.2,1062.0 1352.7,1061.0 1352.2,1060.0 1351.7,1059.0 1351.3,1058.0 1350.8,1057.0 1350.4,1056.0 1349.9,1055.0 1349.5,1054.0 1349.1,1053.0 1348.8,1052.0 1348.5,1051.0 1348.2,1050.0 1348.0,1049.0 1347.8,1048.0 1347.5,1047.0 1347.3,1046.0 1347.1,1045.0 1347.0,1044.0 1346.8,1043.0 1346.7,1042.0 1346.6,1041.0 1346.6,1040.0 1346.6,1039.0 1346.6,1038.0 1346.6,1037.0 1346.6,1036.0 1346.7,1035.0 1346.7,1034.0 1346.7,1033.0 1346.7,1032.0 1346.8,1031.0 1346.8,1030.0 1346.9,1029.0 1347.0,1028.0 1347.1,1027.0 1347.3,1026.0 1347.5,1025.0 1347.7,1024.0 1347.9,1023.0 1348.2,1022.0 1348.4,1021.0 1348.6,1020.0 1348.8,1019.0 1349.1,1018.0 1349.3,1017.0 1349.6,1016.0 1349.8,1015.0 1350.1,1014.0 1350.4,1013.0 1350.6,1012.0 1350.9,1011.0 1351.2,1010.0 1351.5,1009.0 1351.8,1008.0 1352.1,1007.0 1352.5,1006.0 1352.8,1005.0 1353.2,1004.0 1353.5,1003.0 1353.9,1002.0 1354.2,1001.0 1354.6,1000.0 1355.0,999.0 1355.4,998.0 1355.8,997.0 1356.2,996.0 1356.6,995.0 1357.0,994.0 1357.4,993.0 1357.8,992.0 1358.2,991.0 1358.6,990.0 1359.0,989.0 1359.3,988.0 1359.7,987.0 1360.0,986.0 1360.3,985.0 1360.6,984.0 1360.9,983.0 1361.1,982.0 1361.4,981.0 1361.6,980.0 1361.8,979.0 1362.0,978.0 1362.1,977.0 1362.2,976.0 1362.3,975.0 1362.4,974.0 1362.4,973.0 1362.5,972.0 1362.5,971.0 1362.6,970.0 1362.6,969.0 1362.6,968.0 1362.6,967.0 1362.5,966.0 1362.4,965.0 1362.3,964.0 1362.2,963.0 1362.1,962.0 1361.9,961.0 1361.8,960.0 1361.7,959.0 1361.5,958.0 1361.4,957.0 1361.2,956.0 1361.0,955.0 1360.9,954.0 1360.7,953.0 1360.6,952.0 1360.5,951.0 1360.4,950.0 1360.2,949.0 1360.1,948.0 1360.0,947.0 1359.9,946.0 1359.8,945.0 1359.8,944.0 1359.8,943.0 1359.8,942.0 1359.9,941.0 1359.9,940.0 1360.0,939.0 1360.1,938.0 1360.1,937.0 1360.2,936.0 1360.3,935.0 1360.5,934.0 1360.6,933.0 1360.8,932.0 1361.1,931.0 1361.3,930.0 1361.6,929.0 1361.8,928.0 1362.1,927.0 1362.4,926.0 1362.7,925.0 1363.1,924.0 1363.5,923.0 1363.9,922.0 1364.2,921.0 1364.6,920.0 1365.0,919.0 1365.4,918.0 1365.8,917.0 1366.2,916.0 1366.7,915.0 1367.1,914.0 1367.5,913.0 1367.8,912.0 1368.2,911.0 1368.5,910.0 1368.8,909.0 1369.2,908.0 1369.5,907.0 1369.7,906.0 1370.0,905.0 1370.2,904.0 1370.4,903.0 1370.6,902.0 1370.8,901.0 1370.9,900.0 1371.1,899.0 1371.2,898.0 1371.3,897.0 1371.4,896.0 1371.5,895.0 1371.6,894.0 1371.6,893.0 1371.7,892.0 1371.8,891.0 1371.8,890.0 1371.9,889.0 1371.9,888.0 1372.0,887.0 1372.0,886.0 1372.0,885.0 1372.1,884.0 1372.1,883.0 1372.1,882.0 1372.2,881.0 1372.2,880.0 1372.2,879.0Z" fill="#F6A03E" fill-opacity="0.58"/>
<path d="M1693.3,855.0 1693.3,856.0 1693.3,857.0 1693.4,858.0 1693.4,859.0 1693.4,860.0 1693.5,861.0 1693.5,862.0 1693.6,863.0 1693.6,864.0 1693.6,865.0 1693.7,866.0 1693.7,867.0 1693.8,868.0 1693.8,869.0 1693.9,870.0 1694.0,871.0 1694.0,872.0 1694.1,873.0 1694.2,874.0 1694.3,875.0 1694.4,876.0 1694.6,877.0 1694.7,878.0 1694.8,879.0 1694.9,880.0 1695.0,881.0 1695.1,882.0 1695.2,883.0 1695.4,884.0 1695.5,885.0 1695.6,886.0 1695.7,887.0 1695.9,888.0 1696.0,889.0 1696.1,890.0 1696.2,891.0 1696.3,892.0 1696.4,893.0 1696.5,894.0 1696.7,895.0 1696.8,896.0 1696.9,897.0 1697.0,898.0 1697.2,899.0 1697.3,900.0 1697.5,901.0 1697.6,902.0 1697.8,903.0 1698.0,904.0 1698.2,905.0 1698.4,906.0 1698.6,907.0 1698.8,908.0 1699.0,909.0 1699.3,910.0 1699.6,911.0 1699.9,912.0 1700.2,913.0 1700.6,914.0 1700.9,915.0 1701.3,916.0 1701.7,917.0 1702.1,918.0 1702.5,919.0 1702.9,920.0 1703.3,921.0 1703.7,922.0 1704.1,923.0 1704.5,924.0 1704.9,925.0 1705.3,926.0 1705.7,927.0 1706.1,928.0 1706.5,929.0 1706.9,930.0 1707.3,931.0 1707.6,932.0 1708.0,933.0 1708.3,934.0 1708.7,935.0 1709.0,936.0 1709.3,937.0 1709.7,938.0 1710.0,939.0 1710.3,940.0 1710.6,941.0 1710.9,942.0 1711.2,943.0 1711.5,944.0 1711.8,945.0 1712.1,946.0 1712.4,947.0 1712.7,948.0 1713.0,949.0 1713.3,950.0 1713.6,951.0 1713.9,952.0 1714.2,953.0 1714.5,954.0 1714.8,955.0 1715.1,956.0 1715.4,957.0 1715.7,958.0 1716.0,959.0 1716.3,960.0 1716.6,961.0 1716.8,962.0 1717.1,963.0 1717.4,964.0 1717.7,965.0 1717.9,966.0 1718.1,967.0 1718.4,968.0 1718.5,969.0 1718.7,970.0 1718.8,971.0 1719.0,972.0 1719.1,973.0 1719.3,974.0 1719.4,975.0 1719.5,976.0 1719.6,977.0 1719.6,978.0 1719.7,979.0 1719.7,980.0 1719.7,981.0 1719.6,982.0 1719.6,983.0 1719.5,984.0 1719.4,985.0 1719.3,986.0 1719.2,987.0 1719.1,988.0 1719.0,989.0 1718.9,990.0 1718.8,991.0 1718.6,992.0 1718.5,993.0 1718.3,994.0 1718.1,995.0 1717.8,996.0 1717.6,997.0 1717.4,998.0 1717.1,999.0 1716.9,1000.0 1716.6,1001.0 1716.4,1002.0 1716.1,1003.0 1715.7,1004.0 1715.4,1005.0 1715.1,1006.0 1714.7,1007.0 1714.4,1008.0 1714.0,1009.0 1713.7,1010.0 1713.4,1011.0 1713.0,1012.0 1712.7,1013.0 1712.4,1014.0 1712.1,1015.0 1711.7,1016.0 1711.4,1017.0 1711.0,1018.0 1710.7,1019.0 1710.3,1020.0 1709.9,1021.0 1709.5,1022.0 1709.0,1023.0 1708.5,1024.0 1708.0,1025.0 1707.6,1026.0 1707.1,1027.0 1706.6,1028.0 1706.1,1029.0 1705.7,1030.0 1705.3,1031.0 1704.8,1032.0 1704.3,1033.0 1703.9,1034.0 1703.4,1035.0 1703.0,1036.0 1702.6,1037.0 1702.2,1038.0 1701.9,1039.0 1701.7,1040.0 1701.5,1041.0 1701.3,1042.0 1701.1,1043.0 1700.9,1044.0 1700.8,1045.0 1700.6,1046.0 1700.5,1047.0 1700.4,1048.0 1700.3,1049.0 1700.3,1050.0 1700.3,1051.0 1700.2,1052.0 1700.2,1053.0 1700.2,1054.0 1700.2,1055.0 1700.2,1056.0 1700.1,1057.0 1700.1,1058.0 1700.1,1059.0 1700.1,1060.0 1700.1,1061.0 1700.1,1062.0 1700.0,1063.0 1700.0,1064.0 1700.0,1065.0 1700.0,1066.0 1700.0,1067.0 1700.0,1068.0 1699.9,1069.0 1699.9,1070.0 1699.9,1071.0 1699.8,1072.0 1699.7,1073.0 1699.6,1074.0 1699.5,1075.0 1699.4,1076.0 1699.3,1077.0 1699.1,1078.0 1699.0,1079.0 1698.9,1080.0 1698.8,1081.0 1698.7,1082.0 1698.5,1083.0 1698.4,1084.0 1698.3,1085.0 1698.2,1086.0 1698.0,1087.0 1697.9,1088.0 1697.8,1089.0 1697.7,1090.0 1697.6,1091.0 1697.5,1092.0 1697.4,1093.0 1697.4,1094.0 1697.3,1095.0 1697.2,1096.0 1697.1,1097.0 1697.1,1098.0 1697.0,1099.0 1696.9,1100.0 1696.8,1101.0 1696.7,1102.0 1696.6,1103.0 1696.5,1104.0 1696.4,1105.0 1696.4,1106.0 1696.3,1107.0 1696.2,1108.0 1696.1,1109.0 1696.1,1110.0 1696.1,1111.0 1696.0,1112.0 1696.0,1113.0 1696.0,1114.0 1695.9,1115.0 1695.9,1116.0 1695.9,1117.0 1695.9,1118.0 1695.8,1119.0 1695.8,1120.0 1695.8,1121.0 1695.7,1122.0 1695.7,1123.0 1695.6,1124.0 1695.5,1125.0 1695.5,1126.0 1695.4,1127.0 1695.3,1128.0 1695.3,1129.0 1695.2,1130.0 1695.1,1131.0 1695.0,1132.0 1695.0,1133.0 1694.9,1134.0 1694.8,1135.0 1694.7,1136.0 1694.6,1137.0 1694.6,1138.0 1694.5,1139.0 1694.4,1140.0 1694.3,1141.0 1694.3,1142.0 1694.2,1143.0 1694.1,1144.0 1694.1,1145.0 1694.0,1146.0 1694.0,1147.0 1693.9,1148.0 1693.9,1149.0 1693.8,1150.0 1693.8,1151.0 1693.8,1152.0 1693.7,1153.0 1693.7,1154.0 1693.6,1155.0 1693.6,1156.0 1693.6,1157.0 1693.6,1158.0 1693.6,1159.0 1693.6,1160.0 1693.6,1161.0 1693.6,1162.0 1693.6,1163.0 1693.6,1164.0 1693.6,1165.0 1693.6,1166.0 1693.6,1167.0 1693.6,1168.0 1693.6,1169.0 1693.6,1170.0 1693.6,1171.0 1693.6,1172.0 1693.7,1173.0 1693.7,1174.0 1693.7,1175.0 1693.8,1176.0 1693.8,1177.0 1693.9,1178.0 1693.9,1179.0 1694.0,1180.0 1694.1,1181.0 1694.2,1182.0 1694.3,1183.0 1694.4,1184.0 1694.5,1185.0 1694.6,1186.0 1694.8,1187.0 1694.9,1188.0 1695.0,1189.0 1695.1,1190.0 1695.3,1191.0 1695.4,1192.0 1695.5,1193.0 1695.7,1194.0 1695.8,1195.0 1696.0,1196.0 1696.2,1197.0 1696.4,1198.0 1696.6,1199.0 1696.9,1200.0 1697.2,1201.0 1697.7,1202.0 1698.2,1203.0 1698.8,1204.0 1699.4,1205.0 1700.0,1206.0 1700.5,1207.0 1701.1,1208.0 1701.7,1209.0 1702.3,1210.0 1702.9,1211.0 1703.6,1212.0 1704.2,1213.0 1704.9,1214.0 1705.6,1215.0 1706.3,1216.0 1707.1,1217.0 1707.8,1218.0 1708.6,1219.0 1709.4,1220.0 1710.2,1221.0 1711.1,1222.0 1711.9,1223.0 1712.7,1224.0 1713.5,1225.0 1714.3,1226.0 1715.1,1227.0 1715.9,1228.0 1716.7,1229.0 1717.4,1230.0 1718.2,1231.0 1719.0,1232.0 1719.8,1233.0 1720.6,1234.0 1721.4,1235.0 1722.3,1236.0 1723.2,1237.0 1724.2,1238.0 1725.2,1239.0 1726.3,1240.0 1727.4,1241.0 1728.6,1242.0 1729.9,1243.0 1731.3,1244.0 1732.7,1245.0 1734.2,1246.0 1735.8,1247.0 1737.4,1248.0 1739.0,1249.0 1740.8,1250.0 1742.6,1251.0 1744.6,1252.0 1746.6,1253.0 1748.8,1254.0 1751.1,1255.0 1753.6,1256.0 1756.1,1257.0 1758.6,1258.0 1761.2,1259.0 1763.9,1260.0 1766.7,1261.0 1769.5,1262.0 1772.4,1263.0 1775.2,1264.0 1778.2,1265.0 1781.1,1266.0 1784.2,1267.0 1787.2,1268.0 1790.3,1269.0 1793.3,1270.0 1796.3,1271.0 1799.3,1272.0 1802.3,1273.0 1805.2,1274.0 1808.2,1275.0 1811.2,1276.0 1814.2,1277.0 1817.3,1278.0 1820.5,1279.0 1823.5,1280.0 1826.4,1281.0 1829.1,1282.0 1831.7,1283.0 1834.3,1284.0 1836.8,1285.0 1839.1,1286.0 1841.0,1287.0 1842.4,1288.0 1843.6,1289.0 1844.6,1290.0 1845.2,1291.0 1845.3,1292.0 1845.0,1293.0 1844.6,1294.0 1843.8,1295.0 1842.5,1296.0 1840.9,1297.0 1838.9,1298.0 1836.8,1299.0 1834.6,1300.0 1831.8,1301.0 1828.5,1302.0 1824.8,1303.0 1821.0,1304.0 1817.1,1305.0 1813.5,1306.0 1809.8,1307.0 1806.1,1308.0 1802.3,1309.0 1798.4,1310.0 1794.6,1311.0 1790.8,1312.0 1786.9,1313.0 1783.0,1314.0 1779.2,1315.0 1775.3,1316.0 1771.5,1317.0 1767.8,1318.0 1764.1,1319.0 1760.5,1320.0 1756.9,1321.0 1753.4,1322.0 1750.0,1323.0 1746.8,1324.0 1743.6,1325.0 1740.5,1326.0 1737.6,1327.0 1734.7,1328.0 1732.1,1329.0 1729.6,1330.0 1727.2,1331.0 1725.0,1332.0 1722.8,1333.0 1720.8,1334.0 1718.8,1335.0 1716.9,1336.0 1715.1,1337.0 1713.4,1338.0 1711.7,1339.0 1710.2,1340.0 1708.8,1341.0 1707.4,1342.0 1706.2,1343.0 1705.0,1344.0 1703.8,1345.0 1702.8,1346.0 1701.8,1347.0 1700.9,1348.0 1700.0,1349.0 1699.2,1350.0 1698.4,1351.0 1697.7,1352.0 1697.1,1353.0 1696.6,1354.0 1696.0,1355.0 1695.6,1356.0 1695.2,1357.0 1694.9,1358.0 1694.7,1359.0 1694.5,1360.0 1694.3,1361.0 1694.2,1362.0 1694.1,1363.0 1694.0,1364.0 1693.9,1365.0 1693.8,1366.0 1693.7,1367.0 1693.6,1368.0 1693.5,1369.0 1693.5,1370.0 1693.4,1371.0 1693.3,1372.0 1693.3,1373.0 1693.3,1373.0 1693.2,1372.0 1693.2,1371.0 1693.1,1370.0 1693.1,1369.0 1693.0,1368.0 1692.9,1367.0 1692.8,1366.0 1692.7,1365.0 1692.6,1364.0 1692.5,1363.0 1692.4,1362.0 1692.3,1361.0 1692.1,1360.0 1691.9,1359.0 1691.7,1358.0 1691.4,1357.0 1691.0,1356.0 1690.5,1355.0 1690.0,1354.0 1689.4,1353.0 1688.9,1352.0 1688.2,1351.0 1687.4,1350.0 1686.6,1349.0 1685.7,1348.0 1684.8,1347.0 1683.8,1346.0 1682.8,1345.0 1681.6,1344.0 1680.4,1343.0 1679.2,1342.0 1677.8,1341.0 1676.4,1340.0 1674.9,1339.0 1673.2,1338.0 1671.5,1337.0 1669.7,1336.0 1667.8,1335.0 1665.8,1334.0 1663.8,1333.0 1661.6,1332.0 1659.4,1331.0 1657.0,1330.0 1654.5,1329.0 1651.9,1328.0 1649.0,1327.0 1646.1,1326.0 1643.0,1325.0 1639.8,1324.0 1636.6,1323.0 1633.2,1322.0 1629.7,1321.0 1626.1,1320.0 1622.5,1319.0 1618.8,1318.0 1615.1,1317.0 1611.3,1316.0 1607.4,1315.0 1603.5,1314.0 1599.7,1313.0 1595.8,1312.0 1592.0,1311.0 1588.2,1310.0 1584.3,1309.0 1580.5,1308.0 1576.8,1307.0 1573.1,1306.0 1569.5,1305.0 1565.6,1304.0 1561.8,1303.0 1558.1,1302.0 1554.8,1301.0 1552.0,1300.0 1549.8,1299.0 1547.7,1298.0 1545.7,1297.0 1544.1,1296.0 1542.8,1295.0 1542.0,1294.0 1541.6,1293.0 1541.3,1292.0 1541.4,1291.0 1542.0,1290.0 1543.0,1289.0 1544.2,1288.0 1545.6,1287.0 1547.5,1286.0 1549.7,1285.0 1552.3,1284.0 1554.9,1283.0 1557.5,1282.0 1560.2,1281.0 1563.1,1280.0 1566.1,1279.0 1569.3,1278.0 1572.4,1277.0 1575.4,1276.0 1578.4,1275.0 1581.4,1274.0 1584.3,1273.0 1587.3,1272.0 1590.3,1271.0 1593.3,1270.0 1596.3,1269.0 1599.4,1268.0 1602.4,1267.0 1605.5,1266.0 1608.4,1265.0 1611.3,1264.0 1614.2,1263.0 1617.1,1262.0 1619.9,1261.0 1622.7,1260.0 1625.4,1259.0 1627.9,1258.0 1630.5,1257.0 1633.0,1256.0 1635.5,1255.0 1637.8,1254.0 1640.0,1253.0 1642.0,1252.0 1643.9,1251.0 1645.8,1250.0 1647.6,1249.0 1649.2,1248.0 1650.8,1247.0 1652.4,1246.0 1653.9,1245.0 1655.3,1244.0 1656.7,1243.0 1658.0,1242.0 1659.2,1241.0 1660.3,1240.0 1661.4,1239.0 1662.4,1238.0 1663.4,1237.0 1664.3,1236.0 1665.2,1235.0 1666.0,1234.0 1666.8,1233.0 1667.6,1232.0 1668.4,1231.0 1669.1,1230.0 1669.9,1229.0 1670.7,1228.0 1671.5,1227.0 1672.3,1226.0 1673.1,1225.0 1673.9,1224.0 1674.7,1223.0 1675.5,1222.0 1676.4,1221.0 1677.2,1220.0 1678.0,1219.0 1678.8,1218.0 1679.5,1217.0 1680.3,1216.0 1681.0,1215.0 1681.7,1214.0 1682.3,1213.0 1683.0,1212.0 1683.6,1211.0 1684.3,1210.0 1684.9,1209.0 1685.5,1208.0 1686.1,1207.0 1686.6,1206.0 1687.2,1205.0 1687.8,1204.0 1688.4,1203.0 1688.9,1202.0 1689.4,1201.0 1689.7,1200.0 1689.9,1199.0 1690.2,1198.0 1690.4,1197.0 1690.6,1196.0 1690.8,1195.0 1690.9,1194.0 1691.1,1193.0 1691.2,1192.0 1691.3,1191.0 1691.5,1190.0 1691.6,1189.0 1691.7,1188.0 1691.8,1187.0 1691.9,1186.0 1692.1,1185.0 1692.2,1184.0 1692.3,1183.0 1692.4,1182.0 1692.5,1181.0 1692.6,1180.0 1692.7,1179.0 1692.7,1178.0 1692.8,1177.0 1692.8,1176.0 1692.8,1175.0 1692.9,1174.0 1692.9,1173.0 1693.0,1172.0 1693.0,1171.0 1693.0,1170.0 1693.0,1169.0 1693.0,1168.0 1693.0,1167.0 1693.0,1166.0 1693.0,1165.0 1693.0,1164.0 1693.0,1163.0 1693.0,1162.0 1693.0,1161.0 1693.0,1160.0 1693.0,1159.0 1693.0,1158.0 1693.0,1157.0 1693.0,1156.0 1692.9,1155.0 1692.9,1154.0 1692.9,1153.0 1692.8,1152.0 1692.8,1151.0 1692.8,1150.0 1692.7,1149.0 1692.7,1148.0 1692.6,1147.0 1692.6,1146.0 1692.5,1145.0 1692.5,1144.0 1692.4,1143.0 1692.3,1142.0 1692.3,1141.0 1692.2,1140.0 1692.1,1139.0 1692.0,1138.0 1692.0,1137.0 1691.9,1136.0 1691.8,1135.0 1691.7,1134.0 1691.6,1133.0 1691.5,1132.0 1691.5,1131.0 1691.4,1130.0 1691.3,1129.0 1691.3,1128.0 1691.2,1127.0 1691.1,1126.0 1691.1,1125.0 1691.0,1124.0 1690.9,1123.0 1690.9,1122.0 1690.8,1121.0 1690.8,1120.0 1690.8,1119.0 1690.7,1118.0 1690.7,1117.0 1690.7,1116.0 1690.6,1115.0 1690.6,1114.0 1690.6,1113.0 1690.6,1112.0 1690.5,1111.0 1690.5,1110.0 1690.4,1109.0 1690.4,1108.0 1690.3,1107.0 1690.2,1106.0 1690.1,1105.0 1690.1,1104.0 1690.0,1103.0 1689.9,1102.0 1689.8,1101.0 1689.7,1100.0 1689.6,1099.0 1689.5,1098.0 1689.5,1097.0 1689.4,1096.0 1689.3,1095.0 1689.2,1094.0 1689.2,1093.0 1689.1,1092.0 1689.0,1091.0 1688.9,1090.0 1688.8,1089.0 1688.7,1088.0 1688.6,1087.0 1688.4,1086.0 1688.3,1085.0 1688.2,1084.0 1688.1,1083.0 1687.9,1082.0 1687.8,1081.0 1687.7,1080.0 1687.6,1079.0 1687.5,1078.0 1687.3,1077.0 1687.2,1076.0 1687.1,1075.0 1687.0,1074.0 1686.9,1073.0 1686.8,1072.0 1686.7,1071.0 1686.7,1070.0 1686.7,1069.0 1686.6,1068.0 1686.6,1067.0 1686.6,1066.0 1686.6,1065.0 1686.6,1064.0 1686.5,1063.0 1686.5,1062.0 1686.5,1061.0 1686.5,1060.0 1686.5,1059.0 1686.5,1058.0 1686.4,1057.0 1686.4,1056.0 1686.4,1055.0 1686.4,1054.0 1686.4,1053.0 1686.4,1052.0 1686.3,1051.0 1686.3,1050.0 1686.2,1049.0 1686.2,1048.0 1686.1,1047.0 1686.0,1046.0 1685.8,1045.0 1685.7,1044.0 1685.5,1043.0 1685.3,1042.0 1685.1,1041.0 1684.9,1040.0 1684.7,1039.0 1684.4,1038.0 1684.0,1037.0 1683.6,1036.0 1683.2,1035.0 1682.7,1034.0 1682.3,1033.0 1681.8,1032.0 1681.3,1031.0 1680.9,1030.0 1680.5,1029.0 1680.0,1028.0 1679.5,1027.0 1679.0,1026.0 1678.6,1025.0 1678.1,1024.0 1677.6,1023.0 1677.1,1022.0 1676.7,1021.0 1676.3,1020.0 1675.9,1019.0 1675.5,1018.0 1675.2,1017.0 1674.9,1016.0 1674.5,1015.0 1674.2,1014.0 1673.9,1013.0 1673.5,1012.0 1673.2,1011.0 1672.9,1010.0 1672.6,1009.0 1672.2,1008.0 1671.9,1007.0 1671.5,1006.0 1671.2,1005.0 1670.9,1004.0 1670.5,1003.0 1670.2,1002.0 1670.0,1001.0 1669.7,1000.0 1669.5,999.0 1669.2,998.0 1669.0,997.0 1668.7,996.0 1668.5,995.0 1668.3,994.0 1668.1,993.0 1668.0,992.0 1667.8,991.0 1667.7,990.0 1667.6,989.0 1667.5,988.0 1667.4,987.0 1667.3,986.0 1667.2,985.0 1667.1,984.0 1667.0,983.0 1666.9,982.0 1666.9,981.0 1666.9,980.0 1666.9,979.0 1667.0,978.0 1667.0,977.0 1667.1,976.0 1667.2,975.0 1667.3,974.0 1667.5,973.0 1667.6,972.0 1667.8,971.0 1667.9,970.0 1668.1,969.0 1668.2,968.0 1668.5,967.0 1668.7,966.0 1668.9,965.0 1669.2,964.0 1669.5,963.0 1669.8,962.0 1670.0,961.0 1670.3,960.0 1670.6,959.0 1670.9,958.0 1671.1,957.0 1671.4,956.0 1671.8,955.0 1672.1,954.0 1672.4,953.0 1672.7,952.0 1673.0,951.0 1673.3,950.0 1673.6,949.0 1673.9,948.0 1674.2,947.0 1674.5,946.0 1674.8,945.0 1675.1,944.0 1675.4,943.0 1675.7,942.0 1676.0,941.0 1676.3,940.0 1676.6,939.0 1676.9,938.0 1677.3,937.0 1677.6,936.0 1677.9,935.0 1678.3,934.0 1678.6,933.0 1679.0,932.0 1679.3,931.0 1679.7,930.0 1680.1,929.0 1680.5,928.0 1680.9,927.0 1681.3,926.0 1681.7,925.0 1682.1,924.0 1682.5,923.0 1682.9,922.0 1683.3,921.0 1683.7,920.0 1684.1,919.0 1684.5,918.0 1684.9,917.0 1685.3,916.0 1685.6,915.0 1686.0,914.0 1686.4,913.0 1686.7,912.0 1687.0,911.0 1687.3,910.0 1687.5,909.0 1687.8,908.0 1688.0,907.0 1688.2,906.0 1688.4,905.0 1688.6,904.0 1688.8,903.0 1689.0,902.0 1689.1,901.0 1689.3,900.0 1689.4,899.0 1689.6,898.0 1689.7,897.0 1689.8,896.0 1689.9,895.0 1690.0,894.0 1690.2,893.0 1690.3,892.0 1690.4,891.0 1690.5,890.0 1690.6,889.0 1690.7,888.0 1690.9,887.0 1691.0,886.0 1691.1,885.0 1691.2,884.0 1691.4,883.0 1691.5,882.0 1691.6,881.0 1691.7,880.0 1691.8,879.0 1691.9,878.0 1692.0,877.0 1692.1,876.0 1692.3,875.0 1692.4,874.0 1692.5,873.0 1692.5,872.0 1692.6,871.0 1692.7,870.0 1692.8,869.0 1692.8,868.0 1692.9,867.0 1692.9,866.0 1693.0,865.0 1693.0,864.0 1693.0,863.0 1693.1,862.0 1693.1,861.0 1693.1,860.0 1693.2,859.0 1693.2,858.0 1693.2,857.0 1693.3,856.0 1693.3,855.0Z" fill="#5D8393" fill-opacity="0.5"/>
<line x1="1372.4" y1="1220.4" x2="1372.4" y2="1320.8" stroke="#000" stroke-opacity="0.78" stroke-width="1.3"/>
<rect x="1338.4" y="1238.4" width="68.0" height="61.6" fill="#fff" stroke="#111" stroke-width="1.4"/>
<line x1="1338.4" y1="1283.9" x2="1406.4" y2="1283.9" stroke="#000" stroke-width="3"/>
<line x1="1693.4" y1="1216" x2="1693.4" y2="1320.8" stroke="#000" stroke-opacity="0.78" stroke-width="1.3"/>
<rect x="1659.6" y="1232.4" width="68.0" height="64.3" fill="#fff" stroke="#111" stroke-width="1.4"/>
<line x1="1659.6" y1="1283.2" x2="1727.6" y2="1283.2" stroke="#000" stroke-width="3"/>
<g fill="#000"><circle cx="1366.6" cy="937.8" r="2.5"/><circle cx="1378.0" cy="951.4" r="2.5"/><circle cx="1373.6" cy="995.0" r="2.5"/><circle cx="1366.6" cy="1014.0" r="2.5"/><circle cx="1350.2" cy="1023.8" r="2.5"/><circle cx="1393.2" cy="1044.4" r="2.5"/><circle cx="1391.6" cy="1048.8" r="2.5"/><circle cx="1390.4" cy="1055.4" r="2.5"/><circle cx="1369.1" cy="1220.6" r="2.5"/><circle cx="1401.2" cy="1238.6" r="2.5"/><circle cx="1334.8" cy="1252.5" r="2.5"/><circle cx="1427.8" cy="1257.9" r="2.5"/><circle cx="1357.9" cy="1267.7" r="2.5"/><circle cx="1455.3" cy="1268.7" r="2.5"/><circle cx="1419.2" cy="1270.6" r="2.5"/><circle cx="1441.7" cy="1270.8" r="2.5"/><circle cx="1406.2" cy="1277.9" r="2.5"/><circle cx="1343.7" cy="1283.4" r="2.5"/><circle cx="1446.0" cy="1283.9" r="2.5"/><circle cx="1313.3" cy="1286.1" r="2.5"/><circle cx="1457.8" cy="1286.1" r="2.5"/><circle cx="1472.6" cy="1290.5" r="2.5"/><circle cx="1312.6" cy="1292.4" r="2.5"/><circle cx="1455.8" cy="1294.7" r="2.5"/><circle cx="1325.3" cy="1295.9" r="2.5"/><circle cx="1431.5" cy="1297.1" r="2.5"/><circle cx="1448.9" cy="1299.4" r="2.5"/><circle cx="1362.2" cy="1300.0" r="2.5"/><circle cx="1382.9" cy="1300.5" r="2.5"/><circle cx="1473.8" cy="1300.9" r="2.5"/><circle cx="1480.7" cy="1300.9" r="2.5"/><circle cx="1267.8" cy="1302.7" r="2.5"/><circle cx="1467.4" cy="1310.0" r="2.5"/><circle cx="1279.6" cy="1311.9" r="2.5"/><circle cx="1459.3" cy="1314.4" r="2.5"/><circle cx="1346.0" cy="1315.0" r="2.5"/><circle cx="1365.7" cy="1320.8" r="2.5"/></g>
<g fill="#000"><circle cx="1692.8" cy="901.2" r="2.5"/><circle cx="1691.4" cy="936.8" r="2.5"/><circle cx="1702.0" cy="937.6" r="2.5"/><circle cx="1681.2" cy="940.0" r="2.5"/><circle cx="1678.4" cy="943.6" r="2.5"/><circle cx="1684.4" cy="957.4" r="2.5"/><circle cx="1672.8" cy="961.6" r="2.5"/><circle cx="1696.8" cy="971.4" r="2.5"/><circle cx="1716.0" cy="975.0" r="2.5"/><circle cx="1680.8" cy="978.4" r="2.5"/><circle cx="1676.0" cy="981.2" r="2.5"/><circle cx="1698.2" cy="982.0" r="2.5"/><circle cx="1709.0" cy="983.8" r="2.5"/><circle cx="1669.8" cy="990.4" r="2.5"/><circle cx="1677.2" cy="997.6" r="2.5"/><circle cx="1689.4" cy="1008.0" r="2.5"/><circle cx="1687.2" cy="1009.2" r="2.5"/><circle cx="1680.8" cy="1015.2" r="2.5"/><circle cx="1679.2" cy="1020.4" r="2.5"/><circle cx="1685.6" cy="1033.0" r="2.5"/><circle cx="1689.6" cy="1065.4" r="2.5"/><circle cx="1689.0" cy="1071.6" r="2.5"/><circle cx="1691.0" cy="1114.6" r="2.5"/><circle cx="1682.2" cy="1216.2" r="2.5"/><circle cx="1703.8" cy="1232.4" r="2.5"/><circle cx="1711.7" cy="1232.8" r="2.5"/><circle cx="1708.8" cy="1239.1" r="2.5"/><circle cx="1674.3" cy="1240.3" r="2.5"/><circle cx="1667.9" cy="1243.8" r="2.5"/><circle cx="1678.7" cy="1249.0" r="2.5"/><circle cx="1661.9" cy="1254.2" r="2.5"/><circle cx="1734.9" cy="1256.1" r="2.5"/><circle cx="1732.2" cy="1257.9" r="2.5"/><circle cx="1666.0" cy="1264.8" r="2.5"/><circle cx="1661.9" cy="1267.1" r="2.5"/><circle cx="1633.9" cy="1266.4" r="2.5"/><circle cx="1729.1" cy="1264.8" r="2.5"/><circle cx="1729.7" cy="1273.1" r="2.5"/><circle cx="1715.8" cy="1275.6" r="2.5"/><circle cx="1730.5" cy="1277.4" r="2.5"/><circle cx="1700.7" cy="1279.1" r="2.5"/><circle cx="1730.5" cy="1280.6" r="2.5"/><circle cx="1709.4" cy="1282.2" r="2.5"/><circle cx="1816.8" cy="1277.8" r="2.5"/><circle cx="1775.8" cy="1280.3" r="2.5"/><circle cx="1762.3" cy="1281.8" r="2.5"/><circle cx="1649.2" cy="1280.6" r="2.5"/><circle cx="1635.3" cy="1283.4" r="2.5"/><circle cx="1827.0" cy="1283.4" r="2.5"/><circle cx="1695.7" cy="1284.3" r="2.5"/><circle cx="1738.2" cy="1284.5" r="2.5"/><circle cx="1792.3" cy="1284.5" r="2.5"/><circle cx="1727.2" cy="1285.7" r="2.5"/><circle cx="1622.0" cy="1285.9" r="2.5"/><circle cx="1665.0" cy="1286.1" r="2.5"/><circle cx="1666.4" cy="1287.6" r="2.5"/><circle cx="1619.2" cy="1288.2" r="2.5"/><circle cx="1721.0" cy="1288.8" r="2.5"/><circle cx="1672.9" cy="1289.7" r="2.5"/><circle cx="1787.0" cy="1289.5" r="2.5"/><circle cx="1808.3" cy="1289.5" r="2.5"/><circle cx="1633.0" cy="1291.1" r="2.5"/><circle cx="1608.8" cy="1291.5" r="2.5"/><circle cx="1598.2" cy="1292.6" r="2.5"/><circle cx="1600.7" cy="1293.0" r="2.5"/><circle cx="1802.5" cy="1292.8" r="2.5"/><circle cx="1573.5" cy="1294.9" r="2.5"/><circle cx="1661.0" cy="1294.7" r="2.5"/><circle cx="1779.9" cy="1294.7" r="2.5"/><circle cx="1599.7" cy="1296.5" r="2.5"/><circle cx="1651.5" cy="1296.7" r="2.5"/><circle cx="1655.9" cy="1296.5" r="2.5"/><circle cx="1729.7" cy="1296.7" r="2.5"/><circle cx="1736.8" cy="1297.4" r="2.5"/><circle cx="1749.6" cy="1296.7" r="2.5"/><circle cx="1614.4" cy="1297.3" r="2.5"/><circle cx="1806.0" cy="1299.2" r="2.5"/><circle cx="1683.7" cy="1299.6" r="2.5"/><circle cx="1715.0" cy="1299.6" r="2.5"/><circle cx="1724.9" cy="1300.5" r="2.5"/><circle cx="1636.6" cy="1300.5" r="2.5"/><circle cx="1608.4" cy="1301.5" r="2.5"/><circle cx="1767.7" cy="1300.9" r="2.5"/><circle cx="1648.4" cy="1301.9" r="2.5"/><circle cx="1681.0" cy="1301.9" r="2.5"/><circle cx="1675.8" cy="1303.6" r="2.5"/><circle cx="1782.8" cy="1304.0" r="2.5"/><circle cx="1644.7" cy="1306.3" r="2.5"/><circle cx="1723.3" cy="1306.3" r="2.5"/><circle cx="1683.7" cy="1308.6" r="2.5"/><circle cx="1759.8" cy="1310.8" r="2.5"/><circle cx="1616.9" cy="1312.5" r="2.5"/><circle cx="1656.9" cy="1313.1" r="2.5"/><circle cx="1726.8" cy="1312.3" r="2.5"/><circle cx="1739.5" cy="1314.8" r="2.5"/><circle cx="1668.5" cy="1320.8" r="2.5"/></g>
<path d="M1103.8,901.0 V1406.4 H1935.9" fill="none" stroke="#111" stroke-width="1.3"/>
<line x1="1096.1" y1="901.7" x2="1103.8" y2="901.7" stroke="#111" stroke-width="1.3"/>
<text x="1090.3" y="911.1" font-size="23.3" text-anchor="end" font-weight="normal" >2050</text>
<line x1="1096.1" y1="1230" x2="1103.8" y2="1230" stroke="#111" stroke-width="1.3"/>
<text x="1090.3" y="1239.4" font-size="23.3" text-anchor="end" font-weight="normal" >20</text><rect x="1054.2" y="1229.2" width="8" height="2.1" fill="#111"/>
<path d="M1074.2,1266 L1095.4,1283.6 H1103.8" fill="none" stroke="#222" stroke-width="1.3"/>
<path d="M1077.2,1297.9 H1103.8" fill="none" stroke="#222" stroke-width="1.3"/>
<path d="M1074.2,1338.5 L1095.4,1321.2 H1103.8" fill="none" stroke="#222" stroke-width="1.3"/>
<text x="1071" y="1273.2" font-size="23.3" text-anchor="end" font-weight="normal" >115</text><rect x="1021.9" y="1263.0" width="8" height="2.1" fill="#111"/>
<text x="1071.2" y="1307" font-size="23.3" text-anchor="end" font-weight="normal" >185</text><rect x="1022.1" y="1296.8" width="8" height="2.1" fill="#111"/>
<text x="1071" y="1348.3" font-size="23.3" text-anchor="end" font-weight="normal" >385</text><rect x="1021.9" y="1338.1" width="8" height="2.1" fill="#111"/>
<rect x="1013.5" y="807.2" width="37.2" height="36.6" fill="#fff" stroke="#333" stroke-width="1.2"/>
<text x="1032.3" y="833.2" font-size="22.8" text-anchor="middle" font-weight="bold" textLength="14.0" lengthAdjust="spacingAndGlyphs" stroke="#111" stroke-width="0.55">D</text>
<text x="1063.4" y="834.5" font-size="25.8" text-anchor="start" font-weight="normal" textLength="135.9" lengthAdjust="spacingAndGlyphs" >MCP-1 level</text>
<text x="1028.6" y="1182" font-size="25.8" text-anchor="start" font-weight="normal" textLength="161" lengthAdjust="spacingAndGlyphs" transform="rotate(-90 1028.6 1182)" >MCP-1, pg/mL</text>
<text x="1322.4" y="1444.3" font-size="25.8" text-anchor="start" font-weight="normal" textLength="88.5" lengthAdjust="spacingAndGlyphs" >Placebo</text>
<text x="1651.2" y="1444.3" font-size="25.8" text-anchor="start" font-weight="normal" textLength="87" lengthAdjust="spacingAndGlyphs" >CN-105</text>
</g>
</svg></body></html>
